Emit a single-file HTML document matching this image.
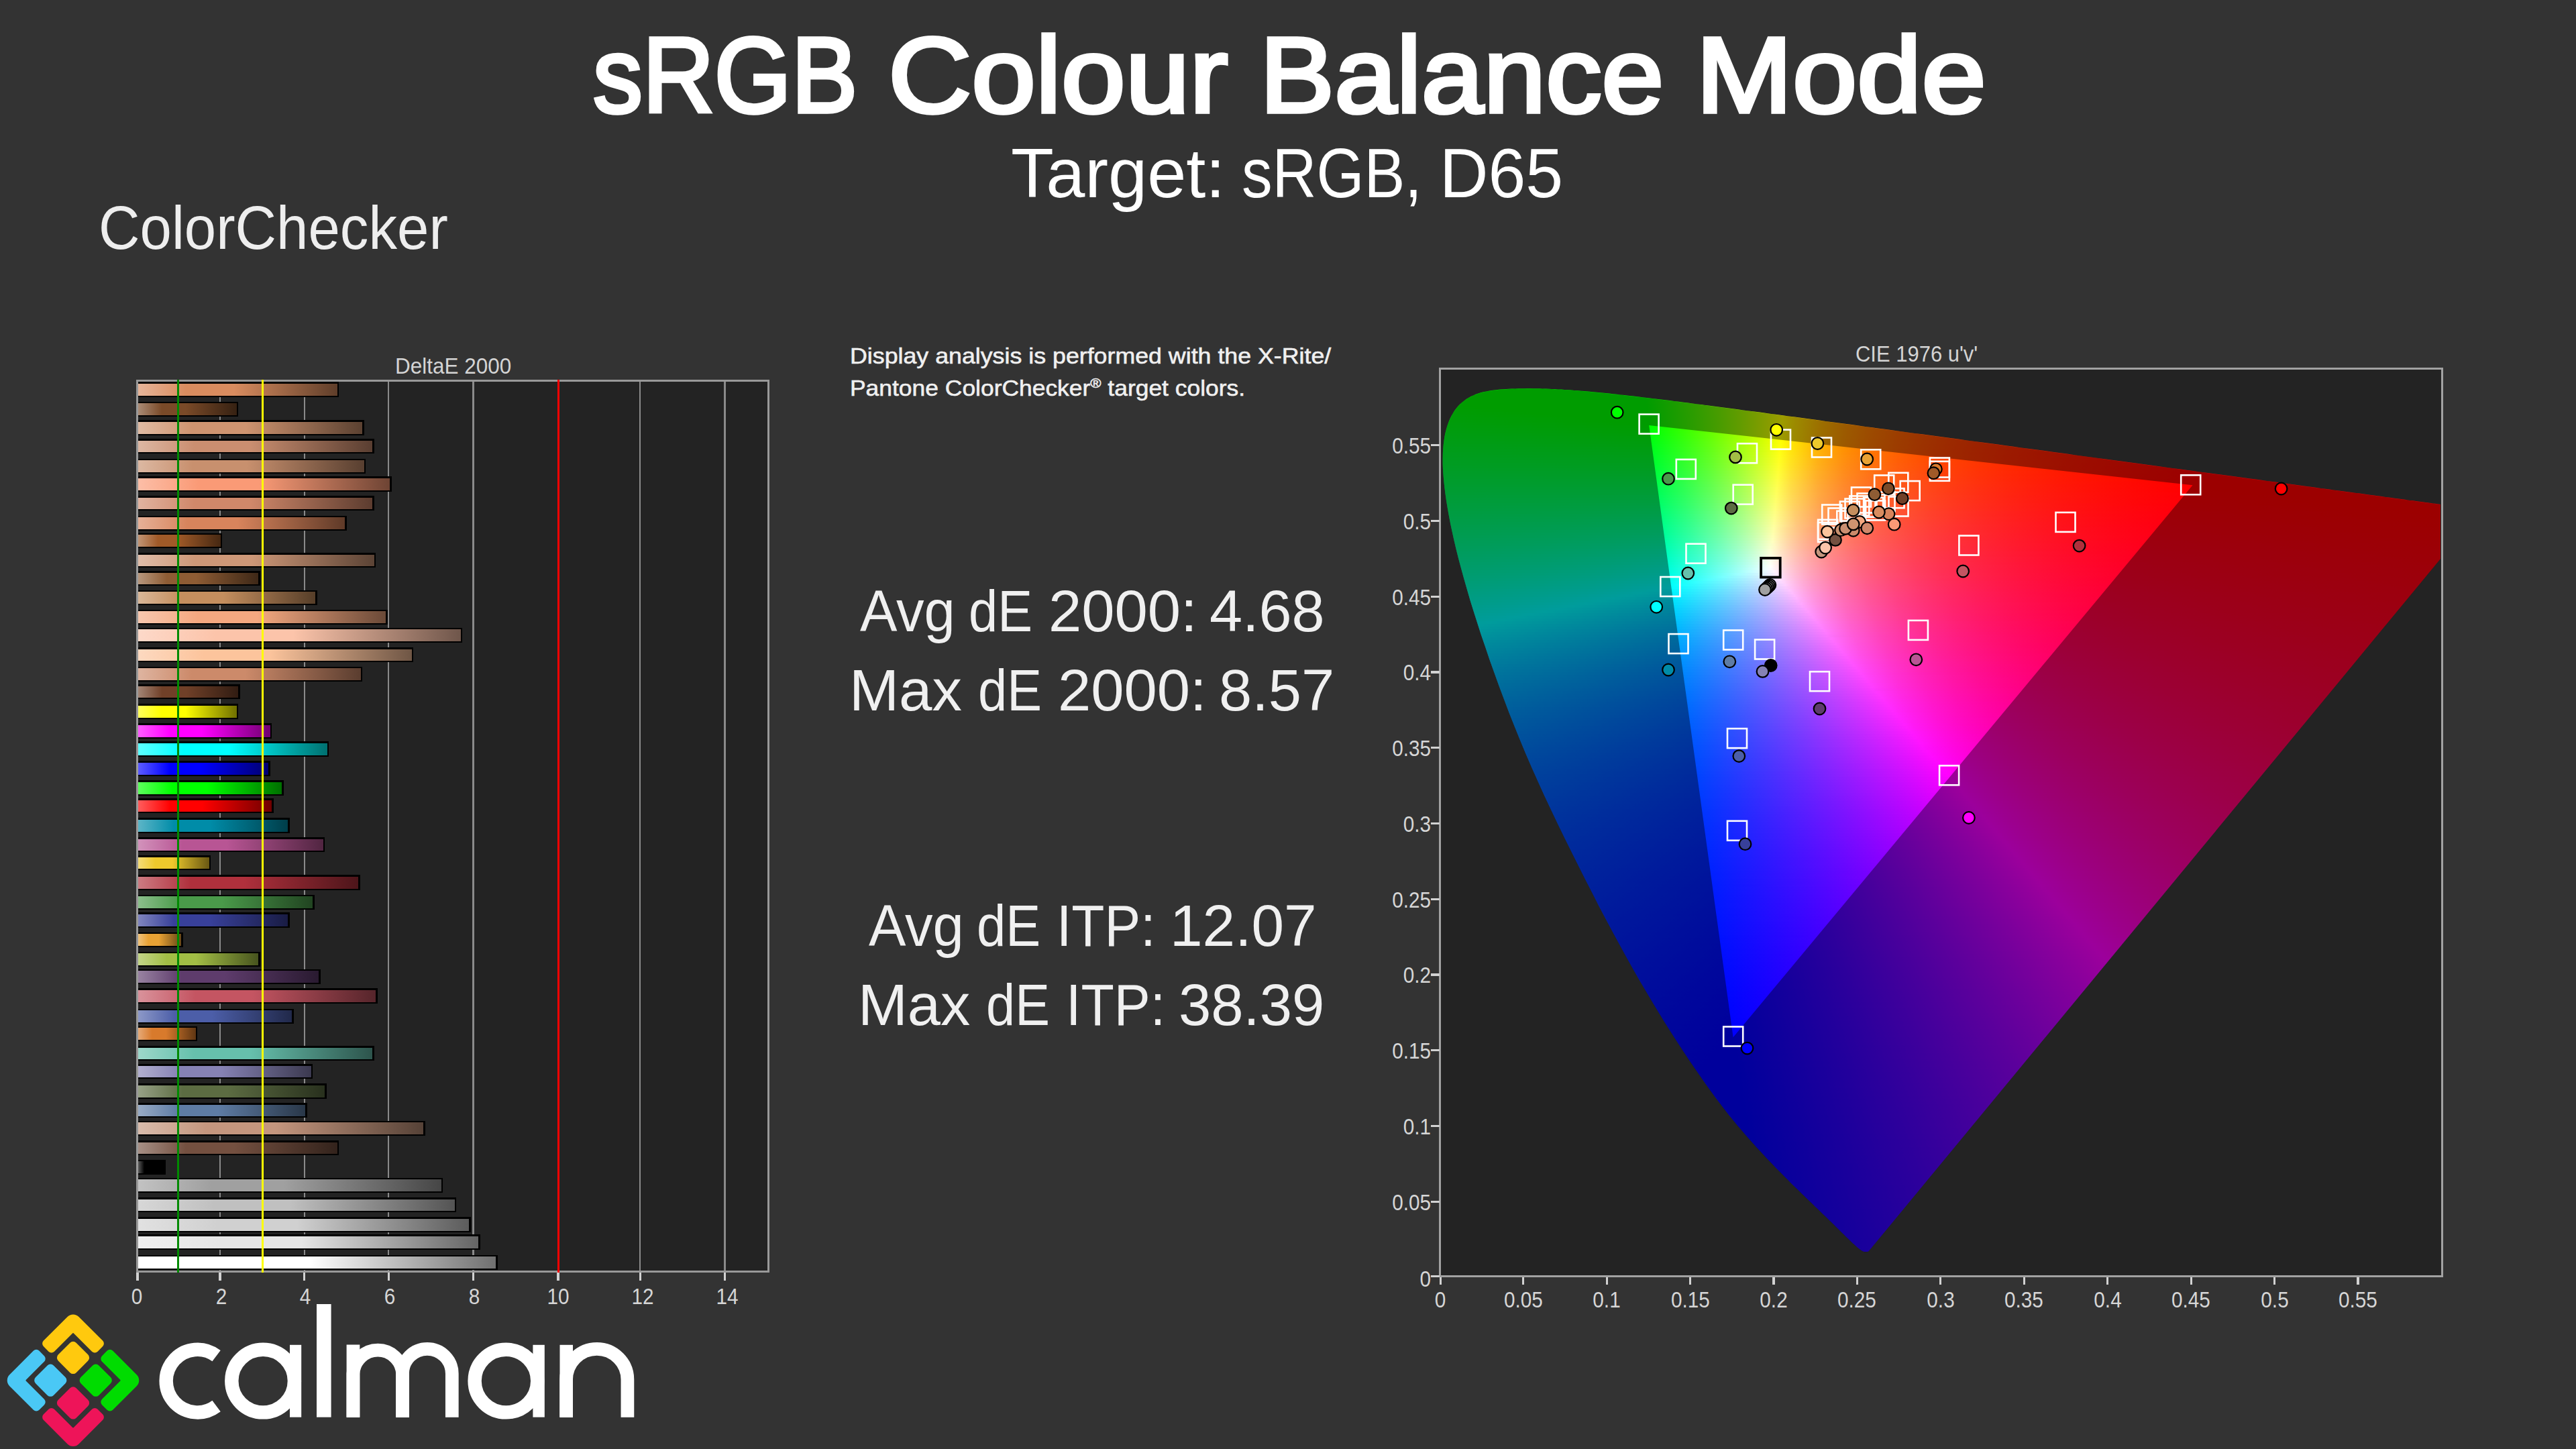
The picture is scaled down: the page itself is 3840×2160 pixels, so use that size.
<!DOCTYPE html>
<html lang="en"><head><meta charset="utf-8"><title>sRGB Colour Balance Mode</title>
<style>
html,body{margin:0;padding:0}
body{width:3840px;height:2160px;background:#333333;position:relative;overflow:hidden;font-family:"Liberation Sans",sans-serif}

#bc{position:absolute;background:#232323;overflow:hidden}
#bc b{position:absolute;display:block}
#bc .g{top:0;width:2.2px;height:100%;background:#8a8a8a}
#bc .t{top:0;width:3px;height:100%}
#bc .r{left:1.2px;height:22.3px;background:#000}
#bc .r u{position:absolute;display:block;left:2px;top:2.6px;right:2.6px;bottom:2.1px}
#bc .bd{left:0;top:0;right:0;bottom:0;border:3.2px solid #999}
.tk{position:absolute;display:block;background:#d2d2d2}
.tl{position:absolute;white-space:nowrap;color:#d6d6d6;font-size:33px;line-height:36px;transform:scaleX(.9)}

#cie .lc{position:absolute;left:0;top:0;width:100%;height:100%}#cie i{position:absolute;display:block;height:4px}
.tx{position:absolute;white-space:nowrap;line-height:1;transform-origin:0 0}
</style></head>
<body>
<span id="t1a" class="tx" style="left:883.6px;top:32.6px;font-size:159.2px;font-weight:normal;-webkit-text-stroke:5.5px #fff;color:#fff;transform:scaleX(0.9286);">sRGB</span>
<span id="t1b" class="tx" style="left:1324.0px;top:32.6px;font-size:159.2px;font-weight:normal;-webkit-text-stroke:5.5px #fff;color:#fff;transform:scaleX(1.0804);">Colour</span>
<span id="t1c" class="tx" style="left:1877.5px;top:32.6px;font-size:159.2px;font-weight:normal;-webkit-text-stroke:5.5px #fff;color:#fff;transform:scaleX(1.0467);">Balance</span>
<span id="t1d" class="tx" style="left:2527.5px;top:32.6px;font-size:159.2px;font-weight:normal;-webkit-text-stroke:5.5px #fff;color:#fff;transform:scaleX(1.0865);">Mode</span>
<span id="t2a" class="tx" style="left:1507.0px;top:205.7px;font-size:104.2px;font-weight:normal;color:#fff;transform:scaleX(1.0027);">Target:</span>
<span id="t2b" class="tx" style="left:1851.3px;top:205.7px;font-size:104.2px;font-weight:normal;color:#fff;transform:scaleX(0.8758);">sRGB,</span>
<span id="t2c" class="tx" style="left:2146.3px;top:205.7px;font-size:104.2px;font-weight:normal;color:#fff;transform:scaleX(0.9630);">D65</span>
<span id="t3" class="tx" style="left:147.3px;top:294.0px;font-size:91.4px;font-weight:normal;color:#eee;transform:scaleX(0.9321);">ColorChecker</span>
<span id="t4" class="tx" style="left:588.6px;top:529.5px;font-size:32.8px;font-weight:normal;color:#d4d4d4;transform:scaleX(0.9594);">DeltaE 2000</span>
<span id="t5" class="tx" style="left:2766.1px;top:512.2px;font-size:32.6px;font-weight:normal;color:#d4d4d4;transform:scaleX(0.9504);">CIE 1976 u'v'</span>
<span id="t6" class="tx" style="left:1266.9px;top:514.1px;font-size:33.9px;font-weight:normal;-webkit-text-stroke:.6px #f0f0f0;color:#f0f0f0;transform:scaleX(1.0549);">Display analysis is performed with the X-Rite/</span>
<span id="t7" class="tx" style="left:1266.9px;top:561.6px;font-size:33.9px;font-weight:normal;-webkit-text-stroke:.6px #f0f0f0;color:#f0f0f0;transform:scaleX(1.0451);">Pantone ColorChecker<span style="font-size:.62em;vertical-align:.55em;line-height:0">&reg;</span> target colors.</span>
<span id="t8a" class="tx" style="left:1281.5px;top:867.1px;font-size:88.0px;font-weight:normal;color:#f0f0f0;transform:scaleX(0.9439);">Avg</span>
<span id="t8b" class="tx" style="left:1443.9px;top:867.1px;font-size:88.0px;font-weight:normal;color:#f0f0f0;transform:scaleX(0.8826);">dE</span>
<span id="t8c" class="tx" style="left:1562.5px;top:867.1px;font-size:88.0px;font-weight:normal;color:#f0f0f0;transform:scaleX(1.0069);">2000:</span>
<span id="t8d" class="tx" style="left:1803.0px;top:867.1px;font-size:88.0px;font-weight:normal;color:#f0f0f0;transform:scaleX(1.0015);">4.68</span>
<span id="t9a" class="tx" style="left:1265.9px;top:985.1px;font-size:88.0px;font-weight:normal;color:#f0f0f0;transform:scaleX(1.0102);">Max</span>
<span id="t9b" class="tx" style="left:1457.9px;top:985.1px;font-size:88.0px;font-weight:normal;color:#f0f0f0;transform:scaleX(0.8826);">dE</span>
<span id="t9c" class="tx" style="left:1576.5px;top:985.1px;font-size:88.0px;font-weight:normal;color:#f0f0f0;transform:scaleX(1.0069);">2000:</span>
<span id="t9d" class="tx" style="left:1816.5px;top:985.1px;font-size:88.0px;font-weight:normal;color:#f0f0f0;transform:scaleX(1.0050);">8.57</span>
<span id="t10a" class="tx" style="left:1294.5px;top:1336.4px;font-size:88.0px;font-weight:normal;color:#f0f0f0;transform:scaleX(0.9439);">Avg</span>
<span id="t10b" class="tx" style="left:1456.0px;top:1336.4px;font-size:88.0px;font-weight:normal;color:#f0f0f0;transform:scaleX(0.8852);">dE</span>
<span id="t10c" class="tx" style="left:1574.7px;top:1336.4px;font-size:88.0px;font-weight:normal;color:#f0f0f0;transform:scaleX(0.9143);">ITP:</span>
<span id="t10d" class="tx" style="left:1743.6px;top:1336.4px;font-size:88.0px;font-weight:normal;color:#f0f0f0;transform:scaleX(0.9926);">12.07</span>
<span id="t11a" class="tx" style="left:1279.0px;top:1454.4px;font-size:88.0px;font-weight:normal;color:#f0f0f0;transform:scaleX(1.0065);">Max</span>
<span id="t11b" class="tx" style="left:1470.0px;top:1454.4px;font-size:88.0px;font-weight:normal;color:#f0f0f0;transform:scaleX(0.8812);">dE</span>
<span id="t11c" class="tx" style="left:1588.7px;top:1454.4px;font-size:88.0px;font-weight:normal;color:#f0f0f0;transform:scaleX(0.9185);">ITP:</span>
<span id="t11d" class="tx" style="left:1756.6px;top:1454.4px;font-size:88.0px;font-weight:normal;color:#f0f0f0;transform:scaleX(0.9861);">38.39</span>
<div id="bc" style="left:203.3px;top:566.0px;width:943.7px;height:1330.8px">
<b class="g" style="left:123.7px"></b>
<b class="g" style="left:249.4px"></b>
<b class="g" style="left:374.9px"></b>
<b class="g" style="left:501.2px"></b>
<b class="g" style="left:750.0px"></b>
<b class="g" style="left:876.2px"></b>
<b class="r" style="top:3.4px;width:300.9px"><u style="background:linear-gradient(90deg,#e7b599,#d98c5f 24%,#d98c5f 48%,#5f3e2a)"></u></b>
<b class="r" style="top:32.6px;width:150.8px"><u style="background:linear-gradient(90deg,#aa8b75,#7a4a28 24%,#7a4a28 48%,#362112)"></u></b>
<b class="r" style="top:60.4px;width:338.5px"><u style="background:linear-gradient(90deg,#e0bba3,#cf9470 24%,#cf9470 48%,#5b4131)"></u></b>
<b class="r" style="top:88.0px;width:353.5px"><u style="background:linear-gradient(90deg,#ddb7a3,#ca8e70 24%,#ca8e70 48%,#593e31)"></u></b>
<b class="r" style="top:117.8px;width:340.8px"><u style="background:linear-gradient(90deg,#dcb8a2,#c8906e 24%,#c8906e 48%,#583f30)"></u></b>
<b class="r" style="top:144.3px;width:379.5px"><u style="background:linear-gradient(90deg,#fcbea7,#fa9a76 24%,#fa9a76 48%,#6e4434)"></u></b>
<b class="r" style="top:173.0px;width:353.5px"><u style="background:linear-gradient(90deg,#e1b3a0,#d0886a 24%,#d0886a 48%,#5c3c2f)"></u></b>
<b class="r" style="top:202.6px;width:312.2px"><u style="background:linear-gradient(90deg,#e6b097,#d8845c 24%,#d8845c 48%,#5f3a28)"></u></b>
<b class="r" style="top:228.7px;width:126.8px"><u style="background:linear-gradient(90deg,#c29575,#a05a28 24%,#a05a28 48%,#462812)"></u></b>
<b class="r" style="top:258.0px;width:355.8px"><u style="background:linear-gradient(90deg,#e0bda9,#ce9878 24%,#ce9878 48%,#5b4335)"></u></b>
<b class="r" style="top:285.0px;width:183.4px"><u style="background:linear-gradient(90deg,#b7977d,#8e5c34 24%,#8e5c34 48%,#3e2817)"></u></b>
<b class="r" style="top:313.7px;width:268.1px"><u style="background:linear-gradient(90deg,#d9b798,#c48e5e 24%,#c48e5e 48%,#563e29)"></u></b>
<b class="r" style="top:342.7px;width:373.2px"><u style="background:linear-gradient(90deg,#f8c7ae,#f4a880 24%,#f4a880 48%,#6b4a38)"></u></b>
<b class="r" style="top:369.8px;width:484.7px"><u style="background:linear-gradient(90deg,#fdd9c9,#fcc4aa 24%,#fcc4aa 48%,#6f564b)"></u></b>
<b class="r" style="top:399.0px;width:411.9px"><u style="background:linear-gradient(90deg,#fdd9c0,#fcc49c 24%,#fcc49c 48%,#6f5645)"></u></b>
<b class="r" style="top:427.8px;width:335.9px"><u style="background:linear-gradient(90deg,#deb4a0,#cc8a6a 24%,#cc8a6a 48%,#5a3d2f)"></u></b>
<b class="r" style="top:454.1px;width:153.1px"><u style="background:linear-gradient(90deg,#a38575,#704028 24%,#704028 48%,#311c12)"></u></b>
<b class="r" style="top:483.4px;width:150.8px"><u style="background:linear-gradient(90deg,#ffff5c,#ffff00 24%,#ffff00 48%,#707000)"></u></b>
<b class="r" style="top:512.4px;width:201.0px"><u style="background:linear-gradient(90deg,#ff5cff,#ff00ff 24%,#ff00ff 48%,#700070)"></u></b>
<b class="r" style="top:539.4px;width:285.9px"><u style="background:linear-gradient(90deg,#5cffff,#00ffff 24%,#00ffff 48%,#007070)"></u></b>
<b class="r" style="top:568.4px;width:198.4px"><u style="background:linear-gradient(90deg,#5c5cff,#0000ff 24%,#0000ff 48%,#000070)"></u></b>
<b class="r" style="top:597.3px;width:218.3px"><u style="background:linear-gradient(90deg,#5cff5c,#00ff00 24%,#00ff00 48%,#007000)"></u></b>
<b class="r" style="top:624.1px;width:203.1px"><u style="background:linear-gradient(90deg,#ff5c5c,#ff0000 24%,#ff0000 48%,#700000)"></u></b>
<b class="r" style="top:653.4px;width:227.3px"><u style="background:linear-gradient(90deg,#5cb5c7,#008ca8 24%,#008ca8 48%,#003e4a)"></u></b>
<b class="r" style="top:682.0px;width:279.8px"><u style="background:linear-gradient(90deg,#d292bb,#b85594 24%,#b85594 48%,#512541)"></u></b>
<b class="r" style="top:709.2px;width:109.7px"><u style="background:linear-gradient(90deg,#f4dc78,#eec92c 24%,#eec92c 48%,#695813)"></u></b>
<b class="r" style="top:738.4px;width:332.4px"><u style="background:linear-gradient(90deg,#cc7b82,#b0303c 24%,#b0303c 48%,#4d151a)"></u></b>
<b class="r" style="top:767.6px;width:264.5px"><u style="background:linear-gradient(90deg,#8bbe8b,#4a9a4a 24%,#4a9a4a 48%,#214421)"></u></b>
<b class="r" style="top:794.3px;width:227.3px"><u style="background:linear-gradient(90deg,#8085be,#38409a 24%,#38409a 48%,#191c44)"></u></b>
<b class="r" style="top:823.5px;width:68.2px"><u style="background:linear-gradient(90deg,#f0c37d,#e8a234 24%,#e8a234 48%,#664717)"></u></b>
<b class="r" style="top:852.8px;width:183.4px"><u style="background:linear-gradient(90deg,#c3d588,#a2be45 24%,#a2be45 48%,#47541e)"></u></b>
<b class="r" style="top:878.8px;width:273.5px"><u style="background:linear-gradient(90deg,#9882a1,#5e3c6c 24%,#5e3c6c 48%,#291a30)"></u></b>
<b class="r" style="top:907.4px;width:358.4px"><u style="background:linear-gradient(90deg,#d9929b,#c45562 24%,#c45562 48%,#56252b)"></u></b>
<b class="r" style="top:937.6px;width:233.6px"><u style="background:linear-gradient(90deg,#8c98c7,#4c5ea8 24%,#4c5ea8 48%,#21294a)"></u></b>
<b class="r" style="top:963.8px;width:89.8px"><u style="background:linear-gradient(90deg,#e6aa78,#d87a2c 24%,#d87a2c 48%,#5f3613)"></u></b>
<b class="r" style="top:993.0px;width:353.5px"><u style="background:linear-gradient(90deg,#9dd7ca,#66c0ac 24%,#66c0ac 48%,#2d544c)"></u></b>
<b class="r" style="top:1020.1px;width:262.0px"><u style="background:linear-gradient(90deg,#b2afcf,#8682b4 24%,#8682b4 48%,#3b394f)"></u></b>
<b class="r" style="top:1049.4px;width:282.2px"><u style="background:linear-gradient(90deg,#97a186,#5c6c42 24%,#5c6c42 48%,#28301d)"></u></b>
<b class="r" style="top:1078.2px;width:253.5px"><u style="background:linear-gradient(90deg,#98abc5,#5e7ca4 24%,#5e7ca4 48%,#293748)"></u></b>
<b class="r" style="top:1104.6px;width:429.5px"><u style="background:linear-gradient(90deg,#d9bcac,#c4967e 24%,#c4967e 48%,#564237)"></u></b>
<b class="r" style="top:1134.0px;width:300.9px"><u style="background:linear-gradient(90deg,#a68f85,#745040 24%,#745040 48%,#33231c)"></u></b>
<b class="r" style="top:1162.7px;width:42.4px"><u style="background:linear-gradient(90deg,#5c5c5c,#000000 24%,#000000 48%,#000000)"></u></b>
<b class="r" style="top:1189.8px;width:455.8px"><u style="background:linear-gradient(90deg,#c2c2c2,#a0a0a0 24%,#a0a0a0 48%,#464646)"></u></b>
<b class="r" style="top:1219.0px;width:476.0px"><u style="background:linear-gradient(90deg,#d7d7d7,#c0c0c0 24%,#c0c0c0 48%,#545454)"></u></b>
<b class="r" style="top:1248.3px;width:497.1px"><u style="background:linear-gradient(90deg,#e1e1e1,#d0d0d0 24%,#d0d0d0 48%,#5c5c5c)"></u></b>
<b class="r" style="top:1274.4px;width:511.2px"><u style="background:linear-gradient(90deg,#efefef,#e6e6e6 24%,#e6e6e6 48%,#656565)"></u></b>
<b class="r" style="top:1304.6px;width:537.5px"><u style="background:linear-gradient(90deg,#ffffff,#ffffff 24%,#ffffff 48%,#707070)"></u></b>
<b class="bd"></b>
<b class="t" style="left:61.2px;background:#008a00"></b>
<b class="t" style="left:187.2px;background:#ffff00"></b>
<b class="t" style="left:627.7px;background:#ff0000"></b>
</div>
<b class="tk" style="left:203.2px;top:1896.6px;width:3.4px;height:12.6px"></b>
<span class="tl" style="left:153.9px;top:1914.6px;width:100px;text-align:center">0</span>
<b class="tk" style="left:326.4px;top:1896.6px;width:3.4px;height:12.6px"></b>
<span class="tl" style="left:279.6px;top:1914.6px;width:100px;text-align:center">2</span>
<b class="tk" style="left:452.1px;top:1896.6px;width:3.4px;height:12.6px"></b>
<span class="tl" style="left:405.3px;top:1914.6px;width:100px;text-align:center">4</span>
<b class="tk" style="left:577.6px;top:1896.6px;width:3.4px;height:12.6px"></b>
<span class="tl" style="left:531.0px;top:1914.6px;width:100px;text-align:center">6</span>
<b class="tk" style="left:703.9px;top:1896.6px;width:3.4px;height:12.6px"></b>
<span class="tl" style="left:656.7px;top:1914.6px;width:100px;text-align:center">8</span>
<b class="tk" style="left:830.3px;top:1896.6px;width:3.4px;height:12.6px"></b>
<span class="tl" style="left:782.4px;top:1914.6px;width:100px;text-align:center">10</span>
<b class="tk" style="left:952.7px;top:1896.6px;width:3.4px;height:12.6px"></b>
<span class="tl" style="left:908.1px;top:1914.6px;width:100px;text-align:center">12</span>
<b class="tk" style="left:1078.9px;top:1896.6px;width:3.4px;height:12.6px"></b>
<span class="tl" style="left:1033.8px;top:1914.6px;width:100px;text-align:center">14</span>
<div style="position:absolute;left:2145.4px;top:548.2px;width:1496.5px;height:1355.5px;background:#232323"></div>
<div id="cie" style="position:absolute;left:2149.0px;top:551.8px;width:1489.2px;height:1348.4px;overflow:hidden">
<div class="lc" style="clip-path:polygon(637.1px 1312.8px,637.1px 1312.8px,637.0px 1312.8px,637.0px 1312.9px,636.9px 1312.9px,636.9px 1313.0px,636.8px 1313.0px,636.8px 1313.0px,636.7px 1313.1px,636.7px 1313.2px,636.6px 1313.2px,636.5px 1313.3px,636.5px 1313.3px,636.4px 1313.4px,636.3px 1313.4px,636.2px 1313.5px,636.1px 1313.6px,636.0px 1313.6px,636.0px 1313.7px,635.9px 1313.7px,635.8px 1313.8px,635.7px 1313.8px,635.5px 1313.9px,635.4px 1314.0px,635.3px 1314.0px,635.2px 1314.0px,635.1px 1314.1px,635.0px 1314.1px,634.8px 1314.2px,634.7px 1314.2px,634.6px 1314.2px,634.4px 1314.3px,634.3px 1314.3px,634.1px 1314.3px,633.9px 1314.3px,633.8px 1314.3px,633.6px 1314.3px,633.4px 1314.3px,633.3px 1314.3px,633.1px 1314.3px,632.9px 1314.3px,632.7px 1314.3px,632.5px 1314.3px,632.3px 1314.3px,632.1px 1314.3px,631.9px 1314.3px,631.7px 1314.3px,631.4px 1314.3px,631.2px 1314.3px,631.0px 1314.3px,630.7px 1314.2px,630.4px 1314.2px,630.2px 1314.2px,629.8px 1314.1px,629.5px 1314.0px,629.2px 1313.9px,628.8px 1313.8px,628.4px 1313.6px,628.0px 1313.4px,627.5px 1313.2px,627.0px 1312.9px,626.5px 1312.6px,625.9px 1312.3px,625.3px 1311.9px,624.6px 1311.4px,623.9px 1310.9px,623.2px 1310.3px,622.4px 1309.7px,621.6px 1309.1px,620.7px 1308.3px,619.8px 1307.6px,618.8px 1306.7px,617.7px 1305.8px,616.7px 1304.9px,615.5px 1303.8px,614.4px 1302.8px,613.1px 1301.6px,611.8px 1300.4px,610.5px 1299.2px,609.1px 1297.8px,607.7px 1296.4px,606.2px 1295.0px,604.6px 1293.5px,603.0px 1291.9px,601.3px 1290.2px,599.6px 1288.5px,597.8px 1286.7px,595.9px 1284.9px,594.0px 1283.0px,592.0px 1281.0px,590.0px 1279.0px,587.8px 1276.9px,585.7px 1274.8px,583.4px 1272.5px,581.1px 1270.3px,578.7px 1267.9px,576.2px 1265.5px,573.7px 1263.0px,571.0px 1260.5px,568.3px 1257.9px,565.5px 1255.2px,562.7px 1252.4px,559.7px 1249.5px,556.7px 1246.6px,553.5px 1243.5px,550.3px 1240.4px,546.9px 1237.2px,543.5px 1233.9px,540.0px 1230.4px,536.3px 1226.9px,532.6px 1223.2px,528.7px 1219.5px,524.8px 1215.6px,520.7px 1211.6px,516.6px 1207.5px,512.3px 1203.2px,507.9px 1198.8px,503.4px 1194.3px,498.9px 1189.6px,494.2px 1184.8px,489.4px 1179.8px,484.5px 1174.7px,479.5px 1169.3px,474.4px 1163.8px,469.2px 1158.2px,463.9px 1152.3px,458.5px 1146.3px,453.0px 1140.0px,447.3px 1133.3px,441.4px 1126.4px,435.3px 1119.0px,428.9px 1111.1px,422.3px 1102.7px,415.4px 1093.7px,408.2px 1084.1px,400.7px 1073.9px,393.0px 1063.1px,385.0px 1051.7px,376.7px 1039.8px,368.3px 1027.4px,359.7px 1014.4px,350.9px 1000.9px,341.9px 986.9px,332.7px 972.4px,323.5px 957.4px,314.0px 941.8px,304.5px 925.7px,294.8px 909.1px,284.9px 891.9px,275.0px 874.2px,265.0px 855.9px,254.8px 837.2px,244.7px 818.1px,234.4px 798.6px,224.2px 778.8px,213.9px 758.7px,203.6px 738.3px,193.4px 717.8px,183.2px 697.2px,173.1px 676.4px,163.1px 655.5px,153.4px 634.6px,143.8px 613.7px,134.5px 592.9px,125.6px 572.1px,116.9px 551.4px,108.6px 530.9px,100.6px 510.6px,92.9px 490.5px,85.5px 470.7px,78.5px 451.2px,71.7px 432.1px,65.3px 413.3px,59.1px 395.1px,53.3px 377.2px,47.8px 359.9px,42.6px 343.1px,37.8px 326.7px,33.3px 311.0px,29.1px 295.8px,25.2px 281.2px,21.7px 267.2px,18.5px 253.8px,15.7px 240.9px,13.1px 228.6px,10.8px 216.8px,8.8px 205.5px,7.0px 194.8px,5.6px 184.6px,4.3px 174.8px,3.3px 165.5px,2.6px 156.6px,2.0px 148.2px,1.7px 140.1px,1.7px 132.4px,1.8px 125.1px,2.1px 118.1px,2.7px 111.4px,3.5px 105.0px,4.4px 99.0px,5.6px 93.2px,7.0px 87.7px,8.5px 82.6px,10.3px 77.7px,12.2px 73.0px,14.3px 68.7px,16.6px 64.6px,19.0px 60.8px,21.6px 57.2px,24.3px 53.9px,27.2px 50.9px,30.2px 48.1px,33.4px 45.6px,36.6px 43.2px,40.0px 41.1px,43.5px 39.2px,47.1px 37.6px,50.8px 36.0px,54.5px 34.7px,58.4px 33.5px,62.3px 32.5px,66.3px 31.6px,70.4px 30.9px,74.5px 30.2px,78.7px 29.7px,83.0px 29.2px,87.3px 28.8px,91.7px 28.4px,96.1px 28.2px,100.6px 27.9px,105.1px 27.7px,109.6px 27.6px,114.1px 27.5px,118.6px 27.4px,123.2px 27.4px,127.7px 27.3px,132.2px 27.3px,136.8px 27.4px,141.3px 27.4px,145.9px 27.5px,150.4px 27.6px,155.0px 27.8px,159.6px 27.9px,164.3px 28.1px,168.9px 28.3px,173.6px 28.6px,178.4px 28.8px,183.2px 29.1px,188.0px 29.4px,192.9px 29.8px,197.8px 30.1px,202.7px 30.5px,207.8px 30.9px,212.8px 31.3px,218.0px 31.7px,223.1px 32.2px,228.4px 32.7px,233.6px 33.2px,239.0px 33.7px,244.4px 34.2px,249.8px 34.8px,255.4px 35.4px,260.9px 36.0px,266.6px 36.6px,272.3px 37.2px,278.1px 37.9px,283.9px 38.5px,289.8px 39.2px,295.8px 39.9px,301.9px 40.6px,308.0px 41.4px,314.3px 42.1px,320.6px 42.9px,327.0px 43.7px,333.5px 44.5px,340.0px 45.3px,346.7px 46.1px,353.4px 47.0px,360.3px 47.9px,367.2px 48.7px,374.2px 49.6px,381.3px 50.6px,388.5px 51.5px,395.8px 52.5px,403.2px 53.4px,410.7px 54.4px,418.3px 55.4px,426.0px 56.4px,433.7px 57.5px,441.6px 58.5px,449.6px 59.6px,457.7px 60.6px,465.9px 61.7px,474.2px 62.8px,482.7px 64.0px,491.2px 65.1px,499.8px 66.2px,508.5px 67.4px,517.4px 68.6px,526.3px 69.8px,535.4px 71.0px,544.5px 72.3px,553.8px 73.5px,563.1px 74.8px,572.6px 76.1px,582.2px 77.4px,591.9px 78.7px,601.7px 80.0px,611.6px 81.3px,621.6px 82.7px,631.7px 84.1px,641.9px 85.5px,652.2px 86.9px,662.6px 88.3px,673.1px 89.7px,683.8px 91.1px,694.5px 92.6px,705.3px 94.1px,716.2px 95.5px,727.1px 97.0px,738.2px 98.5px,749.3px 100.0px,760.5px 101.5px,771.8px 103.0px,783.1px 104.6px,794.6px 106.1px,806.1px 107.7px,817.6px 109.2px,829.2px 110.8px,840.9px 112.4px,852.6px 114.0px,864.3px 115.6px,876.0px 117.2px,887.7px 118.8px,899.3px 120.3px,910.9px 121.9px,922.4px 123.5px,933.8px 125.0px,945.1px 126.6px,956.4px 128.1px,967.7px 129.6px,978.9px 131.1px,990.1px 132.7px,1001.3px 134.2px,1012.5px 135.7px,1023.7px 137.2px,1034.9px 138.7px,1046.0px 140.2px,1057.0px 141.7px,1067.9px 143.2px,1078.7px 144.6px,1089.3px 146.1px,1099.8px 147.5px,1110.1px 148.9px,1120.2px 150.2px,1130.2px 151.6px,1140.1px 152.9px,1149.7px 154.2px,1159.3px 155.5px,1168.7px 156.7px,1178.0px 158.0px,1187.1px 159.2px,1196.1px 160.5px,1204.9px 161.7px,1213.6px 162.8px,1222.1px 164.0px,1230.4px 165.1px,1238.6px 166.2px,1246.6px 167.3px,1254.4px 168.4px,1262.0px 169.4px,1269.5px 170.5px,1276.8px 171.4px,1283.9px 172.4px,1290.9px 173.4px,1297.7px 174.3px,1304.3px 175.2px,1310.8px 176.1px,1317.2px 176.9px,1323.4px 177.8px,1329.4px 178.6px,1335.4px 179.4px,1341.2px 180.2px,1346.8px 180.9px,1352.4px 181.7px,1357.8px 182.4px,1363.2px 183.1px,1368.4px 183.8px,1373.5px 184.5px,1378.6px 185.2px,1383.5px 185.9px,1388.4px 186.5px,1393.2px 187.2px,1397.9px 187.8px,1402.5px 188.5px,1407.1px 189.1px,1411.5px 189.7px,1415.9px 190.3px,1420.1px 190.9px,1424.3px 191.4px,1428.3px 192.0px,1432.3px 192.5px,1436.2px 193.0px,1440.0px 193.6px,1443.7px 194.1px,1447.3px 194.5px,1450.7px 195.0px,1454.1px 195.5px,1457.4px 195.9px,1460.6px 196.3px,1463.7px 196.8px,1466.7px 197.2px,1469.6px 197.5px,1472.4px 197.9px,1475.2px 198.3px,1477.8px 198.6px,1480.4px 199.0px,1482.9px 199.3px,1485.3px 199.7px,1487.7px 200.0px,1490.0px 200.3px,1492.2px 200.6px,1494.3px 200.9px,1496.4px 201.1px,1498.4px 201.4px,1500.3px 201.7px,1502.2px 201.9px,1504.0px 202.2px,1505.7px 202.4px,1507.4px 202.6px,1509.0px 202.8px,1510.5px 203.1px,1512.0px 203.3px,1513.4px 203.4px,1514.8px 203.6px,1516.1px 203.8px,1517.3px 204.0px,1518.5px 204.1px,1519.6px 204.3px,1520.7px 204.4px,1521.7px 204.6px,1522.7px 204.7px,1523.6px 204.8px,1524.5px 205.0px,1525.3px 205.1px,1526.1px 205.2px,1526.9px 205.3px,1527.6px 205.4px,1528.3px 205.5px,1529.1px 205.6px,1529.7px 205.7px,1530.4px 205.8px,1531.1px 205.9px,1531.7px 205.9px,1532.4px 206.0px,1533.0px 206.1px,1533.6px 206.2px,1534.3px 206.3px,1534.9px 206.4px,1535.5px 206.5px,1536.1px 206.5px,1536.7px 206.6px,1537.3px 206.7px,1537.8px 206.8px,1538.4px 206.8px,1539.0px 206.9px,1539.5px 207.0px,1540.1px 207.1px,1540.6px 207.1px,1541.1px 207.2px,1541.6px 207.3px,1542.1px 207.4px,1542.6px 207.4px,1543.1px 207.5px,1543.6px 207.6px,1544.0px 207.6px,1544.5px 207.7px,1544.9px 207.7px,1545.3px 207.8px,1545.7px 207.8px,1546.0px 207.9px,1546.4px 207.9px,1546.7px 208.0px,1547.1px 208.0px,1547.4px 208.1px,1547.6px 208.1px,1547.9px 208.1px,1548.2px 208.2px,1548.4px 208.2px,1548.6px 208.2px,1548.7px 208.3px,1548.9px 208.3px,1549.0px 208.3px,1549.1px 208.3px,1549.2px 208.3px,1549.3px 208.3px,1549.3px 208.3px,1549.3px 208.3px,1549.3px 208.3px,1549.2px 208.3px)">
<i style="left:71px;top:26px;width:132px;background:linear-gradient(90deg,#0f0 0px,#0f0 40px,#0f0 80px,#0f0 120px,#0f0 132px)"></i><i style="left:53px;top:30px;width:195px;background:linear-gradient(90deg,#0f0 0px,#0f0 40px,#0f0 80px,#0f0 120px,#0f0 160px,#0f0 195px)"></i><i style="left:42px;top:34px;width:242px;background:linear-gradient(90deg,#0f0 0px,#0f0 40px,#0f0 80px,#0f0 120px,#0f0 160px,#0f0 200px,#0f0 240px,#0f0 242px)"></i><i style="left:35px;top:38px;width:283px;background:linear-gradient(90deg,#0f0 0px,#0f0 40px,#0f0 80px,#0f0 120px,#0f0 160px,#0f0 200px,#0f0 240px,#0f0 268.4px,#0bff00 280px,#0eff00 283px)"></i><i style="left:29px;top:42px;width:322px;background:linear-gradient(90deg,#0f0 0px,#0f0 40px,#0f0 80px,#0f0 120px,#0f0 160px,#0f0 200px,#0f0 240px,#0f0 275px,#05ff00 280px,#2dff00 320px,#30ff00 322px)"></i><i style="left:24px;top:46px;width:358px;background:linear-gradient(90deg,#0f0 0px,#0f0 40px,#0f0 80px,#0f0 120px,#0f0 160px,#0f0 200px,#0f0 240px,#0f0 280px,#28ff00 320px,#51ff00 358px)"></i><i style="left:21px;top:50px;width:392px;background:linear-gradient(90deg,#00ff01 0px,#0f0 17.3px,#0f0 40px,#0f0 80px,#0f0 120px,#0f0 160px,#0f0 200px,#0f0 240px,#0f0 280px,#0f0 284.1px,#24ff00 320px,#50ff00 360px,#76ff00 392px)"></i><i style="left:17px;top:54px;width:426px;background:linear-gradient(90deg,#00ff04 0px,#00ff01 40px,#0f0 57.6px,#0f0 80px,#0f0 120px,#0f0 160px,#0f0 200px,#0f0 240px,#0f0 280px,#0f0 288.6px,#20ff00 320px,#4bff00 360px,#7bff00 400px,#9dff00 426px)"></i><i style="left:15px;top:58px;width:458px;background:linear-gradient(90deg,#00ff06 0px,#00ff04 40px,#00ff01 80px,#0f0 95.9px,#0f0 120px,#0f0 160px,#0f0 200px,#0f0 240px,#0f0 280px,#0f0 291.2px,#1dff00 320px,#49ff00 360px,#79ff00 400px,#aeff00 440px,#c7ff00 458px)"></i><i style="left:12px;top:62px;width:491px;background:linear-gradient(90deg,#00ff09 0px,#00ff06 40px,#00ff04 80px,#00ff01 120px,#0f0 135.2px,#0f0 160px,#0f0 200px,#0f0 240px,#0f0 280px,#0f0 294.7px,#19ff00 320px,#45ff00 360px,#75ff00 400px,#af0 440px,#e4ff00 480px,#f6ff00 491px)"></i><i style="left:10px;top:66px;width:523px;background:linear-gradient(90deg,#00ff0b 0px,#00ff09 40px,#00ff06 80px,#00ff04 120px,#00ff01 160px,#0f0 173.5px,#0f0 200px,#0f0 240px,#0f0 280px,#0f0 297.3px,#17ff00 320px,#42ff00 360px,#72ff00 400px,#a7ff00 440px,#e2ff00 480px,#ff0 498.4px,#ffdf00 520px,#ffdb00 523px)"></i><i style="left:8px;top:70px;width:554px;background:linear-gradient(90deg,#00ff0e 0px,#00ff0b 40px,#00ff09 80px,#00ff07 120px,#00ff04 160px,#00ff01 200px,#0f0 211.9px,#0f0 240px,#0f0 280px,#0f0 299.8px,#14ff00 320px,#40ff00 360px,#6fff00 400px,#a4ff00 440px,#dfff00 480px,#ff0 500.1px,#ffe100 520px,#ffb900 554px)"></i><i style="left:7px;top:74px;width:585px;background:linear-gradient(90deg,#00ff10 0px,#00ff0e 40px,#00ff0c 80px,#00ff09 120px,#00ff07 160px,#00ff04 200px,#00ff01 240px,#0f0 249.2px,#0f0 280px,#0f0 301.4px,#13ff00 320px,#3eff00 360px,#6eff00 400px,#a3ff00 440px,#deff00 480px,#ff0 500.8px,#ffe200 520px,#ffb400 560px,#ff9d00 585px)"></i><i style="left:5px;top:78px;width:616px;background:linear-gradient(90deg,#00ff13 0px,#0f1 40px,#00ff0e 80px,#00ff0c 120px,#00ff0a 160px,#00ff07 200px,#00ff04 240px,#00ff01 280px,#0f0 287.5px,#0f0 303.9px,#10ff00 320px,#3cff00 360px,#6bff00 400px,#a0ff00 440px,#dbff00 480px,#ff0 502.5px,#ffe400 520px,#ffb500 560px,#ff9300 600px,#ff8700 616px)"></i><i style="left:4px;top:82px;width:647px;background:linear-gradient(90deg,#00ff15 0px,#00ff13 40px,#0f1 80px,#00ff0f 120px,#00ff0c 160px,#00ff0a 200px,#00ff07 240px,#00ff04 280px,#00ff02 305.5px,#0fff00 320px,#14ff00 324.8px,#3aff00 360px,#6aff00 400px,#9fff00 440px,#daff00 480px,#ff0 503.2px,#ffe500 520px,#ffb600 560px,#ff9300 600px,#ff7900 640px,#ff7500 647px)"></i><i style="left:3px;top:86px;width:677px;background:linear-gradient(90deg,#00ff17 0px,#00ff16 40px,#00ff14 80px,#0f1 120px,#00ff0f 160px,#00ff0d 200px,#00ff0a 240px,#00ff07 280px,#00ff05 307px,#0dff04 320px,#39ff00 360px,#69ff00 400px,#9eff00 440px,#d9ff00 480px,#ff0 503.8px,#ffe600 520px,#ffb600 560px,#ff9300 600px,#ff7900 640px,#ff6500 677px)"></i><i style="left:2px;top:90px;width:708px;background:linear-gradient(90deg,#00ff1a 0px,#00ff18 40px,#00ff16 80px,#00ff14 120px,#00ff12 160px,#00ff10 200px,#00ff0d 240px,#00ff0a 280px,#00ff08 308.6px,#0cff07 320px,#37ff04 360px,#6f0 399.4px,#9cff00 440px,#d7ff00 480px,#ff0 504.5px,#ffe700 520px,#ffb700 560px,#ff9300 600px,#ff7900 640px,#ff6400 680px,#ff5800 708px)"></i><i style="left:1px;top:94px;width:738px;background:linear-gradient(90deg,#00ff1c 0px,#00ff1b 40px,#00ff19 80px,#00ff17 120px,#00ff15 160px,#00ff13 200px,#00ff10 240px,#00ff0d 280px,#00ff0b 310.1px,#0aff0a 320px,#36ff07 360px,#66ff04 400px,#96ff00 436.7px,#9bff00 440px,#d6ff00 480px,#ff0 505.2px,#ffe800 520px,#ffb700 560px,#ff9400 600px,#ff7900 640px,#ff6400 680px,#ff5300 720px,#ff4c00 738px)"></i><i style="left:0px;top:98px;width:769px;background:linear-gradient(90deg,#00ff1f 0px,#00ff1d 40px,#00ff1c 80px,#00ff1a 120px,#00ff18 160px,#00ff16 200px,#00ff13 240px,#0f1 280px,#00ff0e 311.7px,#09ff0e 320px,#34ff0b 360px,#64ff07 400px,#99ff04 440px,#cbff00 474px,#d5ff00 480px,#ff0 505.9px,#ffe900 520px,#ffb700 560px,#ff9400 600px,#ff7900 640px,#ff6400 680px,#ff5300 720px,#ff4500 760px,#ff4200 769px)"></i><i style="left:0px;top:102px;width:799px;background:linear-gradient(90deg,#00ff21 0px,#00ff20 40px,#00ff1e 80px,#00ff1c 120px,#00ff1b 160px,#00ff18 200px,#00ff16 240px,#00ff14 280px,#00ff12 312.2px,#08ff11 320px,#34ff0e 360px,#64ff0b 400px,#99ff07 440px,#d5ff03 480px,#ffff01 505.6px,#fff700 510.3px,#ffe800 520px,#ffb700 560px,#ff9300 600px,#ff7800 640px,#ff6300 680px,#ff5200 720px,#f40 760px,#ff3900 799px)"></i><i style="left:0px;top:106px;width:828px;background:linear-gradient(90deg,#00ff24 0px,#0f2 40px,#00ff21 80px,#00ff1f 120px,#00ff1d 160px,#00ff1b 200px,#00ff19 240px,#00ff17 280px,#00ff15 312.8px,#07ff14 320px,#33ff12 360px,#64ff0f 400px,#9aff0b 440px,#d5ff07 480px,#ffff05 505.3px,#ffe803 520px,#ffc500 546.6px,#ffb600 560px,#ff9300 600px,#ff7800 640px,#ff6300 680px,#ff5200 720px,#f40 760px,#ff3800 800px,#ff3100 828px)"></i><i style="left:0px;top:110px;width:858px;background:linear-gradient(90deg,#00ff26 0px,#00ff25 40px,#00ff24 80px,#0f2 120px,#00ff20 160px,#00ff1e 200px,#00ff1c 240px,#00ff1a 280px,#00ff18 313.3px,#07ff18 320px,#33ff15 360px,#64ff12 400px,#9aff0f 440px,#d6ff0b 480px,#ffff09 504.9px,#ffe707 520px,#ffb602 560px,#ffa000 582.9px,#ff9200 600px,#f70 640px,#ff6200 680px,#ff5100 720px,#ff4300 760px,#ff3800 800px,#ff2e00 840px,#ff2a00 858px)"></i><i style="left:0px;top:114px;width:887px;background:linear-gradient(90deg,#00ff29 0px,#00ff28 40px,#00ff26 80px,#00ff25 120px,#00ff23 160px,#00ff21 200px,#00ff20 240px,#00ff1d 280px,#00ff1c 313.9px,#06ff1b 320px,#33ff19 360px,#63ff16 400px,#9aff13 440px,#d6ff10 480px,#ffff0d 504.6px,#ffe60b 520px,#ffb505 560px,#ff9101 600px,#ff8400 619.2px,#f70 640px,#ff6200 680px,#ff5100 720px,#ff4300 760px,#ff3700 800px,#ff2e00 840px,#ff2500 880px,#ff2400 887px)"></i><i style="left:0px;top:118px;width:916px;background:linear-gradient(90deg,#00ff2b 0px,#00ff2a 40px,#00ff29 80px,#00ff28 120px,#00ff26 160px,#00ff24 200px,#00ff23 240px,#00ff21 280px,#00ff1f 314.4px,#06ff1f 320px,#32ff1c 360px,#63ff1a 400px,#9aff17 440px,#d6ff14 480px,#ffff12 504.3px,#ffe60f 520px,#ffb409 560px,#ff9104 600px,#ff7601 640px,#ff6d00 655.5px,#ff6100 680px,#ff5000 720px,#ff4200 760px,#ff3700 800px,#ff2d00 840px,#ff2500 880px,#ff1e00 916px)"></i><i style="left:0px;top:122px;width:946px;background:linear-gradient(90deg,#00ff2e 0px,#00ff2d 40px,#00ff2c 80px,#00ff2a 120px,#00ff29 160px,#00ff27 200px,#00ff26 240px,#00ff24 280px,#0f2 315px,#05ff22 320px,#32ff20 360px,#63ff1e 400px,#9aff1b 440px,#d7ff18 480px,#ffff16 504px,#ffe513 520px,#ffb40c 560px,#ff9007 600px,#ff7504 640px,#ff6101 680px,#ff5b00 691.8px,#ff5000 720px,#ff4200 760px,#ff3600 800px,#ff2d00 840px,#ff2400 880px,#ff1d00 920px,#ff1900 946px)"></i><i style="left:0px;top:126px;width:975px;background:linear-gradient(90deg,#00ff30 0px,#00ff2f 40px,#00ff2e 80px,#00ff2d 120px,#00ff2c 160px,#00ff2b 200px,#00ff29 240px,#00ff27 280px,#00ff26 315.5px,#05ff26 320px,#31ff24 360px,#63ff21 400px,#9aff1f 440px,#d7ff1c 480px,#ffff1a 503.7px,#ffe517 520px,#ffb30f 560px,#ff900a 600px,#ff7506 640px,#ff6003 680px,#ff4f00 720px,#ff4c00 728.1px,#ff4200 760px,#ff3600 800px,#ff2c00 840px,#ff2400 880px,#ff1d00 920px,#ff1600 960px,#ff1400 975px)"></i><i style="left:0px;top:130px;width:1005px;background:linear-gradient(90deg,#0f3 0px,#00ff32 40px,#00ff31 80px,#00ff30 120px,#00ff2f 160px,#00ff2e 200px,#00ff2c 240px,#00ff2b 280px,#00ff29 316.1px,#04ff29 320px,#31ff27 360px,#63ff25 400px,#9aff23 440px,#d7ff21 480px,#ffff1f 503.3px,#ffe41b 520px,#ffb313 560px,#ff8f0d 600px,#ff7409 640px,#ff5f05 680px,#ff4f02 720px,#ff4100 760px,#ff4000 764.4px,#ff3600 800px,#ff2c00 840px,#ff2400 880px,#ff1c00 920px,#ff1600 960px,#ff1000 1000px,#ff1000 1005px)"></i><i style="left:0px;top:134px;width:1035px;background:linear-gradient(90deg,#00ff36 0px,#00ff35 40px,#00ff34 80px,#0f3 120px,#00ff32 160px,#00ff31 200px,#00ff2f 240px,#00ff2e 280px,#00ff2d 316.6px,#04ff2d 320px,#31ff2b 360px,#62ff29 400px,#9aff27 440px,#d8ff25 480px,#ffff23 503px,#ffe41f 520px,#ffb216 560px,#ff8f10 600px,#ff740b 640px,#ff5f07 680px,#ff4e04 720px,#ff4102 760px,#ff3500 800px,#ff2b00 840px,#ff2300 880px,#ff1c00 920px,#ff1600 960px,#ff1000 1000px,#ff0c00 1035px)"></i><i style="left:0px;top:138px;width:1064px;background:linear-gradient(90deg,#00ff38 0px,#00ff37 40px,#00ff37 80px,#00ff36 120px,#00ff35 160px,#00ff34 200px,#0f3 240px,#00ff32 280px,#00ff30 317.2px,#30ff2f 360px,#62ff2d 400px,#9aff2b 440px,#d8ff29 480px,#ffff28 502.7px,#ffe323 520px,#ffb119 560px,#ff8e13 600px,#ff730e 640px,#ff5e0a 680px,#ff4e06 720px,#ff4004 760px,#ff3502 800px,#ff2c00 837.1px,#ff2300 880px,#ff1c00 920px,#ff1500 960px,#ff1000 1000px,#ff0b00 1040px,#ff0800 1064px)"></i><i style="left:0px;top:142px;width:1094px;background:linear-gradient(90deg,#00ff3b 0px,#00ff3a 40px,#00ff39 80px,#00ff39 120px,#00ff38 160px,#00ff37 200px,#00ff36 240px,#00ff35 280px,#00ff34 317.7px,#30ff32 360px,#62ff31 400px,#9aff2f 440px,#d9ff2e 480px,#ffff2d 502.4px,#ffe227 520px,#ffb11d 560px,#ff8d16 600px,#ff7310 640px,#ff5e0c 680px,#ff4d08 720px,#ff4006 760px,#ff3403 800px,#ff2b01 840px,#ff2400 873.4px,#f20 880px,#ff1b00 920px,#ff1500 960px,#ff0f00 1000px,#ff0a00 1040px,#ff0600 1080px,#ff0500 1094px)"></i><i style="left:0px;top:146px;width:1124px;background:linear-gradient(90deg,#00ff3d 0px,#00ff3d 40px,#00ff3c 80px,#00ff3c 120px,#00ff3b 160px,#00ff3a 200px,#00ff39 240px,#00ff38 280px,#00ff37 318.3px,#2fff36 360px,#62ff35 400px,#9aff34 440px,#d9ff32 480px,#ffff31 502.1px,#ffe22b 520px,#ffb020 560px,#ff8d18 600px,#ff7213 640px,#ff5d0e 680px,#ff4d0a 720px,#ff3f08 760px,#ff3405 800px,#ff2a03 840px,#ff2201 880px,#ff1d00 909.7px,#ff1b00 920px,#ff1500 960px,#ff0f00 1000px,#ff0a00 1040px,#ff0600 1080px,#ff0200 1120px,#ff0100 1124px)"></i><i style="left:0px;top:150px;width:1153px;background:linear-gradient(90deg,#00ff40 0px,#00ff40 40px,#00ff3f 80px,#00ff3f 120px,#00ff3e 160px,#00ff3d 200px,#00ff3d 240px,#00ff3c 280px,#00ff3b 318.8px,#2fff3a 360px,#61ff39 400px,#9aff38 440px,#d9ff37 480px,#ffff36 501.8px,#ffe12f 520px,#ffb024 560px,#ff8c1b 600px,#ff7215 640px,#ff5d10 680px,#ff4c0d 720px,#ff3f09 760px,#ff3307 800px,#ff2a05 840px,#ff2203 880px,#ff1a01 920px,#ff1600 946px,#ff1400 960px,#ff0f00 1000px,#ff0a00 1040px,#ff0500 1080px,#ff0100 1120px,#f00 1135.5px,#f00 1153px)"></i><i style="left:0px;top:154px;width:1183px;background:linear-gradient(90deg,#00ff43 0px,#00ff42 40px,#00ff42 80px,#00ff42 120px,#00ff41 160px,#00ff41 200px,#00ff40 240px,#00ff3f 280px,#00ff3f 319.4px,#2eff3e 360px,#61ff3d 400px,#9aff3c 440px,#daff3b 480px,#ffff3b 501.4px,#ffe133 520px,#ffaf27 560px,#ff8c1e 600px,#ff7118 640px,#ff5c13 680px,#ff4c0f 720px,#ff3e0b 760px,#ff3308 800px,#ff2906 840px,#ff2104 880px,#ff1a02 920px,#ff1401 960px,#f10 982.3px,#ff0e00 1000px,#ff0900 1040px,#ff0500 1080px,#ff0100 1120px,#f00 1132.1px,#f00 1160px,#f00 1183px)"></i><i style="left:0px;top:158px;width:1212px;background:linear-gradient(90deg,#00ff45 0px,#00ff45 40px,#00ff45 80px,#00ff45 120px,#0f4 160px,#0f4 200px,#00ff43 240px,#00ff43 280px,#00ff42 319.9px,#2eff42 360px,#61ff41 400px,#9aff41 440px,#daff40 480px,#ffff3f 501.1px,#ffe037 520px,#ffae2a 560px,#ff8b21 600px,#ff701a 640px,#ff5c15 680px,#ff4b11 720px,#ff3e0d 760px,#ff320a 800px,#ff2908 840px,#ff2105 880px,#ff1a04 920px,#ff1302 960px,#ff0e01 1000px,#ff0c00 1018.6px,#ff0900 1040px,#ff0500 1080px,#ff0100 1120px,#f00 1128.8px,#f00 1160px,#f00 1200px,#f00 1212px)"></i><i style="left:0px;top:162px;width:1242px;background:linear-gradient(90deg,#00ff48 0px,#00ff48 40px,#00ff48 80px,#00ff48 120px,#00ff47 160px,#00ff47 200px,#00ff47 240px,#00ff47 280px,#00ff46 320px,#2eff46 360px,#61ff45 400px,#9aff45 440px,#daff45 480px,#ff4 500.8px,#ffdf3c 520px,#ffae2e 560px,#ff8a24 600px,#ff701d 640px,#ff5b17 680px,#ff4b13 720px,#ff3d0f 760px,#ff320c 800px,#ff2809 840px,#ff2007 880px,#ff1905 920px,#ff1303 960px,#ff0e02 1000px,#ff0900 1040px,#ff0700 1054.9px,#ff0400 1080px,#ff0100 1120px,#f00 1125.5px,#f00 1160px,#f00 1200px,#f00 1240px,#f00 1242px)"></i><i style="left:0px;top:166px;width:1271px;background:linear-gradient(90deg,#00ff4b 0px,#00ff4b 40px,#00ff4b 80px,#00ff4b 120px,#00ff4a 160px,#00ff4a 200px,#00ff4a 240px,#00ff4a 280px,#00ff4a 320px,#2dff4a 360px,#61ff4a 400px,#9aff49 440px,#dbff49 480px,#ffff49 500.5px,#ffdf40 520px,#ffad31 560px,#ff8a27 600px,#ff6f1f 640px,#ff5b19 680px,#ff4a15 720px,#ff3d11 760px,#ff320d 800px,#ff280b 840px,#ff2008 880px,#ff1906 920px,#ff1305 960px,#ff0d03 1000px,#ff0802 1040px,#ff0400 1080px,#ff0300 1091.2px,#f00 1120px,#f00 1160px,#f00 1200px,#f00 1240px,#f00 1271px)"></i><i style="left:0px;top:170px;width:1301px;background:linear-gradient(90deg,#00ff4e 0px,#00ff4e 40px,#00ff4e 80px,#00ff4e 120px,#00ff4e 160px,#00ff4e 200px,#00ff4e 240px,#00ff4e 280px,#00ff4e 320px,#2dff4e 360px,#60ff4e 400px,#9aff4e 440px,#dbff4e 480px,#ffff4e 500.2px,#ffde44 520px,#ffad35 560px,#ff892a 600px,#ff6f22 640px,#ff5a1c 680px,#ff4a17 720px,#ff3c13 760px,#ff310f 800px,#ff280c 840px,#ff200a 880px,#ff1808 920px,#ff1206 960px,#ff0d04 1000px,#ff0803 1040px,#ff0401 1080px,#f00 1118.8px,#f00 1127.5px,#f00 1160px,#f00 1200px,#f00 1240px,#f00 1280px,#f00 1301px)"></i><i style="left:1px;top:174px;width:1329px;background:linear-gradient(90deg,#00ff50 0px,#00ff50 40px,#00ff51 80px,#00ff51 120px,#00ff51 160px,#00ff51 200px,#00ff51 240px,#00ff51 280px,#00ff52 320px,#2dff52 360px,#62ff52 400px,#9cff52 440px,#ddff53 480px,#ffff53 498.8px,#ffdc48 520px,#ffab38 560px,#ff882d 600px,#ff6e24 640px,#ff591e 680px,#ff4919 720px,#ff3b14 760px,#ff3011 800px,#ff270e 840px,#ff1f0b 880px,#ff1809 920px,#ff1207 960px,#ff0c05 1000px,#ff0804 1040px,#ff0302 1080px,#ff0001 1114.5px,#ff0001 1120px,#f00 1160px,#f00 1200px,#f00 1240px,#f00 1280px,#f00 1320px,#f00 1329px)"></i><i style="left:1px;top:178px;width:1359px;background:linear-gradient(90deg,#00ff53 0px,#00ff53 40px,#00ff54 80px,#00ff54 120px,#00ff54 160px,#00ff54 200px,#0f5 240px,#0f5 280px,#0f5 320px,#2dff56 360px,#61ff56 400px,#9cff57 440px,#deff58 480px,#ffff58 498.5px,#ffdb4c 520px,#ffaa3c 560px,#ff8730 600px,#ff6d27 640px,#ff5920 680px,#ff481b 720px,#ff3b16 760px,#ff3013 800px,#ff270f 840px,#ff1e0d 880px,#ff180a 920px,#ff1108 960px,#ff0c07 1000px,#ff0705 1040px,#ff0303 1080px,#ff0002 1111.2px,#ff0002 1120px,#ff0001 1160px,#f00 1199.1px,#f00 1240px,#f00 1280px,#f00 1320px,#f00 1359px)"></i><i style="left:2px;top:182px;width:1387px;background:linear-gradient(90deg,#00ff56 0px,#00ff56 40px,#00ff57 80px,#00ff57 120px,#00ff57 160px,#00ff58 200px,#00ff58 240px,#00ff59 280px,#00ff59 320px,#2eff5a 360px,#62ff5b 400px,#9dff5c 440px,#e0ff5d 480px,#ffff5d 497.2px,#ffd950 520px,#ffa93f 560px,#ff8633 600px,#ff6c29 640px,#ff5822 680px,#ff471d 720px,#ff3a18 760px,#ff2f14 800px,#ff2611 840px,#ff1e0e 880px,#ff170c 920px,#ff110a 960px,#ff0c08 1000px,#ff0706 1040px,#ff0305 1080px,#ff0004 1106.8px,#ff0003 1120px,#ff0002 1160px,#ff0001 1200px,#f00 1234.4px,#f00 1240px,#f00 1280px,#f00 1320px,#f00 1360px,#f00 1387px)"></i><i style="left:2px;top:186px;width:1417px;background:linear-gradient(90deg,#00ff59 0px,#00ff59 40px,#00ff5a 80px,#00ff5a 120px,#00ff5b 160px,#00ff5b 200px,#00ff5c 240px,#00ff5d 280px,#00ff5d 320px,#2dff5e 360px,#62ff5f 400px,#9dff60 440px,#e0ff62 480px,#ffff62 496.9px,#ffd954 520px,#ffa842 560px,#ff8536 600px,#ff6b2c 640px,#ff5725 680px,#ff471f 720px,#ff3a1a 760px,#ff2f16 800px,#ff2512 840px,#ff1d10 880px,#ff170d 920px,#ff110b 960px,#ff0b09 1000px,#ff0707 1040px,#ff0206 1080px,#ff0005 1103.5px,#ff0004 1120px,#ff0003 1160px,#ff0002 1200px,#ff0001 1240px,#f00 1270.7px,#f00 1280px,#f00 1320px,#f00 1360px,#f00 1400px,#f00 1417px)"></i><i style="left:3px;top:190px;width:1445px;background:linear-gradient(90deg,#00ff5b 0px,#00ff5c 40px,#00ff5d 80px,#00ff5d 120px,#00ff5e 160px,#00ff5f 200px,#00ff5f 240px,#00ff60 280px,#00ff61 320px,#2eff62 360px,#63ff64 400px,#9fff65 440px,#e2ff67 480px,#ffff67 495.6px,#ffd758 520px,#ffa645 560px,#ff8438 600px,#ff6a2e 640px,#ff5627 680px,#ff4621 720px,#ff391c 760px,#ff2e17 800px,#ff2514 840px,#ff1d11 880px,#ff160e 920px,#ff100c 960px,#ff0b0a 1000px,#ff0608 1040px,#ff0207 1080px,#ff0006 1099.2px,#ff0005 1120px,#ff0004 1160px,#ff0003 1200px,#ff0002 1240px,#ff0001 1280px,#f00 1306px,#f00 1320px,#f00 1360px,#f00 1400px,#f00 1440px,#f00 1445px)"></i><i style="left:3px;top:194px;width:1475px;background:linear-gradient(90deg,#00ff5e 0px,#00ff5f 40px,#00ff60 80px,#00ff60 120px,#00ff61 160px,#00ff62 200px,#00ff63 240px,#00ff64 280px,#00ff65 320px,#2eff67 360px,#63ff68 400px,#9fff6a 440px,#e3ff6c 480px,#ffff6c 495.2px,#ffd65c 520px,#ffa649 560px,#ff833b 600px,#ff6931 640px,#ff5529 680px,#ff4623 720px,#ff381e 760px,#ff2e19 800px,#ff2416 840px,#ff1c12 880px,#ff1610 920px,#ff100d 960px,#ff0a0b 1000px,#ff0609 1040px,#ff0208 1080px,#ff0007 1095.8px,#ff0006 1120px,#ff0005 1160px,#ff0004 1200px,#ff0002 1240px,#ff0001 1280px,#f00 1320px,#f00 1342.3px,#f00 1360px,#f00 1400px,#f00 1440px,#f00 1475px)"></i><i style="left:4px;top:198px;width:1486px;background:linear-gradient(90deg,#00ff61 0px,#00ff62 40px,#00ff63 80px,#00ff64 120px,#00ff65 160px,#0f6 200px,#00ff67 240px,#00ff68 280px,#00ff69 320px,#2fff6b 360px,#64ff6d 400px,#a1ff6f 440px,#e5ff71 480px,#ffff72 493.9px,#ffd460 520px,#ffa44c 560px,#ff823e 600px,#ff6833 640px,#ff542b 680px,#ff4525 720px,#ff381f 760px,#ff2d1b 800px,#ff2417 840px,#ff1c14 880px,#ff1511 920px,#ff0f0f 960px,#ff0a0c 1000px,#ff050a 1040px,#ff0109 1080px,#ff0008 1091.5px,#ff0007 1120px,#ff0006 1160px,#ff0004 1200px,#ff0003 1240px,#ff0002 1280px,#ff0001 1320px,#f00 1360px,#f00 1377.7px,#f00 1400px,#f00 1440px,#f00 1480px,#f00 1486px)"></i><i style="left:5px;top:202px;width:1485px;background:linear-gradient(90deg,#00ff64 0px,#00ff65 40px,#0f6 80px,#00ff67 120px,#00ff68 160px,#00ff69 200px,#00ff6b 240px,#00ff6c 280px,#00ff6e 320px,#2fff6f 360px,#66ff71 400px,#a2ff74 440px,#e7ff76 480px,#ff7 492.6px,#ffd264 520px,#ffa24f 560px,#ff8141 600px,#ff6736 640px,#ff532d 680px,#ff4427 720px,#ff3721 760px,#ff2c1c 800px,#ff2319 840px,#ff1b15 880px,#ff1512 920px,#ff0f10 960px,#ff090e 1000px,#ff050c 1040px,#ff010a 1080px,#ff0009 1087.2px,#ff0008 1120px,#ff0007 1160px,#ff0005 1200px,#ff0004 1240px,#ff0003 1280px,#ff0002 1320px,#ff0001 1360px,#f00 1400px,#f00 1413px,#f00 1440px,#f00 1480px,#f00 1485px)"></i><i style="left:5px;top:206px;width:1485px;background:linear-gradient(90deg,#00ff67 0px,#00ff68 40px,#00ff69 80px,#00ff6a 120px,#00ff6b 160px,#00ff6d 200px,#00ff6e 240px,#00ff70 280px,#00ff72 320px,#2fff74 360px,#65ff76 400px,#a3ff79 440px,#e8ff7b 480px,#ffff7c 492.3px,#ffd168 520px,#ffa253 560px,#ff8044 600px,#ff6738 640px,#ff5330 680px,#ff4329 720px,#ff3623 760px,#ff2c1e 800px,#ff231a 840px,#ff1b17 880px,#ff1414 920px,#ff0e11 960px,#ff090f 1000px,#ff050d 1040px,#ff000b 1080px,#ff000b 1083.8px,#ff0009 1120px,#ff0008 1160px,#ff0006 1200px,#ff0005 1240px,#ff0004 1280px,#ff0003 1320px,#ff0002 1360px,#ff0001 1400px,#f00 1440px,#f00 1449.3px,#f00 1480px,#f00 1485px)"></i><i style="left:6px;top:210px;width:1484px;background:linear-gradient(90deg,#00ff6a 0px,#00ff6b 40px,#00ff6c 80px,#00ff6d 120px,#00ff6f 160px,#00ff70 200px,#00ff72 240px,#00ff74 280px,#00ff76 320px,#30ff78 360px,#67ff7b 400px,#a4ff7e 440px,#eaff81 480px,#ffff82 491px,#ffcf6c 520px,#ffa056 560px,#ff7f46 600px,#ff653b 640px,#ff5232 680px,#ff422b 720px,#ff3625 760px,#ff2b20 800px,#ff221c 840px,#ff1a18 880px,#ff1415 920px,#ff0e12 960px,#ff0910 1000px,#ff040e 1040px,#ff000c 1079.5px,#ff000a 1120px,#ff0009 1160px,#ff0007 1200px,#ff0006 1240px,#ff0005 1280px,#ff0004 1320px,#ff0003 1360px,#ff0002 1400px,#ff0001 1440px,#f00 1480px,#f00 1484px)"></i><i style="left:7px;top:214px;width:1483px;background:linear-gradient(90deg,#00ff6d 0px,#00ff6e 40px,#00ff6f 80px,#00ff71 120px,#00ff72 160px,#00ff74 200px,#00ff76 240px,#00ff78 280px,#00ff7a 320px,#31ff7d 360px,#68ff80 400px,#a6ff83 440px,#edff86 480px,#ffff87 489.7px,#ffcd6f 520px,#ff9e59 560px,#ff7d49 600px,#ff643d 640px,#ff5134 680px,#ff412c 720px,#ff3526 760px,#ff2a21 800px,#ff211d 840px,#ff1a19 880px,#ff1316 920px,#ff0d13 960px,#ff0811 1000px,#ff040f 1040px,#ff000d 1075.2px,#ff000d 1080px,#ff000b 1120px,#ff000a 1160px,#ff0008 1200px,#ff0007 1240px,#ff0006 1280px,#ff0004 1320px,#ff0003 1360px,#ff0002 1400px,#ff0002 1440px,#ff0001 1480px,#ff0001 1483px)"></i><i style="left:8px;top:218px;width:1482px;background:linear-gradient(90deg,#00ff70 0px,#00ff71 40px,#00ff73 80px,#00ff74 120px,#00ff76 160px,#00ff78 200px,#00ff7a 240px,#00ff7c 280px,#00ff7f 320px,#31ff81 360px,#69ff84 400px,#a8ff88 440px,#efff8c 480px,#ffff8d 488.3px,#ffcb73 520px,#ff9d5c 560px,#ff7c4c 600px,#ff6340 640px,#ff5036 680px,#ff412e 720px,#ff3428 760px,#ff2a23 800px,#ff211f 840px,#ff191b 880px,#ff1318 920px,#ff0d15 960px,#ff0812 1000px,#ff0310 1040px,#ff000e 1070.9px,#ff000e 1080px,#ff000c 1120px,#ff000a 1160px,#ff0009 1200px,#ff0008 1240px,#ff0006 1280px,#ff0005 1320px,#ff0004 1360px,#ff0003 1400px,#ff0002 1440px,#ff0001 1480px,#ff0001 1482px)"></i><i style="left:8px;top:222px;width:1482px;background:linear-gradient(90deg,#00ff73 0px,#00ff74 40px,#00ff76 80px,#0f7 120px,#00ff79 160px,#00ff7b 200px,#00ff7e 240px,#00ff80 280px,#00ff83 320px,#31ff86 360px,#69ff89 400px,#a8ff8d 440px,#efff92 480px,#ffff92 488px,#ffca77 520px,#ff9c60 560px,#ff7b4f 600px,#ff6342 640px,#ff4f38 680px,#ff4030 720px,#ff342a 760px,#ff2925 800px,#ff2020 840px,#ff191c 880px,#ff1219 920px,#ff0c16 960px,#ff0713 1000px,#ff0311 1040px,#ff0010 1067.5px,#ff000f 1080px,#ff000d 1120px,#ff000b 1160px,#ff000a 1200px,#ff0008 1240px,#ff0007 1280px,#ff0006 1320px,#ff0005 1360px,#ff0004 1400px,#ff0003 1440px,#ff0002 1480px,#ff0002 1482px)"></i><i style="left:9px;top:226px;width:1481px;background:linear-gradient(90deg,#00ff76 0px,#0f7 40px,#00ff79 80px,#00ff7b 120px,#00ff7d 160px,#00ff7f 200px,#00ff82 240px,#00ff84 280px,#00ff87 320px,#32ff8b 360px,#6aff8e 400px,#aaff92 440px,#f2ff97 480px,#ffff98 486.7px,#ffc87b 520px,#ff9b63 560px,#ff7a52 600px,#ff6145 640px,#ff4e3a 680px,#ff3f32 720px,#ff332c 760px,#ff2826 800px,#ff2022 840px,#ff181e 880px,#ff121a 920px,#ff0c17 960px,#ff0714 1000px,#ff0212 1040px,#f01 1063.2px,#ff0010 1080px,#ff000e 1120px,#ff000c 1160px,#ff000b 1200px,#ff0009 1240px,#ff0008 1280px,#ff0007 1320px,#ff0006 1360px,#ff0005 1400px,#ff0004 1440px,#ff0003 1480px,#ff0003 1481px)"></i><i style="left:10px;top:230px;width:1480px;background:linear-gradient(90deg,#00ff79 0px,#00ff7b 40px,#00ff7c 80px,#00ff7e 120px,#00ff81 160px,#00ff83 200px,#00ff86 240px,#00ff89 280px,#00ff8c 319.8px,#33ff8f 360px,#6bff93 400px,#acff98 440px,#f4ff9d 480px,#ffff9e 485.4px,#ffc67f 520px,#f96 560px,#ff7954 600px,#ff6047 640px,#ff4d3d 680px,#ff3e34 720px,#ff322e 760px,#ff2828 800px,#ff1f23 840px,#ff181f 880px,#ff111b 920px,#ff0b18 960px,#ff0616 1000px,#ff0213 1040px,#ff0012 1058.9px,#f01 1080px,#ff000f 1120px,#ff000d 1160px,#ff000c 1200px,#ff000a 1240px,#ff0009 1280px,#ff0008 1320px,#ff0006 1360px,#ff0005 1400px,#ff0004 1440px,#ff0003 1480px)"></i><i style="left:11px;top:234px;width:1479px;background:linear-gradient(90deg,#00ff7c 0px,#00ff7e 40px,#00ff80 80px,#00ff82 120px,#00ff84 160px,#00ff87 200px,#00ff8a 240px,#00ff8d 280px,#00ff90 319.4px,#34ff94 360px,#6dff98 400px,#92ff9b 423.4px,#9fff9c 431.4px,#acff9d 439.4px,#baff9e 447.4px,#c9ff9f 455.4px,#d7ffa1 463.4px,#e6ffa2 471.4px,#f6ffa3 479.4px,#ffffa4 484.1px,#fff8a0 487.4px,#ffea98 495.4px,#ffdc90 503.4px,#ffd089 511.4px,#ffc583 519.4px,#ffbb7d 527.4px,#ffb177 535.4px,#ff9769 560px,#ff7757 600px,#ff5f49 640px,#ff4c3f 680px,#ff3d36 720px,#ff312f 760px,#ff2729 800px,#ff1e25 840px,#ff1720 880px,#ff111d 920px,#ff0b1a 960px,#ff0617 1000px,#ff0214 1040px,#ff0013 1054.5px,#ff0012 1080px,#ff0010 1120px,#ff000e 1160px,#ff000d 1200px,#ff000b 1240px,#ff000a 1280px,#ff0008 1320px,#ff0007 1360px,#ff0006 1400px,#ff0005 1440px,#ff0004 1479px)"></i><i style="left:12px;top:238px;width:1478px;background:linear-gradient(90deg,#00ff7f 0px,#00ff81 40px,#00ff83 80px,#00ff85 120px,#0f8 160px,#00ff8b 200px,#00ff8e 240px,#00ff91 280px,#00ff95 318.9px,#35ff99 360px,#6eff9e 400px,#92ffa1 422.4px,#9fffa2 430.4px,#acffa3 438.4px,#baffa4 446.4px,#c9ffa5 454.4px,#d8ffa6 462.4px,#e7ffa7 470.4px,#f6ffa9 478.4px,#ffffa9 482.7px,#fff8a5 486.4px,#ffe99d 494.4px,#ffdc95 502.4px,#ffd08e 510.4px,#ffc487 518.4px,#ffba81 526.4px,#ffb07b 534.4px,#ff966c 560px,#ff7659 600px,#ff5e4c 640px,#ff4b41 680px,#ff3d38 720px,#ff3031 760px,#ff262b 800px,#ff1e26 840px,#ff1622 880px,#ff101e 920px,#ff0a1b 960px,#ff0518 1000px,#ff0115 1040px,#ff0015 1050.2px,#ff0013 1080px,#f01 1120px,#ff000f 1160px,#ff000d 1200px,#ff000c 1240px,#ff000a 1280px,#ff0009 1320px,#ff0008 1360px,#ff0007 1400px,#ff0006 1440px,#ff0005 1478px)"></i><i style="left:12px;top:242px;width:1478px;background:linear-gradient(90deg,#00ff82 0px,#00ff84 40px,#00ff86 80px,#00ff89 120px,#00ff8c 160px,#00ff8f 200px,#00ff92 240px,#00ff95 280px,#0f9 319.5px,#34ff9e 360px,#6effa3 400px,#92ffa6 422.4px,#9fffa7 430.4px,#adffa8 438.4px,#bbffa9 446.4px,#c9ffab 454.4px,#d8ffac 462.4px,#e7ffad 470.4px,#f7ffaf 478.4px,#ffffaf 482.4px,#fff7ab 486.4px,#ffe9a2 494.4px,#ffdb9a 502.4px,#ffcf92 510.4px,#ffc48c 518.4px,#ffb985 526.4px,#ffb080 534.4px,#ff9570 560px,#ff755d 600px,#ff5d4e 640px,#ff4b43 680px,#ff3c3a 720px,#ff3033 760px,#ff262d 800px,#ff1d28 840px,#ff1623 880px,#ff101f 920px,#ff0a1c 960px,#ff0519 1000px,#ff0116 1040px,#ff0016 1046.9px,#ff0014 1080px,#ff0012 1120px,#ff0010 1160px,#ff000e 1200px,#ff000d 1240px,#ff000b 1280px,#ff000a 1320px,#ff0009 1360px,#ff0008 1400px,#ff0007 1440px,#ff0006 1478px)"></i><i style="left:13px;top:246px;width:1477px;background:linear-gradient(90deg,#00ff85 0px,#00ff87 40px,#00ff8a 80px,#00ff8c 120px,#00ff8f 160px,#00ff93 200px,#00ff96 240px,#00ff9a 280px,#00ff9e 319px,#35ffa3 360px,#6fffa8 400px,#92ffab 421.4px,#9fffad 429.4px,#adffae 437.4px,#bbffaf 445.4px,#c9ffb0 453.4px,#d8ffb2 461.4px,#e8ffb3 469.4px,#f8ffb5 477.4px,#ffffb5 481.1px,#fff7b0 485.4px,#ffe8a7 493.4px,#ffda9f 501.4px,#ffce97 509.4px,#ffc390 517.4px,#ffb88a 525.4px,#ffaf84 533.4px,#ff9373 560px,#ff745f 600px,#ff5c51 640px,#ff4a45 680px,#ff3b3c 720px,#ff2f35 760px,#ff252e 800px,#ff1d29 840px,#ff1525 880px,#ff0f21 920px,#ff0a1d 960px,#ff051a 1000px,#ff0018 1040px,#ff0015 1080px,#ff0013 1120px,#f01 1160px,#ff000f 1200px,#ff000e 1240px,#ff000c 1280px,#ff000b 1320px,#ff0009 1360px,#ff0008 1400px,#ff0007 1440px,#ff0006 1477px)"></i><i style="left:14px;top:250px;width:1476px;background:linear-gradient(90deg,#0f8 0px,#00ff8b 40px,#00ff8d 80px,#00ff90 120px,#00ff93 160px,#00ff96 200px,#00ff9a 240px,#00ff9e 280px,#00ffa3 318.6px,#36ffa8 360px,#71ffae 400px,#92ffb1 420.4px,#9fffb2 428.4px,#adffb3 436.4px,#b3ffb4 440px,#bbffb5 444.4px,#caffb6 452.4px,#d9ffb8 460.4px,#e8ffb9 468.4px,#f8ffbb 476.4px,#ffb 479.8px,#fff6b5 484.4px,#ffe7ac 492.4px,#ffdaa4 500.4px,#ffcd9c 508.4px,#ffc295 516.4px,#ffbd91 520px,#ffb88e 524.4px,#ffae88 532.4px,#ff9276 560px,#ff7362 600px,#ff5b53 640px,#ff4947 680px,#ff3a3e 720px,#ff2e36 760px,#ff2430 800px,#ff1c2b 840px,#ff1526 880px,#ff0e22 920px,#ff091e 960px,#ff041b 1000px,#ff0019 1038.2px,#ff0016 1080px,#ff0014 1120px,#ff0012 1160px,#ff0010 1200px,#ff000e 1240px,#ff000d 1280px,#ff000c 1320px,#ff000a 1360px,#ff0009 1400px,#ff0008 1440px,#ff0007 1476px)"></i><i style="left:15px;top:254px;width:1475px;background:linear-gradient(90deg,#00ff8c 0px,#00ff8e 40px,#00ff91 80px,#00ff94 120px,#00ff97 160px,#00ff9b 200px,#00ff9e 240px,#00ffa3 280px,#00ffa7 318.1px,#37ffad 360px,#72ffb3 400px,#92ffb6 419.4px,#9fffb8 427.4px,#adffb9 435.4px,#b5ffba 440px,#bbffba 443.4px,#caffbc 451.4px,#d9ffbe 459.4px,#e9ffbf 467.4px,#f9ffc1 475.4px,#ffffc1 478.5px,#fff5bb 483.4px,#ffe6b1 491.4px,#ffd9a9 499.4px,#ffcda0 507.4px,#ffc199 515.4px,#ffbb95 520px,#ffb792 523.4px,#ffad8c 531.4px,#ff9079 560px,#ff7164 600px,#ff5a55 640px,#ff4849 680px,#ff3a40 720px,#ff2e38 760px,#ff2432 800px,#ff1b2c 840px,#ff1427 880px,#ff0e23 920px,#ff0920 960px,#ff041c 1000px,#ff001a 1033.9px,#ff001a 1040px,#ff0017 1080px,#ff0015 1120px,#ff0013 1160px,#f01 1200px,#ff000f 1240px,#ff000e 1280px,#ff000c 1320px,#ff000b 1360px,#ff000a 1400px,#ff0009 1440px,#ff0008 1475px)"></i><i style="left:16px;top:258px;width:1474px;background:linear-gradient(90deg,#00ff8f 0px,#00ff91 40px,#00ff94 80px,#00ff97 120px,#00ff9b 160px,#00ff9f 200px,#00ffa3 240px,#00ffa7 280px,#00ffac 317.7px,#38ffb2 360px,#73ffb9 400px,#92ffbc 418.4px,#9fffbd 426.4px,#adffbf 434.4px,#b7ffc0 440px,#caffc2 450.4px,#daffc4 458.4px,#e9ffc5 466.4px,#f9ffc7 474.4px,#fff9c4 480px,#ffe6b7 490.4px,#ffd8ad 498.4px,#ffcca5 506.4px,#ffc19e 514.4px,#ffb999 520px,#ffad90 530.4px,#ff8f7c 560px,#ff7067 600px,#ff5958 640px,#ff474b 680px,#ff3942 720px,#ff2d3a 760px,#ff2333 800px,#ff1b2d 840px,#ff1429 880px,#ff0d25 920px,#ff0821 960px,#ff031e 1000px,#ff001b 1029.6px,#ff001b 1040px,#ff0018 1080px,#ff0016 1120px,#ff0014 1160px,#ff0012 1200px,#ff0010 1240px,#ff000f 1280px,#ff000d 1320px,#ff000c 1360px,#ff000a 1400px,#ff0009 1440px,#ff0008 1474px)"></i><i style="left:17px;top:262px;width:1473px;background:linear-gradient(90deg,#00ff92 0px,#00ff95 40px,#00ff98 80px,#00ff9b 120px,#00ff9f 160px,#00ffa3 200px,#00ffa7 240px,#00ffac 280px,#00ffb1 317.2px,#39ffb7 360px,#75ffbe 400px,#92ffc1 417.4px,#9fffc3 425.4px,#adffc5 433.4px,#b9ffc6 440px,#cbffc8 449.4px,#daffca 457.4px,#eaffcb 465.4px,#faffcd 473.4px,#fff7c8 480px,#ffe5bc 489.4px,#ffd8b2 497.4px,#ffcbaa 505.4px,#ffc0a2 513.4px,#ffb79c 520px,#ffac94 529.4px,#ff8d7f 560px,#ff6f6a 600px,#ff585a 640px,#ff464d 680px,#ff3844 720px,#ff2c3b 760px,#ff2235 800px,#ff1a2f 840px,#ff132a 880px,#ff0d26 920px,#ff0722 960px,#ff031f 1000px,#ff001d 1025.2px,#ff001c 1040px,#ff0019 1080px,#ff0017 1120px,#ff0015 1160px,#ff0013 1200px,#f01 1240px,#ff000f 1280px,#ff000e 1320px,#ff000c 1360px,#ff000b 1400px,#ff000a 1440px,#ff0009 1473px)"></i><i style="left:18px;top:266px;width:1472px;background:linear-gradient(90deg,#00ff95 0px,#00ff98 40px,#00ff9b 80px,#00ff9f 120px,#00ffa3 160px,#00ffa7 200px,#00ffac 240px,#00ffb1 280px,#00ffb6 316.8px,#04ffb6 320px,#3affbd 360px,#76ffc4 400px,#92ffc7 416.4px,#9fffc9 424.4px,#aeffca 432.4px,#bfc 440px,#cbffce 448.4px,#daffd0 456.4px,#eaffd2 464.4px,#fbffd4 472.4px,#fff4cc 480px,#ffe4c1 488.4px,#ffd7b8 496.4px,#ffcbaf 504.4px,#ffbfa7 512.4px,#ffb5a0 520px,#ffab98 528.4px,#ff8c82 560px,#ff6d6c 600px,#ff575c 640px,#ff4550 680px,#ff3745 720px,#ff2b3d 760px,#ff2236 800px,#ff1930 840px,#ff122b 880px,#ff0c27 920px,#ff0723 960px,#ff0220 1000px,#ff001e 1020.9px,#ff001d 1040px,#ff001a 1080px,#ff0018 1120px,#ff0016 1160px,#ff0014 1200px,#ff0012 1240px,#ff0010 1280px,#ff000f 1320px,#ff000d 1360px,#ff000c 1400px,#ff000b 1440px,#ff000a 1472px)"></i><i style="left:19px;top:270px;width:1471px;background:linear-gradient(90deg,#0f9 0px,#00ff9c 40px,#00ff9f 80px,#00ffa3 120px,#00ffa7 160px,#00ffab 200px,#00ffb0 240px,#00ffb5 280px,#0fb 316.3px,#05ffbb 320px,#3bffc2 360px,#78ffca 400px,#92ffcd 415.4px,#9fffcf 423.4px,#aeffd0 431.4px,#bcffd2 439.4px,#cbffd4 447.4px,#dbffd6 455.4px,#ebffd8 463.4px,#fbffda 471.4px,#fff2d1 479.4px,#ffe4c6 487.4px,#ffd6bd 495.4px,#ffcab4 503.4px,#ffbfab 511.4px,#ffb4a4 519.4px,#ffab9d 527.4px,#ff8a85 560px,#ff6c6f 600px,#ff565e 640px,#ff4452 680px,#ff3647 720px,#ff2b3f 760px,#ff2138 800px,#ff1932 840px,#ff122d 880px,#ff0c28 920px,#ff0624 960px,#ff0221 1000px,#ff0020 1016.6px,#ff001e 1040px,#ff001b 1080px,#ff0019 1120px,#ff0017 1160px,#ff0015 1200px,#ff0013 1240px,#f01 1280px,#ff000f 1320px,#ff000e 1360px,#ff000d 1400px,#ff000b 1440px,#ff000a 1471px)"></i><i style="left:20px;top:274px;width:1470px;background:linear-gradient(90deg,#00ff9c 0px,#00ff9f 40px,#00ffa3 80px,#00ffa7 120px,#00ffab 160px,#00ffaf 200px,#00ffb4 240px,#00ffba 280px,#00ffc0 315.9px,#05ffc0 320px,#3cffc8 360px,#79ffd0 400px,#92ffd3 414.4px,#a0ffd4 422.4px,#aeffd6 430.4px,#bdffd8 438.4px,#ccffda 446.4px,#dbffdc 454.4px,#ebffde 462.4px,#fcffe0 470.4px,#fff2d7 478.4px,#ffe3cc 486.4px,#ffd6c2 494.4px,#ffc9b8 502.4px,#ffbeb0 510.4px,#ffb4a8 518.4px,#ffaaa1 526.4px,#f88 560px,#ff6b71 600px,#ff5561 640px,#ff4354 680px,#ff3549 720px,#ff2a41 760px,#ff2039 800px,#ff1833 840px,#ff112e 880px,#ff0b2a 920px,#ff0626 960px,#ff0122 1000px,#ff0021 1012.2px,#ff001f 1040px,#ff001c 1080px,#ff001a 1120px,#ff0017 1160px,#ff0015 1200px,#ff0013 1240px,#ff0012 1280px,#ff0010 1320px,#ff000f 1360px,#ff000d 1400px,#ff000c 1440px,#ff000b 1470px)"></i><i style="left:21px;top:278px;width:1469px;background:linear-gradient(90deg,#00ff9f 0px,#00ffa3 40px,#00ffa6 80px,#0fa 120px,#00ffaf 160px,#00ffb4 200px,#00ffb9 240px,#00ffbf 280px,#00ffc5 315.4px,#06ffc6 320px,#3dffcd 360px,#7bffd5 400px,#92ffd9 413.4px,#a0ffda 421.4px,#aeffdc 429.4px,#bdffde 437.4px,#ccffe0 445.4px,#dcffe3 453.4px,#ecffe5 461.4px,#fdffe7 469.4px,#fff1dd 477.4px,#ffe2d1 485.4px,#ffd5c7 493.4px,#ffc9bd 501.4px,#ffbdb5 509.4px,#ffb3ad 517.4px,#ffa9a5 525.4px,#ff878b 560px,#ff6a74 600px,#ff5363 640px,#ff4256 680px,#ff344b 720px,#ff2942 760px,#ff203b 800px,#ff1835 840px,#ff112f 880px,#ff0b2b 920px,#ff0627 960px,#ff0123 1000px,#ff0023 1007.9px,#ff0020 1040px,#ff001d 1080px,#ff001b 1120px,#ff0018 1160px,#ff0016 1200px,#ff0014 1240px,#ff0013 1280px,#f01 1320px,#ff000f 1360px,#ff000e 1400px,#ff000d 1440px,#ff000c 1469px)"></i><i style="left:22px;top:282px;width:1468px;background:linear-gradient(90deg,#00ffa3 0px,#00ffa6 40px,#0fa 80px,#00ffae 120px,#00ffb3 160px,#00ffb8 200px,#00ffbe 240px,#00ffc4 280px,#00ffca 315px,#06ffcb 320px,#3effd3 360px,#7cffdb 400px,#92ffde 412.4px,#a0ffe0 420.4px,#aeffe3 428.4px,#bdffe5 436.4px,#c4ffe6 440px,#ccffe7 444.4px,#dcffe9 452.4px,#ecffeb 460.4px,#fdffee 468.4px,#fff0e2 476.4px,#ffeadd 480px,#ffe2d7 484.4px,#ffd4cc 492.4px,#ffc8c2 500.4px,#ffbcb9 508.4px,#ffb2b1 516.4px,#ffaeae 520px,#ffa8a9 524.4px,#ff858e 560px,#ff6877 600px,#ff5265 640px,#ff4158 680px,#ff344d 720px,#ff2844 760px,#ff1f3d 800px,#ff1736 840px,#ff1031 880px,#ff0a2c 920px,#ff0528 960px,#ff0024 1000px,#ff0024 1003.6px,#ff0021 1040px,#ff001e 1080px,#ff001c 1120px,#ff0019 1160px,#ff0017 1200px,#ff0015 1240px,#ff0013 1280px,#ff0012 1320px,#ff0010 1360px,#ff000f 1400px,#ff000d 1440px,#ff000d 1468px)"></i><i style="left:23px;top:286px;width:1465px;background:linear-gradient(90deg,#00ffa6 0px,#0fa 40px,#00ffae 80px,#00ffb2 120px,#00ffb7 160px,#00ffbc 200px,#00ffc2 240px,#00ffc9 280px,#00ffcf 314.5px,#07ffd0 320px,#3fffd8 360px,#7effe2 400px,#92ffe4 411.4px,#a0ffe7 419.4px,#aeffe9 427.4px,#bdffeb 435.4px,#c6ffec 440px,#cdffed 443.4px,#ddfff0 451.4px,#edfff2 459.4px,#fefff4 467.4px,#fff0e8 475.4px,#ffe7e1 480px,#ffe1dc 483.4px,#ffd3d1 491.4px,#ffc7c7 499.4px,#ffbcbe 507.4px,#ffb1b6 515.4px,#ffacb1 520px,#ffa8ae 523.4px,#ff8490 560px,#ff6779 600px,#ff5168 640px,#ff405a 680px,#ff334f 720px,#ff2846 760px,#ff1e3e 800px,#ff1638 840px,#ff1032 880px,#ff0a2d 920px,#ff0529 960px,#ff0026 999.3px,#f02 1040px,#ff001f 1080px,#ff001d 1120px,#ff001a 1160px,#ff0018 1200px,#ff0016 1240px,#ff0014 1280px,#ff0012 1320px,#f01 1360px,#ff000f 1400px,#ff000e 1440px,#ff000d 1465px)"></i><i style="left:24px;top:290px;width:1461px;background:linear-gradient(90deg,#0fa 0px,#00ffad 40px,#00ffb2 80px,#00ffb6 120px,#0fb 160px,#00ffc1 200px,#00ffc7 240px,#00ffce 280px,#00ffd4 314.1px,#08ffd5 320px,#40ffde 360px,#80ffe8 400px,#92ffeb 410.4px,#a0ffed 418.4px,#aeffef 426.4px,#befff1 434.4px,#c8fff3 440px,#ddfff6 450.4px,#eefff9 458.4px,#fffffb 466.4px,#ffefee 474.4px,#ffe4e5 480px,#ffd3d6 490.4px,#ffc6cc 498.4px,#ffbbc3 506.4px,#ffb1ba 514.4px,#ffaab4 520px,#ff8293 560px,#ff667c 600px,#ff506a 640px,#ff3f5c 680px,#ff3251 720px,#ff2747 760px,#ff1e40 800px,#ff1639 840px,#ff0f34 880px,#ff092f 920px,#ff042a 960px,#ff0027 994.9px,#ff0027 1000px,#ff0023 1040px,#ff0020 1080px,#ff001e 1120px,#ff001b 1160px,#ff0019 1200px,#ff0017 1240px,#ff0015 1280px,#ff0013 1320px,#ff0012 1360px,#ff0010 1400px,#ff000f 1440px,#ff000e 1461px)"></i><i style="left:25px;top:294px;width:1457px;background:linear-gradient(90deg,#00ffad 0px,#00ffb1 40px,#00ffb5 80px,#00ffba 120px,#00ffc0 160px,#00ffc5 200px,#0fc 240px,#00ffd3 280px,#00ffda 313.6px,#08ffdb 320px,#41ffe4 360px,#81ffee 400px,#92fff1 409.4px,#a0fff3 417.4px,#affff5 425.4px,#befff8 433.4px,#cbfffa 440px,#defffd 449.4px,#ebffff 456.1px,#fcfcff 465.4px,#ffeef4 473.4px,#ffe2e9 480px,#ffd2dc 489.4px,#ffc6d1 497.4px,#ffbac7 505.4px,#ffb0bf 513.4px,#ffa8b8 520px,#ff8196 560px,#ff647e 600px,#ff4f6c 640px,#ff3e5e 680px,#ff3152 720px,#ff2649 760px,#ff1d41 800px,#ff153b 840px,#ff0e35 880px,#ff0930 920px,#ff042c 960px,#ff0029 990.6px,#ff0028 1000px,#ff0024 1040px,#ff0021 1080px,#ff001f 1120px,#ff001c 1160px,#ff001a 1200px,#ff0018 1240px,#ff0016 1280px,#ff0014 1320px,#ff0012 1360px,#f01 1400px,#ff0010 1440px,#ff000f 1457px)"></i><i style="left:26px;top:298px;width:1452px;background:linear-gradient(90deg,#00ffb1 0px,#00ffb5 40px,#00ffb9 80px,#00ffbe 120px,#00ffc4 160px,#00ffca 200px,#00ffd1 240px,#00ffd8 280px,#00ffdf 313.2px,#09ffe0 320px,#42ffea 360px,#83fff4 400px,#92fff7 408.4px,#a0fff9 416.4px,#affffc 424.4px,#befffe 432.4px,#ccfdff 440px,#dafbff 448.4px,#e8f8ff 456.4px,#f6f5ff 464.4px,#fff4ff 469.4px,#ffeefa 472.4px,#ffdfed 480px,#ffd1e1 488.4px,#ffc5d6 496.4px,#ffbacc 504.4px,#ffafc3 512.4px,#ffa6bb 520px,#ff7f99 560px,#ff6381 600px,#ff4e6e 640px,#ff3d60 680px,#ff3054 720px,#ff254b 760px,#ff1c43 800px,#ff143c 840px,#ff0e36 880px,#ff0831 920px,#ff032d 960px,#ff002a 986.3px,#ff0029 1000px,#ff0025 1040px,#f02 1080px,#ff001f 1120px,#ff001d 1160px,#ff001b 1200px,#ff0019 1240px,#ff0017 1280px,#ff0015 1320px,#ff0013 1360px,#ff0012 1400px,#ff0010 1440px,#ff0010 1452px)"></i><i style="left:27px;top:302px;width:1448px;background:linear-gradient(90deg,#00ffb4 0px,#00ffb8 40px,#00ffbd 80px,#00ffc2 120px,#00ffc8 160px,#00ffce 200px,#00ffd5 240px,#0fd 280px,#00ffe4 312.7px,#0affe6 320px,#43fff0 360px,#84fffb 400px,#92fffd 407.4px,#9cffff 413.1px,#adfcff 423.4px,#baf9ff 431.4px,#c7f7ff 439.4px,#d5f4ff 447.4px,#e3f1ff 455.4px,#f0efff 463.4px,#feecff 471.4px,#ffdef2 479.4px,#ffd0e6 487.4px,#ffc4db 495.4px,#ffb9d1 503.4px,#ffaec8 511.4px,#ffa5bf 519.4px,#ff7e9c 560px,#ff6283 600px,#ff4d71 640px,#ff3d62 680px,#ff2f56 720px,#ff254c 760px,#ff1c44 800px,#ff143d 840px,#ff0d38 880px,#ff0832 920px,#ff032e 960px,#ff002c 981.9px,#ff002a 1000px,#ff0026 1040px,#ff0023 1080px,#ff0020 1120px,#ff001e 1160px,#ff001b 1200px,#ff0019 1240px,#ff0017 1280px,#ff0016 1320px,#ff0014 1360px,#ff0012 1400px,#f01 1440px,#f01 1448px)"></i><i style="left:28px;top:306px;width:1444px;background:linear-gradient(90deg,#00ffb8 0px,#00ffbc 40px,#00ffc1 80px,#00ffc7 120px,#00ffcd 160px,#00ffd3 200px,#00ffda 240px,#00ffe3 280px,#00ffea 312.3px,#0affec 320px,#44fff6 360px,#78ffff 391.7px,#85fcff 400px,#8ffaff 406.4px,#9cf8ff 414.4px,#a9f6ff 422.4px,#b6f3ff 430.4px,#c3f0ff 438.4px,#d0eeff 446.4px,#ddebff 454.4px,#ebe9ff 462.4px,#f8e6ff 470.4px,#ffe5ff 474.2px,#ffddf8 478.4px,#ffd0ec 486.4px,#ffc3e0 494.4px,#ffb8d6 502.4px,#ffaecc 510.4px,#ffa4c4 518.4px,#ff7c9f 560px,#ff6186 600px,#ff4c73 640px,#ff3c64 680px,#ff2f58 720px,#ff244e 760px,#ff1b46 800px,#ff133f 840px,#ff0d39 880px,#ff0734 920px,#ff022f 960px,#ff002d 977.6px,#ff002b 1000px,#ff0027 1040px,#ff0024 1080px,#ff0021 1120px,#ff001f 1160px,#ff001c 1200px,#ff001a 1240px,#ff0018 1280px,#ff0016 1320px,#ff0015 1360px,#ff0013 1400px,#ff0012 1440px,#f01 1444px)"></i><i style="left:30px;top:310px;width:1439px;background:linear-gradient(90deg,#0fb 0px,#00ffc0 40px,#00ffc5 80px,#00ffcb 120px,#00ffd1 160px,#00ffd8 200px,#00ffe0 240px,#00ffe8 280px,#00ffef 310.8px,#0cfff2 320px,#47fffc 360px,#5ff 369.2px,#85f6ff 400px,#8bf4ff 404.4px,#98f2ff 412.4px,#a5efff 420.4px,#b1edff 428.4px,#beeaff 436.4px,#c4e9ff 440px,#cbe8ff 444.4px,#d8e5ff 452.4px,#e6e3ff 460.4px,#f3e0ff 468.4px,#ffdeff 475.6px,#ffd6f8 480px,#ffcff1 484.4px,#ffc3e5 492.4px,#ffb7db 500.4px,#ffadd1 508.4px,#ffa3c8 516.4px,#ff9fc4 520px,#ff7aa1 560px,#ff5f88 600px,#ff4a75 640px,#ff3a66 680px,#ff2d59 720px,#ff234f 760px,#ff1a47 800px,#ff1240 840px,#ff0c3a 880px,#ff0635 920px,#ff0130 960px,#ff002f 972.3px,#ff002c 1000px,#ff0028 1040px,#ff0025 1080px,#f02 1120px,#ff0020 1160px,#ff001d 1200px,#ff001b 1240px,#ff0019 1280px,#ff0017 1320px,#ff0015 1360px,#ff0014 1400px,#ff0012 1439px)"></i><i style="left:31px;top:314px;width:1434px;background:linear-gradient(90deg,#00ffbf 0px,#00ffc4 40px,#00ffc9 80px,#00ffcf 120px,#00ffd6 160px,#0fd 200px,#00ffe5 240px,#00ffed 280px,#00fff5 310.4px,#0dfff7 320px,#35ffff 347.7px,#47fbff 360px,#83f0ff 400px,#88efff 403.4px,#94ecff 411.4px,#a1eaff 419.4px,#ade7ff 427.4px,#bae5ff 435.4px,#c1e3ff 440px,#c7e2ff 443.4px,#d4e0ff 451.4px,#e0ddff 459.4px,#eddbff 467.4px,#fbd8ff 475.4px,#ffd4fc 480px,#ffcef6 483.4px,#ffc2eb 491.4px,#ffb6e0 499.4px,#ffacd6 507.4px,#ffa3cd 515.4px,#ff9dc8 520px,#ff78a4 560px,#ff5e8a 600px,#ff4977 640px,#ff3968 680px,#ff2d5b 720px,#ff2251 760px,#ff1949 800px,#ff1242 840px,#ff0b3b 880px,#ff0636 920px,#ff0131 960px,#ff0030 968px,#ff002d 1000px,#ff0029 1040px,#ff0026 1080px,#ff0023 1120px,#ff0020 1160px,#ff001e 1200px,#ff001c 1240px,#ff001a 1280px,#ff0018 1320px,#ff0016 1360px,#ff0014 1400px,#ff0013 1434px)"></i><i style="left:32px;top:318px;width:1430px;background:linear-gradient(90deg,#00ffc3 0px,#00ffc8 40px,#00ffcd 80px,#00ffd3 120px,#00ffda 160px,#00ffe2 200px,#00ffea 240px,#00fff3 280px,#00fffb 309.9px,#0efffd 320px,#17ffff 326.3px,#46f5ff 360px,#81eaff 400px,#91e7ff 410.4px,#9de4ff 418.4px,#a9e2ff 426.4px,#b6dfff 434.4px,#bfddff 440px,#cfdaff 450.4px,#dcd8ff 458.4px,#e8d5ff 466.4px,#f5d3ff 474.4px,#fed1ff 480px,#ffc1f0 490.4px,#ffb6e5 498.4px,#ffabda 506.4px,#ffa2d1 514.4px,#ff9bcb 520px,#ff77a7 560px,#ff5c8d 600px,#ff4879 640px,#ff386a 680px,#ff2c5d 720px,#ff2153 760px,#ff194a 800px,#ff1143 840px,#ff0b3d 880px,#ff0537 920px,#f03 960px,#ff0032 963.6px,#ff002e 1000px,#ff002b 1040px,#ff0027 1080px,#ff0024 1120px,#ff0021 1160px,#ff001f 1200px,#ff001d 1240px,#ff001b 1280px,#ff0019 1320px,#ff0017 1360px,#ff0015 1400px,#ff0014 1430px)"></i><i style="left:33px;top:322px;width:1426px;background:linear-gradient(90deg,#00ffc6 0px,#0fc 40px,#00ffd1 80px,#00ffd8 120px,#00ffdf 160px,#00ffe6 200px,#00ffef 240px,#00fff9 280px,#0ff 304.8px,#00feff 309.5px,#0efbff 320px,#46f0ff 360px,#80e4ff 400px,#8ee1ff 409.4px,#9adfff 417.4px,#a6dcff 425.4px,#b2daff 433.4px,#bcd8ff 440px,#cad5ff 449.4px,#d7d2ff 457.4px,#e3d0ff 465.4px,#f0cdff 473.4px,#facbff 480px,#ffc0f5 489.4px,#ffb5ea 497.4px,#ffabdf 505.4px,#ffa1d6 513.4px,#ff9ace 520px,#ff75aa 560px,#ff5b8f 600px,#ff477b 640px,#ff386c 680px,#ff2b5f 720px,#ff2154 760px,#ff184c 800px,#f14 840px,#ff0a3e 880px,#ff0539 920px,#ff0034 959.3px,#ff002f 1000px,#ff002c 1040px,#ff0028 1080px,#ff0025 1120px,#f02 1160px,#ff0020 1200px,#ff001d 1240px,#ff001b 1280px,#ff0019 1320px,#ff0018 1360px,#ff0016 1400px,#ff0015 1426px)"></i><i style="left:34px;top:326px;width:1421px;background:linear-gradient(90deg,#00ffca 0px,#00ffd0 40px,#00ffd6 80px,#00ffdc 120px,#00ffe3 160px,#00ffeb 200px,#00fff4 240px,#00fffe 280px,#0ff 283.3px,#00f8ff 309px,#0ff5ff 320px,#45eaff 360px,#7edeff 400px,#8adcff 408.4px,#96daff 416.4px,#a2d7ff 424.4px,#aed5ff 432.4px,#b9d2ff 440px,#c6d0ff 448.4px,#d2cdff 456.4px,#decbff 464.4px,#ebc8ff 472.4px,#f7c6ff 480px,#ffc4ff 485.3px,#ffbffa 488.4px,#ffb4ef 496.4px,#ffaae4 504.4px,#ffa0da 512.4px,#ff98d1 520px,#ff74ac 560px,#ff5a92 600px,#ff467d 640px,#ff376e 680px,#ff2a61 720px,#ff2056 760px,#ff174d 800px,#ff1046 840px,#ff0a3f 880px,#ff043a 920px,#ff0035 955px,#ff0035 960px,#ff0031 1000px,#ff002d 1040px,#ff0029 1080px,#ff0026 1120px,#ff0023 1160px,#ff0021 1200px,#ff001e 1240px,#ff001c 1280px,#ff001a 1320px,#ff0018 1360px,#ff0017 1400px,#ff0016 1421px)"></i><i style="left:35px;top:330px;width:1417px;background:linear-gradient(90deg,#00ffce 0px,#00ffd4 40px,#00ffda 80px,#00ffe1 120px,#00ffe8 160px,#00fff0 200px,#00fffa 240px,#0ff 261.9px,#00faff 280px,#00f3ff 308.6px,#0ff0ff 320px,#45e5ff 360px,#7cd9ff 399.4px,#87d7ff 407.4px,#93d4ff 415.4px,#9ed2ff 423.4px,#aad0ff 431.4px,#b6cdff 439.4px,#c2cbff 447.4px,#cec8ff 455.4px,#dac6ff 463.4px,#e6c3ff 471.4px,#f2c1ff 479.4px,#ffbeff 487.4px,#ffb3f4 495.4px,#ffa9e9 503.4px,#ff9fdf 511.4px,#ff96d5 520px,#ff72af 560px,#ff5994 600px,#ff4580 640px,#ff366f 680px,#ff2962 720px,#ff1f58 760px,#ff174f 800px,#ff0f47 840px,#ff0941 880px,#ff043b 920px,#ff0037 950.6px,#ff0036 960px,#ff0032 1000px,#ff002e 1040px,#ff002a 1080px,#ff0027 1120px,#ff0024 1160px,#ff0021 1200px,#ff001f 1240px,#ff001d 1280px,#ff001b 1320px,#ff0019 1360px,#ff0017 1400px,#ff0017 1417px)"></i><i style="left:37px;top:334px;width:1412px;background:linear-gradient(90deg,#00ffd2 0px,#00ffd8 40px,#00ffde 80px,#00ffe5 120px,#00ffed 160px,#00fff6 200px,#0ff 239.4px,#00f5ff 280px,#00edff 307.1px,#11eaff 320px,#46dfff 360px,#79d4ff 397.4px,#84d2ff 405.4px,#90d0ff 413.4px,#9bcdff 421.4px,#a7cbff 429.4px,#b2c8ff 437.4px,#bec6ff 445.4px,#c9c4ff 453.4px,#d5c1ff 461.4px,#e1bfff 469.4px,#edbcff 477.4px,#f9baff 485.4px,#ffb9ff 489.1px,#ffb3f9 493.4px,#ffa8ed 501.4px,#ff9fe3 509.4px,#ff93d7 520px,#ff70b1 560px,#ff5796 600px,#ff4481 640px,#ff3471 680px,#ff2864 720px,#ff1e59 760px,#ff1650 800px,#ff0f48 840px,#ff0842 880px,#ff033c 920px,#ff0039 945.3px,#ff0037 960px,#f03 1000px,#ff002f 1040px,#ff002b 1080px,#ff0028 1120px,#ff0025 1160px,#f02 1200px,#ff0020 1240px,#ff001e 1280px,#ff001c 1320px,#ff001a 1360px,#ff0018 1400px,#ff0017 1412px)"></i><i style="left:38px;top:338px;width:1407px;background:linear-gradient(90deg,#00ffd6 0px,#00ffdc 40px,#00ffe2 80px,#00ffea 120px,#00fff2 160px,#00fffb 200px,#0ff 217.9px,#00faff 240px,#00efff 280px,#00e8ff 306.7px,#11e5ff 320px,#45daff 360px,#76d0ff 396.4px,#7bcfff 400px,#81cdff 404.4px,#8dcbff 412.4px,#98c9ff 420.4px,#a3c6ff 428.4px,#aec4ff 436.4px,#b4c3ff 440px,#bac1ff 444.4px,#c5bfff 452.4px,#d1bdff 460.4px,#ddbaff 468.4px,#e8b8ff 476.4px,#eeb7ff 480px,#f4b5ff 484.4px,#ffb3ff 491.5px,#ffa7f2 500.4px,#ff9ee8 508.4px,#ff91da 520px,#ff6fb4 560px,#ff5698 600px,#ff4284 640px,#ff3373 680px,#ff2766 720px,#ff1d5b 760px,#ff1552 800px,#ff0e4a 840px,#ff0843 880px,#ff033d 920px,#ff003b 941px,#ff0038 960px,#ff0034 1000px,#ff0030 1040px,#ff002c 1080px,#ff0029 1120px,#ff0026 1160px,#ff0023 1200px,#ff0021 1240px,#ff001e 1280px,#ff001c 1320px,#ff001a 1360px,#ff0019 1400px,#ff0018 1407px)"></i><i style="left:39px;top:342px;width:1403px;background:linear-gradient(90deg,#00ffda 0px,#00ffe0 40px,#00ffe7 80px,#0fe 120px,#00fff7 160px,#0ff 196.5px,#00feff 200px,#00f4ff 240px,#00eaff 280px,#00e3ff 306.2px,#11e0ff 320px,#45d5ff 360px,#74cbff 395.4px,#7acaff 400px,#7fc9ff 403.4px,#8ac6ff 411.4px,#95c4ff 419.4px,#a0c2ff 427.4px,#abbfff 435.4px,#b1beff 440px,#b6bdff 443.4px,#c1bbff 451.4px,#cdb8ff 459.4px,#d8b6ff 467.4px,#e4b3ff 475.4px,#ebb2ff 480px,#efb1ff 483.4px,#fbaeff 491.4px,#ffa7f7 499.4px,#ff9dec 507.4px,#ff8fdd 520px,#ff6db7 560px,#ff549b 600px,#ff4186 640px,#ff3375 680px,#ff2768 720px,#ff1d5c 760px,#ff1453 800px,#ff0d4b 840px,#ff0744 880px,#ff023f 920px,#ff003c 936.6px,#ff0039 960px,#ff0035 1000px,#ff0031 1040px,#ff002d 1080px,#ff002a 1120px,#ff0027 1160px,#ff0024 1200px,#f02 1240px,#ff001f 1280px,#ff001d 1320px,#ff001b 1360px,#ff0019 1400px,#ff0019 1403px)"></i><i style="left:40px;top:346px;width:1399px;background:linear-gradient(90deg,#00ffde 0px,#00ffe4 40px,#00ffeb 80px,#00fff3 120px,#00fffc 160px,#0ff 175px,#00f9ff 200px,#00efff 240px,#00e5ff 280px,#00dfff 305.8px,#12dbff 320px,#44d0ff 360px,#71c7ff 394.4px,#79c5ff 400px,#87c2ff 410.4px,#91c0ff 418.4px,#9cbdff 426.4px,#a7bbff 434.4px,#afb9ff 440px,#bdb6ff 450.4px,#c9b4ff 458.4px,#d4b2ff 466.4px,#dfafff 474.4px,#e7adff 480px,#f6aaff 490.4px,#ffa8ff 496.4px,#ff9cf1 506.4px,#ff8ee0 520px,#ff6cba 560px,#ff539d 600px,#ff4088 640px,#ff3277 680px,#ff2669 720px,#ff1c5e 760px,#ff1455 800px,#ff0d4d 840px,#ff0746 880px,#ff0240 920px,#ff003e 932.3px,#ff003b 960px,#ff0036 1000px,#ff0032 1040px,#ff002e 1080px,#ff002b 1120px,#ff0028 1160px,#ff0025 1200px,#f02 1240px,#ff0020 1280px,#ff001e 1320px,#ff001c 1360px,#ff001a 1399px)"></i><i style="left:41px;top:350px;width:1395px;background:linear-gradient(90deg,#00ffe2 0px,#00ffe8 40px,#00fff0 80px,#00fff8 120px,#0ff 153.5px,#00feff 160px,#00f4ff 200px,#00eaff 240px,#00e0ff 280px,#00daff 305.3px,#12d6ff 320px,#44cbff 360px,#6fc2ff 393.4px,#77c0ff 400px,#84beff 409.4px,#8ebbff 417.4px,#99b9ff 425.4px,#a4b7ff 433.4px,#adb5ff 440px,#bab2ff 449.4px,#c5b0ff 457.4px,#d0adff 465.4px,#dbabff 473.4px,#e4a9ff 480px,#f2a6ff 489.4px,#fda4ff 497.4px,#ff9cf6 505.4px,#ff8ce4 520px,#ff6abc 560px,#ff52a0 600px,#ff3f8a 640px,#ff3179 680px,#ff256b 720px,#ff1b60 760px,#ff1356 800px,#ff0c4e 840px,#ff0647 880px,#ff0141 920px,#ff0040 928px,#ff003c 960px,#ff0037 1000px,#f03 1040px,#ff002f 1080px,#ff002c 1120px,#ff0029 1160px,#ff0026 1200px,#ff0023 1240px,#ff0021 1280px,#ff001f 1320px,#ff001d 1360px,#ff001b 1395px)"></i><i style="left:43px;top:354px;width:1389px;background:linear-gradient(90deg,#00ffe6 0px,#00ffed 40px,#00fff4 80px,#00fffd 120px,#0ff 131.1px,#00f8ff 160px,#00efff 200px,#00e5ff 240px,#00dcff 280px,#00d5ff 303.9px,#13d1ff 320px,#45c7ff 360px,#78bcff 400px,#acb0ff 440px,#e3a5ff 480px,#ff9eff 500.2px,#ff89e6 520px,#ff68be 560px,#ff50a2 600px,#ff3e8c 640px,#ff307a 680px,#ff246d 720px,#ff1a61 760px,#ff1257 800px,#ff0b4f 840px,#ff0548 880px,#ff0042 920px,#ff003d 960px,#ff0038 1000px,#ff0034 1040px,#ff0030 1080px,#ff002c 1120px,#ff0029 1160px,#ff0027 1200px,#ff0024 1240px,#f02 1280px,#ff001f 1320px,#ff001d 1360px,#ff001c 1389px)"></i><i style="left:44px;top:358px;width:1385px;background:linear-gradient(90deg,#00ffea 0px,#00fff1 40px,#00fff9 80px,#0ff 109.6px,#00fdff 120px,#00f4ff 160px,#00eaff 200px,#00e1ff 240px,#00d7ff 280px,#00d1ff 303.4px,#14cdff 320px,#44c2ff 360px,#76b7ff 400px,#aaacff 440px,#e0a0ff 480px,#ff9aff 502.6px,#ff87e9 520px,#ff67c1 560px,#ff4fa4 600px,#ff3d8e 640px,#ff2f7c 680px,#ff236e 720px,#ff1a63 760px,#ff1259 800px,#ff0b51 840px,#ff054a 880px,#f04 918.3px,#ff003e 960px,#ff0039 1000px,#ff0035 1040px,#ff0031 1080px,#ff002d 1120px,#ff002a 1160px,#ff0027 1200px,#ff0025 1240px,#f02 1280px,#ff0020 1320px,#ff001e 1360px,#ff001d 1385px)"></i><i style="left:45px;top:362px;width:1381px;background:linear-gradient(90deg,#0fe 0px,#00fff5 40px,#00fffd 80px,#0ff 88.1px,#00f8ff 120px,#00efff 160px,#00e6ff 200px,#00dcff 240px,#00d3ff 280px,#00cdff 303px,#14c8ff 320px,#44beff 360px,#75b3ff 400px,#a8a8ff 440px,#dd9cff 480px,#ff95ff 505px,#ff86ec 520px,#ff65c4 560px,#ff4ea6 600px,#ff3c90 640px,#ff2e7e 680px,#ff2270 720px,#ff1964 760px,#ff115a 800px,#ff0a52 840px,#ff044b 880px,#ff0045 914px,#ff0045 920px,#ff003f 960px,#ff003a 1000px,#ff0036 1040px,#ff0032 1080px,#ff002e 1120px,#ff002b 1160px,#ff0028 1200px,#ff0026 1240px,#ff0023 1280px,#ff0021 1320px,#ff001f 1360px,#ff001e 1381px)"></i><i style="left:46px;top:366px;width:1376px;background:linear-gradient(90deg,#00fff2 0px,#00fffa 40px,#0ff 66.7px,#00fcff 80px,#00f4ff 120px,#00ebff 160px,#00e1ff 200px,#00d8ff 240px,#00ceff 280px,#00c9ff 302.5px,#14c4ff 320px,#43baff 360px,#74afff 400px,#a6a4ff 440px,#da99ff 480px,#ff91ff 507.4px,#ff84ef 520px,#ff64c6 560px,#ff4da9 600px,#ff3b92 640px,#ff2d80 680px,#ff2172 720px,#ff1866 760px,#ff105c 800px,#ff0a53 840px,#ff044c 880px,#ff0047 909.7px,#ff0046 920px,#ff0040 960px,#ff003b 1000px,#ff0037 1040px,#f03 1080px,#ff002f 1120px,#ff002c 1160px,#ff0029 1200px,#ff0026 1240px,#ff0024 1280px,#f02 1320px,#ff0020 1360px,#ff001f 1376px)"></i><i style="left:48px;top:370px;width:1371px;background:linear-gradient(90deg,#00fff6 0px,#00fffe 40px,#0ff 44.2px,#00f8ff 80px,#00efff 120px,#00e6ff 160px,#0df 200px,#00d4ff 240px,#00caff 280px,#00c5ff 301.1px,#15c0ff 320px,#44b6ff 360px,#74abff 400px,#a6a0ff 440px,#d995ff 480px,#ff8cff 508.9px,#ff81f1 520px,#ff62c8 560px,#ff4baa 600px,#ff3994 640px,#ff2c82 680px,#ff2073 720px,#ff1767 760px,#ff0f5d 800px,#ff0955 840px,#ff034d 880px,#ff0049 904.3px,#ff0047 920px,#ff0041 960px,#ff003c 1000px,#ff0038 1040px,#ff0034 1080px,#ff0030 1120px,#ff002d 1160px,#ff002a 1200px,#ff0027 1240px,#ff0025 1280px,#f02 1320px,#ff0020 1360px,#ff0020 1371px)"></i><i style="left:49px;top:374px;width:1367px;background:linear-gradient(90deg,#00fffb 0px,#0ff 22.7px,#00fbff 40px,#00f3ff 80px,#00ebff 120px,#00e2ff 160px,#00d9ff 200px,#00cfff 240px,#00c6ff 280px,#00c1ff 300.6px,#16bcff 320px,#44b2ff 360px,#73a7ff 400px,#a49cff 440px,#d691ff 480px,#f8f 511.3px,#ff80f4 520px,#ff61cb 560px,#ff4aad 600px,#ff3896 640px,#ff2b84 680px,#ff2075 720px,#ff1669 760px,#ff0f5f 800px,#ff0856 840px,#ff034f 880px,#ff004b 900px,#ff0048 920px,#ff0042 960px,#ff003d 1000px,#ff0039 1040px,#ff0035 1080px,#ff0031 1120px,#ff002e 1160px,#ff002b 1200px,#ff0028 1240px,#ff0025 1280px,#ff0023 1320px,#ff0021 1360px,#ff0021 1367px)"></i><i style="left:50px;top:378px;width:1362px;background:linear-gradient(90deg,#0ff 0px,#00f7ff 40px,#00efff 80px,#00e6ff 120px,#00deff 160px,#00d5ff 200px,#00cbff 240px,#00c2ff 280px,#00bdff 300.2px,#16b8ff 320px,#43aeff 360px,#72a3ff 400px,#a299ff 440px,#d48dff 480px,#ff84ff 513.7px,#ff7ef7 520px,#ff5fce 560px,#ff49af 600px,#ff3798 640px,#ff2a86 680px,#ff1f77 720px,#ff166a 760px,#ff0e60 800px,#ff0857 840px,#ff0250 880px,#ff004d 895.7px,#ff0049 920px,#ff0043 960px,#ff003e 1000px,#ff003a 1040px,#ff0036 1080px,#ff0032 1120px,#ff002f 1160px,#ff002c 1200px,#ff0029 1240px,#ff0026 1280px,#ff0024 1320px,#f02 1360px,#f02 1362px)"></i><i style="left:51px;top:382px;width:1358px;background:linear-gradient(90deg,#00fbff 0px,#00f3ff 40px,#00ebff 80px,#00e2ff 120px,#00daff 160px,#00d1ff 200px,#00c7ff 240px,#00beff 280px,#00b9ff 299.7px,#16b4ff 320px,#43aaff 360px,#71a0ff 400px,#a095ff 440px,#d18aff 480px,#ff80ff 516.1px,#ff7cfa 520px,#ff5ed0 560px,#ff47b2 600px,#ff369a 640px,#ff2988 680px,#ff1e78 720px,#ff156c 760px,#ff0d62 800px,#ff0759 840px,#ff0151 880px,#ff004f 891.3px,#ff004a 920px,#ff0045 960px,#ff003f 1000px,#ff003b 1040px,#ff0037 1080px,#f03 1120px,#ff0030 1160px,#ff002c 1200px,#ff002a 1240px,#ff0027 1280px,#ff0025 1320px,#f02 1358px)"></i><i style="left:53px;top:386px;width:1353px;background:linear-gradient(90deg,#00f7ff 0px,#00efff 40px,#00e7ff 80px,#00deff 120px,#00d5ff 160px,#00cdff 200px,#00c3ff 240px,#00baff 280px,#00b6ff 298.3px,#17b0ff 320px,#44a6ff 360px,#719cff 400px,#a091ff 440px,#d086ff 480px,#ff7cff 517.5px,#ff5cd2 560px,#ff46b3 600px,#ff359c 640px,#ff2889 680px,#ff1d7a 720px,#ff146d 760px,#ff0d63 800px,#ff065a 840px,#ff0152 880px,#ff0051 886px,#ff004c 920px,#ff0046 960px,#ff0040 1000px,#ff003c 1040px,#ff0038 1080px,#ff0034 1120px,#ff0030 1160px,#ff002d 1200px,#ff002a 1240px,#ff0028 1280px,#ff0025 1320px,#ff0023 1353px)"></i><i style="left:54px;top:390px;width:1349px;background:linear-gradient(90deg,#00f3ff 0px,#00ebff 40px,#00e3ff 80px,#00daff 120px,#00d2ff 160px,#00c9ff 200px,#00c0ff 240px,#00b6ff 280px,#00b2ff 297.8px,#18adff 320px,#43a3ff 360px,#7098ff 400px,#9e8eff 440px,#ce83ff 480px,#ff78ff 519.9px,#ff5ad5 560px,#ff45b6 600px,#ff349e 640px,#ff278b 680px,#ff1c7c 720px,#ff136f 760px,#ff0c64 800px,#ff065b 840px,#ff0054 880px,#ff004d 920px,#ff0047 960px,#ff0041 1000px,#ff003d 1040px,#ff0038 1080px,#ff0035 1120px,#ff0031 1160px,#ff002e 1200px,#ff002b 1240px,#ff0028 1280px,#ff0026 1320px,#ff0024 1349px)"></i><i style="left:55px;top:394px;width:1344px;background:linear-gradient(90deg,#00efff 0px,#00e7ff 40px,#00dfff 80px,#00d6ff 120px,#00ceff 160px,#00c5ff 200px,#00bcff 240px,#00b3ff 280px,#00afff 297.4px,#18a9ff 320px,#439fff 360px,#6f95ff 400px,#9d8bff 440px,#cc80ff 480px,#fc75ff 520px,#ff59d7 560px,#ff43b8 600px,#ff33a0 640px,#ff268d 680px,#ff1b7d 720px,#ff1371 760px,#ff0b66 800px,#ff055d 840px,#f05 877.4px,#ff004e 920px,#ff0048 960px,#ff0043 1000px,#ff003e 1040px,#ff0039 1080px,#ff0036 1120px,#ff0032 1160px,#ff002f 1200px,#ff002c 1240px,#ff0029 1280px,#ff0027 1320px,#ff0025 1344px)"></i><i style="left:57px;top:398px;width:1339px;background:linear-gradient(90deg,#00ebff 0px,#00e3ff 40px,#00dbff 80px,#00d2ff 120px,#00caff 160px,#00c1ff 200px,#00b8ff 240px,#00afff 280px,#00abff 295.9px,#19a5ff 320px,#439cff 360px,#6f92ff 400px,#9c87ff 440px,#cb7dff 480px,#fa72ff 520px,#ff71ff 523.8px,#ff57d9 560px,#ff42b9 600px,#ff32a1 640px,#ff258e 680px,#ff1a7f 720px,#ff1272 760px,#ff0b67 800px,#ff045e 840px,#ff0057 872px,#ff0056 880px,#ff004f 920px,#ff0049 960px,#ff0043 1000px,#ff003f 1040px,#ff003a 1080px,#ff0036 1120px,#f03 1160px,#ff0030 1200px,#ff002d 1240px,#ff002a 1280px,#ff0027 1320px,#ff0026 1339px)"></i><i style="left:58px;top:402px;width:1335px;background:linear-gradient(90deg,#00e7ff 0px,#00dfff 40px,#00d7ff 80px,#00cfff 120px,#00c6ff 160px,#00beff 200px,#00b5ff 240px,#00acff 280px,#00a8ff 295.5px,#19a2ff 320px,#4398ff 360px,#6e8eff 400px,#9b84ff 440px,#c87aff 480px,#f86fff 520px,#ff6dff 526.2px,#ff56dc 560px,#ff41bc 600px,#ff31a3 640px,#ff2490 680px,#ff1a80 720px,#ff1173 760px,#ff0a69 800px,#ff045f 840px,#ff005a 867.7px,#ff0057 880px,#ff0050 920px,#ff004a 960px,#ff0045 1000px,#ff0040 1040px,#ff003b 1080px,#ff0037 1120px,#ff0034 1160px,#ff0030 1200px,#ff002d 1240px,#ff002b 1280px,#ff0028 1320px,#ff0027 1335px)"></i><i style="left:59px;top:406px;width:1330px;background:linear-gradient(90deg,#00e3ff 0px,#00dbff 40px,#00d3ff 80px,#00cbff 120px,#00c3ff 160px,#00baff 200px,#00b1ff 240px,#00a8ff 280px,#00a5ff 295px,#199fff 320px,#4395ff 360px,#6d8bff 400px,#9981ff 440px,#c677ff 480px,#f56cff 520px,#ff6aff 528.6px,#ff54de 560px,#ff40be 600px,#ff30a5 640px,#ff2392 680px,#ff1982 720px,#ff1075 760px,#ff096a 800px,#ff0361 840px,#ff005c 863.4px,#ff0058 880px,#ff0051 920px,#ff004b 960px,#ff0046 1000px,#ff0041 1040px,#ff003c 1080px,#ff0038 1120px,#ff0035 1160px,#ff0031 1200px,#ff002e 1240px,#ff002c 1280px,#ff0029 1320px,#ff0028 1330px)"></i><i style="left:61px;top:410px;width:1325px;background:linear-gradient(90deg,#00dfff 0px,#00d8ff 40px,#00d0ff 80px,#00c8ff 120px,#00bfff 160px,#00b7ff 200px,#00aeff 240px,#00a5ff 280px,#00a2ff 293.6px,#1a9bff 320px,#4392ff 360px,#6e88ff 400px,#997eff 440px,#c574ff 480px,#f369ff 520px,#f6f 530px,#ff52e0 560px,#ff3ec0 600px,#ff2ea7 640px,#ff2293 680px,#ff1883 720px,#ff1076 760px,#ff086b 800px,#ff0262 840px,#ff005e 858px,#ff005a 880px,#ff0052 920px,#ff004c 960px,#ff0047 1000px,#ff0042 1040px,#ff003d 1080px,#ff0039 1120px,#ff0035 1160px,#ff0032 1200px,#ff002f 1240px,#ff002c 1280px,#ff002a 1320px,#ff0029 1325px)"></i><i style="left:62px;top:414px;width:1321px;background:linear-gradient(90deg,#00dcff 0px,#00d4ff 40px,#0cf 80px,#00c4ff 120px,#00bcff 160px,#00b3ff 200px,#00abff 240px,#00a2ff 280px,#009fff 293.1px,#1b98ff 320px,#438fff 360px,#6d85ff 400px,#977bff 440px,#c371ff 480px,#f166ff 520px,#ff63ff 532.4px,#ff51e2 560px,#ff3dc2 600px,#ff2da9 640px,#ff2195 680px,#ff1785 720px,#ff0f78 760px,#ff086d 800px,#ff0263 840px,#ff0060 853.7px,#ff005b 880px,#ff0054 920px,#ff004d 960px,#ff0048 1000px,#ff0043 1040px,#ff003e 1080px,#ff003a 1120px,#ff0036 1160px,#f03 1200px,#ff0030 1240px,#ff002d 1280px,#ff002a 1320px,#ff002a 1321px)"></i><i style="left:63px;top:418px;width:1316px;background:linear-gradient(90deg,#00d9ff 0px,#00d1ff 40px,#00c9ff 80px,#00c1ff 120px,#00b9ff 160px,#00b0ff 200px,#00a7ff 240px,#009fff 280px,#009cff 292.7px,#1b95ff 320px,#438cff 360px,#6c82ff 400px,#9678ff 440px,#c16eff 480px,#ee64ff 520px,#ff60ff 534.8px,#ff50e5 560px,#ff3cc4 600px,#ff2cab 640px,#ff2097 680px,#ff1687 720px,#ff0e79 760px,#ff076e 800px,#ff0164 840px,#ff0062 849.4px,#ff005c 880px,#f05 920px,#ff004e 960px,#ff0049 1000px,#f04 1040px,#ff003f 1080px,#ff003b 1120px,#ff0037 1160px,#ff0034 1200px,#ff0031 1240px,#ff002e 1280px,#ff002b 1316px)"></i><i style="left:65px;top:422px;width:1311px;background:linear-gradient(90deg,#00d5ff 0px,#00cdff 40px,#00c5ff 80px,#00bdff 120px,#00b5ff 160px,#00adff 200px,#00a4ff 240px,#009bff 280px,#09f 291.2px,#1c92ff 320px,#4389ff 360px,#6c7fff 400px,#9675ff 440px,#c16bff 480px,#ed61ff 520px,#ff5dff 536.2px,#ff4ee6 560px,#ff3ac6 600px,#ff2bad 640px,#ff1f98 680px,#ff1588 720px,#ff0d7b 760px,#ff066f 800px,#ff0166 840px,#ff0065 844.1px,#ff005d 880px,#ff0056 920px,#ff004f 960px,#ff004a 1000px,#f04 1040px,#ff0040 1080px,#ff003c 1120px,#ff0038 1160px,#ff0035 1200px,#ff0031 1240px,#ff002e 1280px,#ff002c 1311px)"></i><i style="left:66px;top:426px;width:1307px;background:linear-gradient(90deg,#00d2ff 0px,#00caff 40px,#00c2ff 80px,#00baff 120px,#00b2ff 160px,#0af 200px,#00a1ff 240px,#0098ff 280px,#0096ff 290.8px,#1c8fff 320px,#4386ff 360px,#6b7dff 400px,#9473ff 440px,#bf69ff 480px,#ea5eff 520px,#ff59ff 538.7px,#ff4de9 560px,#ff39c8 600px,#ff2aaf 640px,#ff1e9a 680px,#ff158a 720px,#ff0d7c 760px,#ff0671 800px,#ff0067 839.7px,#ff005e 880px,#ff0057 920px,#ff0050 960px,#ff004b 1000px,#ff0045 1040px,#ff0041 1080px,#ff003d 1120px,#ff0039 1160px,#ff0035 1200px,#ff0032 1240px,#ff002f 1280px,#ff002d 1307px)"></i><i style="left:68px;top:430px;width:1301px;background:linear-gradient(90deg,#00ceff 0px,#00c7ff 40px,#00bfff 80px,#00b7ff 120px,#00afff 160px,#00a7ff 200px,#009eff 240px,#0095ff 280px,#0093ff 289.3px,#1d8cff 320px,#4483ff 360px,#6b7aff 400px,#9470ff 440px,#be66ff 480px,#e95cff 520px,#ff56ff 540.1px,#ff4beb 560px,#ff38ca 600px,#ff29b0 640px,#ff1d9c 680px,#ff148b 720px,#ff0c7d 760px,#ff0572 800px,#ff0069 834.4px,#ff0068 840px,#ff005f 880px,#ff0058 920px,#ff0051 960px,#ff004c 1000px,#ff0046 1040px,#ff0042 1080px,#ff003d 1120px,#ff003a 1160px,#ff0036 1200px,#f03 1240px,#ff0030 1280px,#ff002e 1301px)"></i><i style="left:69px;top:434px;width:1297px;background:linear-gradient(90deg,#00cbff 0px,#00c4ff 40px,#00bcff 80px,#00b4ff 120px,#00acff 160px,#00a4ff 200px,#009bff 240px,#0092ff 280px,#0090ff 288.9px,#1d8aff 320px,#4380ff 360px,#6a77ff 400px,#936dff 440px,#bc63ff 480px,#e759ff 520px,#ff53ff 542.5px,#ff49ed 560px,#ff36cc 600px,#ff28b2 640px,#ff1c9e 680px,#ff138d 720px,#ff0b7f 760px,#ff0473 800px,#ff006c 830.1px,#ff0069 840px,#ff0061 880px,#ff0059 920px,#ff0053 960px,#ff004d 1000px,#ff0047 1040px,#ff0043 1080px,#ff003e 1120px,#ff003a 1160px,#ff0037 1200px,#ff0034 1240px,#ff0031 1280px,#ff0030 1297px)"></i><i style="left:70px;top:438px;width:1293px;background:linear-gradient(90deg,#00c8ff 0px,#00c0ff 40px,#00b9ff 80px,#00b1ff 120px,#00a9ff 160px,#00a1ff 200px,#0098ff 240px,#0090ff 280px,#008eff 288.4px,#1d87ff 320px,#437eff 360px,#6a74ff 400px,#916bff 440px,#ba61ff 480px,#e457ff 520px,#ff51ff 544.9px,#ff48f0 560px,#ff35ce 600px,#ff27b4 640px,#ff1b9f 680px,#ff128f 720px,#ff0a81 760px,#ff0475 800px,#ff006e 825.7px,#ff006b 840px,#ff0062 880px,#ff005a 920px,#ff0054 960px,#ff004e 1000px,#ff0048 1040px,#f04 1080px,#ff003f 1120px,#ff003b 1160px,#ff0038 1200px,#ff0034 1240px,#ff0031 1280px,#ff0031 1293px)"></i><i style="left:72px;top:442px;width:1288px;background:linear-gradient(90deg,#00c5ff 0px,#00bdff 40px,#00b6ff 80px,#00aeff 120px,#00a6ff 160px,#009eff 200px,#0095ff 240px,#008dff 280px,#008bff 287px,#1e84ff 320px,#447bff 360px,#6a72ff 400px,#9168ff 440px,#ba5fff 480px,#e355ff 520px,#ff4eff 546.3px,#ff46f1 560px,#ff34cf 600px,#ff26b5 640px,#ff1aa1 680px,#ff1190 720px,#ff0982 760px,#ff0376 800px,#ff0071 820.4px,#ff006c 840px,#ff0063 880px,#ff005b 920px,#f05 960px,#ff004f 1000px,#ff0049 1040px,#f04 1080px,#ff0040 1120px,#ff003c 1160px,#ff0039 1200px,#ff0035 1240px,#ff0032 1280px,#ff0032 1288px)"></i><i style="left:73px;top:446px;width:1283px;background:linear-gradient(90deg,#00c2ff 0px,#00baff 40px,#00b3ff 80px,#00abff 120px,#00a3ff 160px,#009bff 200px,#0093ff 240px,#008aff 280px,#0089ff 286.5px,#1e81ff 320px,#4378ff 360px,#696fff 400px,#9066ff 440px,#b85cff 480px,#e152ff 520px,#ff4bff 548.7px,#ff45f4 560px,#ff33d2 600px,#ff25b7 640px,#ff19a3 680px,#ff1091 720px,#ff0983 760px,#ff0277 800px,#ff0073 816.1px,#ff006d 840px,#ff0064 880px,#ff005d 920px,#ff0056 960px,#ff0050 1000px,#ff004a 1040px,#ff0045 1080px,#ff0041 1120px,#ff003d 1160px,#ff0039 1200px,#ff0036 1240px,#f03 1280px,#f03 1283px)"></i><i style="left:75px;top:450px;width:1278px;background:linear-gradient(90deg,#00bfff 0px,#00b7ff 40px,#00b0ff 80px,#00a8ff 120px,#00a0ff 160px,#0098ff 200px,#0090ff 240px,#0087ff 280px,#0086ff 285.1px,#1f7fff 320px,#4476ff 360px,#696dff 400px,#9063ff 440px,#b75aff 480px,#e050ff 520px,#ff48ff 550.1px,#ff43f5 560px,#ff31d3 600px,#ff23b9 640px,#ff18a4 680px,#ff0f93 720px,#ff0884 760px,#ff0278 800px,#ff0076 810.7px,#ff006e 840px,#ff0065 880px,#ff005e 920px,#ff0057 960px,#ff0051 1000px,#ff004b 1040px,#ff0046 1080px,#ff0042 1120px,#ff003e 1160px,#ff003a 1200px,#ff0037 1240px,#ff0034 1278px)"></i><i style="left:76px;top:454px;width:1274px;background:linear-gradient(90deg,#00bcff 0px,#00b4ff 40px,#00adff 80px,#00a5ff 120px,#009dff 160px,#0095ff 200px,#008dff 240px,#0085ff 280px,#0084ff 284.6px,#1f7cff 320px,#4373ff 360px,#696aff 400px,#8f61ff 440px,#b658ff 480px,#de4eff 520px,#ff46ff 552.6px,#ff42f8 560px,#ff30d5 600px,#ff23bb 640px,#ff18a6 680px,#ff0f94 720px,#ff0786 760px,#ff017a 800px,#ff0078 806.4px,#ff0070 840px,#ff0067 880px,#ff005f 920px,#ff0058 960px,#ff0052 1000px,#ff004c 1040px,#ff0047 1080px,#ff0043 1120px,#ff003f 1160px,#ff003b 1200px,#ff0038 1240px,#ff0035 1274px)"></i><i style="left:77px;top:458px;width:1269px;background:linear-gradient(90deg,#00b9ff 0px,#00b2ff 40px,#0af 80px,#00a3ff 120px,#009bff 160px,#0093ff 200px,#008bff 240px,#0082ff 280px,#0081ff 284.2px,#1f7aff 320px,#4371ff 360px,#6868ff 400px,#8d5fff 440px,#b456ff 480px,#dc4cff 520px,#ff43ff 555px,#ff41fa 560px,#ff2fd7 600px,#ff22bd 640px,#ff17a7 680px,#ff0e96 720px,#ff0788 760px,#ff007b 800px,#ff0071 840px,#ff0068 880px,#ff0060 920px,#ff0059 960px,#ff0053 1000px,#ff004d 1040px,#ff0048 1080px,#f04 1120px,#ff003f 1160px,#ff003c 1200px,#ff0038 1240px,#ff0036 1269px)"></i><i style="left:79px;top:462px;width:1264px;background:linear-gradient(90deg,#00b6ff 0px,#00afff 40px,#00a7ff 80px,#00a0ff 120px,#0098ff 160px,#0090ff 200px,#08f 240px,#0080ff 280px,#2077ff 320px,#446fff 360px,#6866ff 400px,#8d5dff 440px,#b353ff 480px,#db4aff 520px,#ff41ff 556.4px,#ff3ffb 560px,#ff2ed9 600px,#ff20be 640px,#ff16a9 680px,#ff0d97 720px,#ff0689 760px,#ff007d 796.8px,#ff007c 800px,#ff0072 840px,#ff0069 880px,#ff0061 920px,#ff005a 960px,#ff0054 1000px,#ff004e 1040px,#ff0049 1080px,#f04 1120px,#ff0040 1160px,#ff003c 1200px,#ff0039 1240px,#ff0037 1264px)"></i><i style="left:80px;top:466px;width:1260px;background:linear-gradient(90deg,#00b3ff 0px,#00acff 40px,#00a5ff 80px,#009dff 120px,#0096ff 160px,#008eff 200px,#0086ff 240px,#007dff 280px,#2075ff 320px,#436cff 360px,#6764ff 400px,#8c5aff 440px,#b251ff 480px,#d948ff 520px,#ff3eff 558.8px,#ff2ddb 600px,#ff1fc0 640px,#ff15ab 680px,#ff0c99 720px,#ff058a 760px,#ff0080 792.4px,#ff007e 800px,#ff0073 840px,#ff006a 880px,#ff0062 920px,#ff005b 960px,#f05 1000px,#ff004f 1040px,#ff004a 1080px,#ff0045 1120px,#ff0041 1160px,#ff003d 1200px,#ff003a 1240px,#ff0038 1260px)"></i><i style="left:82px;top:470px;width:1254px;background:linear-gradient(90deg,#00b1ff 0px,#00a9ff 40px,#00a2ff 80px,#009bff 120px,#0093ff 160px,#008bff 200px,#0083ff 240px,#007bff 280px,#2172ff 320px,#446aff 360px,#6861ff 400px,#8c58ff 440px,#b14fff 480px,#d846ff 520px,#ff3cff 560px,#ff2bdc 600px,#ff1ec1 640px,#ff14ac 680px,#ff0b9a 720px,#ff048b 760px,#ff0083 787.1px,#ff007f 800px,#ff0074 840px,#ff006b 880px,#ff0063 920px,#ff005c 960px,#f05 1000px,#ff0050 1040px,#ff004b 1080px,#ff0046 1120px,#ff0042 1160px,#ff003e 1200px,#ff003b 1240px,#ff0039 1254px)"></i><i style="left:83px;top:474px;width:1250px;background:linear-gradient(90deg,#00aeff 0px,#00a7ff 40px,#009fff 80px,#0098ff 120px,#0090ff 160px,#0089ff 200px,#0081ff 240px,#0079ff 280px,#2170ff 320px,#4468ff 360px,#675fff 400px,#8b56ff 440px,#b04dff 480px,#d644ff 520px,#fc3aff 560px,#ff2adf 600px,#ff1dc3 640px,#ff13ae 680px,#ff0b9c 720px,#ff048d 760px,#ff0086 782.8px,#ff0080 800px,#ff0076 840px,#ff006c 880px,#ff0064 920px,#ff005d 960px,#ff0057 1000px,#ff0051 1040px,#ff004c 1080px,#ff0047 1120px,#ff0043 1160px,#ff003f 1200px,#ff003b 1240px,#ff003a 1250px)"></i><i style="left:85px;top:478px;width:1245px;background:linear-gradient(90deg,#00abff 0px,#00a4ff 40px,#009dff 80px,#0095ff 120px,#008eff 160px,#0086ff 200px,#007eff 240px,#0076ff 278.9px,#226eff 320px,#4465ff 360px,#675dff 400px,#8b54ff 440px,#af4bff 480px,#d542ff 520px,#fb38ff 560px,#ff37ff 564px,#ff29e0 600px,#ff1cc5 640px,#ff12af 680px,#ff0a9d 720px,#ff038e 760px,#f08 777.4px,#ff0081 800px,#f07 840px,#ff006d 880px,#ff0065 920px,#ff005e 960px,#ff0057 1000px,#ff0052 1040px,#ff004c 1080px,#ff0048 1120px,#ff0043 1160px,#ff0040 1200px,#ff003c 1240px,#ff003c 1245px)"></i><i style="left:86px;top:482px;width:1241px;background:linear-gradient(90deg,#00a9ff 0px,#00a2ff 40px,#009aff 80px,#0093ff 120px,#008cff 160px,#0084ff 200px,#007cff 240px,#0074ff 278.5px,#226cff 320px,#4463ff 360px,#665bff 400px,#8a52ff 440px,#ae49ff 480px,#d340ff 520px,#f936ff 560px,#ff35ff 566.5px,#ff28e2 600px,#ff1bc7 640px,#ff11b1 680px,#ff099f 720px,#ff0290 760px,#ff008b 773.1px,#ff0083 800px,#ff0078 840px,#ff006e 880px,#f06 920px,#ff005f 960px,#ff0058 1000px,#ff0053 1040px,#ff004d 1080px,#ff0049 1120px,#f04 1160px,#ff0040 1200px,#ff003d 1240px,#ff003d 1241px)"></i><i style="left:88px;top:486px;width:1235px;background:linear-gradient(90deg,#00a6ff 0px,#009fff 40px,#0098ff 80px,#0091ff 120px,#0089ff 160px,#0081ff 200px,#007aff 240px,#0072ff 277px,#0272ff 280px,#236aff 320px,#4461ff 360px,#6759ff 400px,#8a50ff 440px,#ad47ff 480px,#d23eff 520px,#f834ff 560px,#f3f 567.9px,#ff26e3 600px,#ff1ac8 640px,#ff10b2 680px,#ff08a0 720px,#ff0191 760px,#ff008e 767.8px,#ff0084 800px,#ff0079 840px,#ff006f 880px,#ff0067 920px,#ff0060 960px,#ff0059 1000px,#ff0053 1040px,#ff004e 1080px,#ff0049 1120px,#ff0045 1160px,#ff0041 1200px,#ff003e 1235px)"></i><i style="left:89px;top:490px;width:1231px;background:linear-gradient(90deg,#00a4ff 0px,#009dff 40px,#0096ff 80px,#008eff 120px,#0087ff 160px,#007fff 200px,#07f 240px,#0070ff 276.6px,#0370ff 280px,#2367ff 320px,#445fff 360px,#6657ff 400px,#894eff 440px,#ac45ff 480px,#d03cff 520px,#f533ff 560px,#ff30ff 570.3px,#ff25e6 600px,#ff19ca 640px,#ff0fb4 680px,#ff07a1 720px,#ff0192 760px,#ff0091 763.5px,#ff0085 800px,#ff007a 840px,#ff0071 880px,#ff0068 920px,#ff0061 960px,#ff005a 1000px,#ff0054 1040px,#ff004f 1080px,#ff004a 1120px,#ff0046 1160px,#ff0042 1200px,#ff003f 1231px)"></i><i style="left:91px;top:494px;width:1226px;background:linear-gradient(90deg,#00a1ff 0px,#009aff 40px,#0093ff 80px,#008cff 120px,#0084ff 160px,#007dff 200px,#0075ff 240px,#006eff 275.1px,#046dff 280px,#2465ff 320px,#455dff 360px,#65f 400px,#884cff 440px,#ac43ff 480px,#cf3aff 520px,#f431ff 560px,#ff2eff 571.7px,#ff24e7 600px,#ff18cb 640px,#ff0eb5 680px,#ff06a3 720px,#ff0094 758.1px,#ff0086 800px,#ff007b 840px,#ff0072 880px,#ff0069 920px,#ff0062 960px,#ff005b 1000px,#f05 1040px,#ff0050 1080px,#ff004b 1120px,#ff0047 1160px,#ff0043 1200px,#ff0040 1226px)"></i><i style="left:92px;top:498px;width:1221px;background:linear-gradient(90deg,#009fff 0px,#0098ff 40px,#0091ff 80px,#008aff 120px,#0082ff 160px,#007bff 200px,#0073ff 240px,#006cff 274.7px,#046bff 280px,#2463ff 320px,#445bff 360px,#6653ff 400px,#874aff 440px,#aa42ff 480px,#ce39ff 520px,#f22fff 560px,#ff2cff 574.1px,#ff23e9 600px,#ff17cd 640px,#ff0db7 680px,#ff06a4 720px,#ff0097 753.8px,#ff0095 760px,#f08 800px,#ff007d 840px,#ff0073 880px,#ff006a 920px,#ff0063 960px,#ff005c 1000px,#ff0056 1040px,#ff0051 1080px,#ff004c 1120px,#ff0048 1160px,#ff0043 1200px,#ff0041 1221px)"></i><i style="left:94px;top:502px;width:1216px;background:linear-gradient(90deg,#009cff 0px,#0095ff 40px,#008eff 80px,#0087ff 120px,#0080ff 160px,#0079ff 200px,#0071ff 240px,#006aff 273.2px,#0569ff 280px,#2561ff 320px,#4559ff 360px,#6651ff 400px,#8748ff 440px,#aa40ff 480px,#cd37ff 520px,#f12eff 560px,#ff2aff 575.5px,#ff21ea 600px,#ff16ce 640px,#ff0cb8 680px,#ff05a5 720px,#ff009a 748.5px,#ff0096 760px,#ff0089 800px,#ff007e 840px,#ff0074 880px,#ff006b 920px,#ff0064 960px,#ff005d 1000px,#ff0057 1040px,#ff0052 1080px,#ff004d 1120px,#ff0048 1160px,#f04 1200px,#ff0043 1216px)"></i><i style="left:95px;top:506px;width:1212px;background:linear-gradient(90deg,#009aff 0px,#0093ff 40px,#008cff 80px,#0085ff 120px,#007eff 160px,#0076ff 200px,#006fff 240px,#0069ff 272.8px,#0667ff 280px,#255fff 320px,#4557ff 360px,#654fff 400px,#8647ff 440px,#a83eff 480px,#cb35ff 520px,#ef2cff 560px,#ff28ff 577.9px,#ff20ec 600px,#ff15d0 640px,#ff0cba 680px,#ff04a7 720px,#ff009d 744.1px,#ff0097 760px,#ff008a 800px,#ff007f 840px,#ff0075 880px,#ff006c 920px,#ff0065 960px,#ff005e 1000px,#ff0058 1040px,#ff0053 1080px,#ff004e 1120px,#ff0049 1160px,#ff0045 1200px,#f04 1212px)"></i><i style="left:97px;top:510px;width:1206px;background:linear-gradient(90deg,#0098ff 0px,#0091ff 40px,#008aff 80px,#0083ff 120px,#007cff 160px,#0074ff 200px,#006dff 240px,#0067ff 271.3px,#0765ff 280px,#255dff 320px,#4555ff 360px,#654dff 400px,#8645ff 440px,#a83cff 480px,#ca33ff 520px,#ee2bff 560px,#ff26ff 579.4px,#ff1fee 600px,#ff14d1 640px,#ff0bbb 680px,#ff03a8 720px,#ff00a0 738.8px,#f09 760px,#ff008b 800px,#ff0080 840px,#ff0076 880px,#ff006d 920px,#f06 960px,#ff005f 1000px,#ff0059 1040px,#ff0053 1080px,#ff004e 1120px,#ff004a 1160px,#ff0046 1200px,#ff0045 1206px)"></i><i style="left:98px;top:514px;width:1202px;background:linear-gradient(90deg,#0096ff 0px,#008fff 40px,#08f 80px,#0081ff 120px,#007aff 160px,#0072ff 200px,#006bff 240px,#0065ff 270.9px,#0763ff 280px,#255bff 320px,#4553ff 360px,#654bff 400px,#8543ff 440px,#a73bff 480px,#c932ff 520px,#ec29ff 560px,#ff24ff 581.8px,#ff1ef0 600px,#ff13d3 640px,#ff0abc 680px,#ff02aa 720px,#ff00a4 734.5px,#ff009a 760px,#ff008d 800px,#ff0081 840px,#f07 880px,#ff006f 920px,#ff0067 960px,#ff0060 1000px,#ff005a 1040px,#ff0054 1080px,#ff004f 1120px,#ff004b 1160px,#ff0047 1200px,#ff0046 1202px)"></i><i style="left:100px;top:518px;width:1197px;background:linear-gradient(90deg,#0093ff 0px,#008cff 40px,#0086ff 80px,#007fff 120px,#07f 160px,#0070ff 200px,#0069ff 240px,#0063ff 269.4px,#0861ff 280px,#2659ff 320px,#4552ff 360px,#6549ff 400px,#8541ff 440px,#a639ff 480px,#c830ff 520px,#eb27ff 560px,#f2f 583.2px,#ff1df1 600px,#ff12d4 640px,#ff09be 680px,#ff02ab 720px,#ff00a7 729.1px,#ff009b 760px,#ff008e 800px,#ff0082 840px,#ff0078 880px,#ff006f 920px,#ff0068 960px,#ff0061 1000px,#ff005b 1040px,#f05 1080px,#ff0050 1120px,#ff004b 1160px,#ff0048 1197px)"></i><i style="left:102px;top:522px;width:1191px;background:linear-gradient(90deg,#0091ff 0px,#008aff 40px,#0083ff 80px,#007cff 120px,#0075ff 160px,#006eff 200px,#0067ff 240px,#0061ff 268px,#095fff 280px,#2758ff 320px,#4650ff 360px,#6548ff 400px,#853fff 440px,#a637ff 480px,#c72fff 520px,#ea26ff 560px,#ff20ff 584.6px,#ff1bf2 600px,#ff11d6 640px,#ff08bf 680px,#ff01ac 720px,#f0a 723.8px,#ff009c 760px,#ff008f 800px,#ff0083 840px,#ff0079 880px,#ff0070 920px,#ff0069 960px,#ff0062 1000px,#ff005b 1040px,#ff0056 1080px,#ff0051 1120px,#ff004c 1160px,#ff0049 1191px)"></i><i style="left:103px;top:526px;width:1187px;background:linear-gradient(90deg,#008fff 0px,#08f 40px,#0081ff 80px,#007bff 120px,#0073ff 160px,#006cff 200px,#0065ff 240px,#0060ff 267.5px,#095dff 280px,#2756ff 320px,#454eff 360px,#6546ff 400px,#843eff 440px,#a536ff 480px,#c62dff 520px,#e825ff 560px,#ff1fff 587px,#ff1af4 600px,#ff10d8 640px,#ff07c0 680px,#ff00ae 719.5px,#ff009e 760px,#ff0090 800px,#ff0084 840px,#ff007a 880px,#ff0072 920px,#ff006a 960px,#ff0063 1000px,#ff005c 1040px,#ff0057 1080px,#ff0052 1120px,#ff004d 1160px,#ff004a 1187px)"></i><i style="left:105px;top:530px;width:1182px;background:linear-gradient(90deg,#008dff 0px,#0086ff 40px,#007fff 80px,#0078ff 120px,#0071ff 160px,#006aff 200px,#0063ff 240px,#005eff 266.1px,#0a5cff 280px,#2854ff 320px,#464cff 360px,#6544ff 400px,#843cff 440px,#a434ff 480px,#c52cff 520px,#e723ff 560px,#ff1dff 588.4px,#ff19f5 600px,#ff0fd9 640px,#ff06c2 680px,#ff00b1 714.2px,#ff00af 720px,#ff009f 760px,#ff0091 800px,#ff0085 840px,#ff007b 880px,#ff0072 920px,#ff006b 960px,#ff0064 1000px,#ff005d 1040px,#ff0058 1080px,#ff0052 1120px,#ff004e 1160px,#ff004b 1182px)"></i><i style="left:106px;top:534px;width:1178px;background:linear-gradient(90deg,#008bff 0px,#0084ff 40px,#007dff 80px,#07f 120px,#0070ff 160px,#0068ff 200px,#0061ff 240px,#005cff 265.6px,#0a5aff 280px,#2852ff 320px,#464bff 360px,#6443ff 400px,#833bff 440px,#a333ff 480px,#c42aff 520px,#e522ff 560px,#ff1bff 590.8px,#ff18f7 600px,#ff0edb 640px,#ff05c3 680px,#ff00b5 709.8px,#ff00b0 720px,#ff00a0 760px,#ff0092 800px,#ff0087 840px,#ff007d 880px,#ff0074 920px,#ff006c 960px,#ff0065 1000px,#ff005e 1040px,#ff0058 1080px,#ff0053 1120px,#ff004f 1160px,#ff004d 1178px)"></i><i style="left:108px;top:538px;width:1172px;background:linear-gradient(90deg,#0089ff 0px,#0082ff 40px,#007bff 80px,#0075ff 120px,#006eff 160px,#0067ff 200px,#005fff 240px,#005bff 264.2px,#0b58ff 280px,#2850ff 320px,#4649ff 360px,#6441ff 400px,#8339ff 440px,#a331ff 480px,#c329ff 520px,#e420ff 560px,#ff19ff 592.3px,#ff17f9 600px,#ff0ddc 640px,#ff04c4 680px,#ff00b8 704.5px,#ff00b1 720px,#ff00a1 760px,#ff0094 800px,#f08 840px,#ff007d 880px,#ff0074 920px,#ff006c 960px,#ff0065 1000px,#ff005f 1040px,#ff0059 1080px,#ff0054 1120px,#ff004f 1160px,#ff004e 1172px)"></i><i style="left:110px;top:542px;width:1167px;background:linear-gradient(90deg,#0086ff 0px,#0080ff 40px,#0079ff 80px,#0073ff 120px,#006cff 160px,#0065ff 200px,#005dff 240px,#0059ff 262.7px,#0c56ff 280px,#294fff 320px,#4747ff 360px,#653fff 400px,#8337ff 440px,#a32fff 480px,#c227ff 520px,#e31fff 560px,#ff17ff 593.7px,#ff16fa 600px,#ff0cdd 640px,#ff03c6 680px,#ff00bc 699.2px,#ff00b2 720px,#ff00a2 760px,#ff0095 800px,#ff0089 840px,#ff007e 880px,#ff0075 920px,#ff006d 960px,#f06 1000px,#ff0060 1040px,#ff005a 1080px,#f05 1120px,#ff0050 1160px,#ff004f 1167px)"></i><i style="left:111px;top:546px;width:1163px;background:linear-gradient(90deg,#0085ff 0px,#007eff 40px,#07f 80px,#0071ff 120px,#006aff 160px,#0063ff 200px,#005cff 240px,#0058ff 262.3px,#0c55ff 280px,#294dff 320px,#4646ff 360px,#643eff 400px,#8236ff 440px,#a12eff 480px,#c126ff 520px,#e11dff 560px,#ff16ff 596.1px,#ff15fc 600px,#ff0bdf 640px,#ff03c7 680px,#ff00c0 694.8px,#ff00b4 720px,#ff00a4 760px,#ff0096 800px,#ff008a 840px,#ff0080 880px,#ff0076 920px,#ff006e 960px,#ff0067 1000px,#ff0061 1040px,#ff005b 1080px,#ff0056 1120px,#ff0051 1160px,#ff0051 1163px)"></i><i style="left:113px;top:550px;width:1157px;background:linear-gradient(90deg,#0083ff 0px,#007cff 40px,#0076ff 80px,#006fff 120px,#0068ff 160px,#0061ff 200px,#005aff 240px,#0056ff 260.8px,#0d53ff 280px,#2a4bff 320px,#4744ff 360px,#643cff 400px,#8234ff 440px,#a12cff 480px,#c024ff 520px,#e01cff 560px,#ff14ff 597.5px,#ff0ae0 640px,#ff02c8 680px,#ff00c3 689.5px,#ff00b5 720px,#ff00a5 760px,#ff0097 800px,#ff008b 840px,#ff0081 880px,#f07 920px,#ff006f 960px,#ff0068 1000px,#ff0062 1040px,#ff005c 1080px,#ff0056 1120px,#ff0052 1157px)"></i><i style="left:115px;top:554px;width:1152px;background:linear-gradient(90deg,#0081ff 0px,#007aff 40px,#0074ff 80px,#006dff 120px,#06f 160px,#005fff 200px,#0058ff 240px,#05f 259.4px,#0e51ff 280px,#2a4aff 320px,#4742ff 360px,#643bff 400px,#8233ff 440px,#a12bff 480px,#c023ff 520px,#e01bff 560px,#ff13ff 598.9px,#ff09e1 640px,#ff01ca 680px,#ff00c7 684.2px,#ff00b6 720px,#ff00a6 760px,#ff0098 800px,#ff008c 840px,#ff0081 880px,#ff0078 920px,#ff0070 960px,#ff0069 1000px,#ff0062 1040px,#ff005c 1080px,#ff0057 1120px,#ff0053 1152px)"></i><i style="left:116px;top:558px;width:1148px;background:linear-gradient(90deg,#007fff 0px,#0078ff 40px,#0072ff 80px,#006bff 120px,#0064ff 160px,#005eff 200px,#0057ff 240px,#0053ff 258.9px,#0e4fff 280px,#2a48ff 320px,#4741ff 360px,#6439ff 400px,#8232ff 440px,#a02aff 480px,#be22ff 520px,#de1aff 560px,#fe11ff 600px,#ff08e3 640px,#ff00cb 679.9px,#ff00b8 720px,#ff00a7 760px,#f09 800px,#ff008d 840px,#ff0083 880px,#ff0079 920px,#ff0071 960px,#ff006a 1000px,#ff0063 1040px,#ff005d 1080px,#ff0058 1120px,#f05 1148px)"></i><i style="left:118px;top:562px;width:1142px;background:linear-gradient(90deg,#007dff 0px,#0076ff 40px,#0070ff 80px,#0069ff 120px,#0063ff 160px,#005cff 200px,#05f 240px,#0052ff 257.5px,#0f4eff 280px,#2b47ff 320px,#473fff 360px,#6438ff 400px,#8130ff 440px,#9f28ff 480px,#be20ff 520px,#dd18ff 560px,#fd10ff 600px,#ff07e4 640px,#ff00cf 674.5px,#f0c 680px,#ff00b9 720px,#ff00a8 760px,#ff009a 800px,#ff008e 840px,#ff0084 880px,#ff007a 920px,#ff0072 960px,#ff006b 1000px,#ff0064 1040px,#ff005e 1080px,#ff0059 1120px,#ff0056 1142px)"></i><i style="left:120px;top:566px;width:1137px;background:linear-gradient(90deg,#007bff 0px,#0075ff 40px,#006eff 80px,#0068ff 120px,#0061ff 160px,#005aff 200px,#0053ff 240px,#0050ff 256px,#104cff 280px,#2c45ff 320px,#483eff 360px,#6436ff 400px,#812fff 440px,#9f27ff 480px,#bd1fff 520px,#dc17ff 560px,#fc0fff 600px,#ff0eff 604.2px,#ff06e5 640px,#ff00d3 669.2px,#ff00cd 680px,#ff00ba 720px,#ff00a9 760px,#ff009b 800px,#ff008f 840px,#ff0084 880px,#ff007b 920px,#ff0073 960px,#ff006b 1000px,#ff0065 1040px,#ff005f 1080px,#ff0059 1120px,#ff0057 1137px)"></i><i style="left:121px;top:570px;width:1133px;background:linear-gradient(90deg,#0079ff 0px,#0073ff 40px,#006cff 80px,#06f 120px,#005fff 160px,#0059ff 200px,#0052ff 240px,#004fff 255.6px,#104bff 280px,#2c44ff 320px,#473cff 360px,#6435ff 400px,#812dff 440px,#9e26ff 480px,#bc1eff 520px,#db16ff 560px,#fa0eff 600px,#ff0cff 606.6px,#ff05e7 640px,#ff00d7 664.9px,#ff00cf 680px,#f0b 720px,#ff00ab 760px,#ff009c 800px,#ff0090 840px,#ff0086 880px,#ff007c 920px,#ff0074 960px,#ff006c 1000px,#f06 1040px,#ff0060 1080px,#ff005a 1120px,#ff0059 1133px)"></i><i style="left:123px;top:574px;width:1128px;background:linear-gradient(90deg,#07f 0px,#0071ff 40px,#006bff 80px,#0064ff 120px,#005eff 160px,#0057ff 200px,#0050ff 240px,#004eff 254.1px,#1149ff 280px,#2c42ff 320px,#483bff 360px,#6433ff 400px,#812cff 440px,#9e24ff 480px,#bc1cff 520px,#da14ff 560px,#f90cff 600px,#ff0bff 608px,#ff04e8 640px,#ff00dc 659.5px,#ff00d0 680px,#ff00bc 720px,#ff00ac 760px,#ff009d 800px,#ff0091 840px,#ff0087 880px,#ff007d 920px,#ff0075 960px,#ff006d 1000px,#ff0067 1040px,#ff0061 1080px,#ff005b 1120px,#ff005a 1128px)"></i><i style="left:125px;top:578px;width:1122px;background:linear-gradient(90deg,#0075ff 0px,#006fff 40px,#0069ff 80px,#0062ff 120px,#005cff 160px,#05f 200px,#004eff 240px,#004cff 252.7px,#1247ff 280px,#2d40ff 320px,#4839ff 360px,#6432ff 400px,#812aff 440px,#9e23ff 480px,#bb1bff 520px,#d913ff 560px,#f80bff 600px,#ff09ff 609.4px,#ff03e9 640px,#ff00e0 654.2px,#ff00d1 680px,#ff00bd 720px,#ff00ad 760px,#ff009e 800px,#ff0092 840px,#ff0087 880px,#ff007e 920px,#ff0076 960px,#ff006e 1000px,#ff0067 1040px,#ff0061 1080px,#ff005c 1120px,#ff005c 1122px)"></i><i style="left:126px;top:582px;width:1118px;background:linear-gradient(90deg,#0074ff 0px,#006eff 40px,#0067ff 80px,#0061ff 120px,#005aff 160px,#0054ff 200px,#004dff 240px,#004bff 252.2px,#1246ff 280px,#2d3fff 320px,#4838ff 360px,#6431ff 400px,#8029ff 440px,#9d22ff 480px,#ba1aff 520px,#d812ff 560px,#f60aff 600px,#ff08ff 611.8px,#ff02eb 640px,#ff00e4 649.9px,#ff00d3 680px,#ff00bf 720px,#ff00ae 760px,#ff00a0 800px,#ff0093 840px,#ff0089 880px,#ff007f 920px,#f07 960px,#ff006f 1000px,#ff0068 1040px,#ff0062 1080px,#ff005d 1118px)"></i><i style="left:128px;top:586px;width:1113px;background:linear-gradient(90deg,#0072ff 0px,#006cff 40px,#06f 80px,#005fff 120px,#0059ff 160px,#0052ff 200px,#004bff 240px,#004aff 250.8px,#1345ff 280px,#2d3eff 320px,#4836ff 360px,#642fff 400px,#8028ff 440px,#9c20ff 480px,#b919ff 520px,#d711ff 560px,#f509ff 600px,#ff06ff 613.2px,#ff01ec 640px,#ff00e9 644.5px,#ff00d4 680px,#ff00c0 720px,#ff00af 760px,#ff00a1 800px,#ff0094 840px,#ff0089 880px,#ff0080 920px,#f07 960px,#ff0070 1000px,#ff0069 1040px,#ff0063 1080px,#ff005e 1113px)"></i><i style="left:130px;top:590px;width:1107px;background:linear-gradient(90deg,#0070ff 0px,#006aff 40px,#0064ff 80px,#005eff 120px,#0057ff 160px,#0051ff 200px,#004aff 240px,#0048ff 249.3px,#1443ff 280px,#2e3cff 320px,#4935ff 360px,#642eff 400px,#8027ff 440px,#9c1fff 480px,#b918ff 520px,#d610ff 560px,#f408ff 600px,#ff05ff 614.6px,#f0e 639.2px,#ff00d5 680px,#ff00c1 720px,#ff00b0 760px,#ff00a2 800px,#ff0095 840px,#ff008a 880px,#ff0081 920px,#ff0078 960px,#ff0071 1000px,#ff006a 1040px,#ff0064 1080px,#ff0060 1107px)"></i><i style="left:132px;top:594px;width:1102px;background:linear-gradient(90deg,#006fff 0px,#0068ff 40px,#0062ff 80px,#005cff 120px,#0056ff 160px,#004fff 200px,#0048ff 240px,#0047ff 247.9px,#1542ff 280px,#2f3bff 320px,#4934ff 360px,#642dff 400px,#8025ff 440px,#9c1eff 480px,#b816ff 520px,#d50fff 560px,#f307ff 600px,#ff04ff 616.1px,#ff00f2 633.9px,#f0e 640px,#ff00d6 680px,#ff00c2 720px,#ff00b1 760px,#ff00a3 800px,#ff0096 840px,#ff008b 880px,#ff0082 920px,#ff0079 960px,#ff0071 1000px,#ff006b 1040px,#ff0064 1080px,#ff0061 1102px)"></i><i style="left:133px;top:598px;width:1098px;background:linear-gradient(90deg,#006dff 0px,#0067ff 40px,#0061ff 80px,#005aff 120px,#0054ff 160px,#004eff 200px,#0047ff 240px,#0046ff 247.4px,#1540ff 280px,#2f39ff 320px,#4932ff 360px,#642bff 400px,#7f24ff 440px,#9b1dff 480px,#b715ff 520px,#d40eff 560px,#f106ff 600px,#ff02ff 618.5px,#ff00f7 629.6px,#ff00f0 640px,#ff00d8 680px,#ff00c3 720px,#ff00b2 760px,#ff00a4 800px,#ff0097 840px,#ff008c 880px,#ff0083 920px,#ff007a 960px,#ff0072 1000px,#ff006c 1040px,#ff0065 1080px,#ff0063 1098px)"></i><i style="left:135px;top:602px;width:1092px;background:linear-gradient(90deg,#006bff 0px,#0065ff 40px,#005fff 80px,#0059ff 120px,#0053ff 160px,#004cff 200px,#0045ff 240px,#04f 246px,#153fff 280px,#2f38ff 320px,#4931ff 360px,#642aff 400px,#7f23ff 440px,#9b1cff 480px,#b714ff 520px,#d30dff 560px,#f005ff 600px,#ff01ff 619.9px,#ff00fc 624.2px,#ff00f1 640px,#ff00d9 680px,#ff00c4 720px,#ff00b3 760px,#ff00a5 800px,#ff0098 840px,#ff008d 880px,#ff0084 920px,#ff007b 960px,#ff0073 1000px,#ff006c 1040px,#f06 1080px,#ff0064 1092px)"></i><i style="left:137px;top:606px;width:1087px;background:linear-gradient(90deg,#006aff 0px,#0064ff 40px,#005eff 80px,#0057ff 120px,#0051ff 160px,#004bff 200px,#04f 240px,#0043ff 244.5px,#163dff 280px,#3037ff 320px,#4a30ff 360px,#6429ff 400px,#7f22ff 440px,#9a1aff 480px,#b613ff 520px,#d30bff 560px,#ef04ff 600px,#fd00ff 618.9px,#ff00f2 640px,#ff00da 680px,#ff00c5 720px,#ff00b4 760px,#ff00a6 800px,#f09 840px,#ff008e 880px,#ff0084 920px,#ff007c 960px,#ff0074 1000px,#ff006d 1040px,#ff0067 1080px,#f06 1087px)"></i><i style="left:139px;top:610px;width:1082px;background:linear-gradient(90deg,#0068ff 0px,#0062ff 40px,#005cff 80px,#0056ff 120px,#0050ff 160px,#0049ff 200px,#0043ff 240px,#0042ff 243.1px,#173cff 280px,#3035ff 320px,#4a2eff 360px,#6427ff 400px,#7f20ff 440px,#9a19ff 480px,#b612ff 520px,#d20aff 560px,#ee03ff 600px,#f800ff 613.6px,#f0f 622.7px,#ff00f3 640px,#ff00db 680px,#ff00c6 720px,#ff00b5 760px,#ff00a7 800px,#ff009a 840px,#ff008f 880px,#ff0085 920px,#ff007d 960px,#ff0075 1000px,#ff006e 1040px,#ff0068 1080px,#ff0067 1082px)"></i><i style="left:141px;top:614px;width:1077px;background:linear-gradient(90deg,#06f 0px,#0061ff 40px,#005aff 80px,#0054ff 120px,#004eff 160px,#0048ff 200px,#0041ff 240px,#183bff 280px,#3134ff 320px,#4a2dff 360px,#6426ff 400px,#7f1fff 440px,#9a18ff 480px,#b511ff 520px,#d109ff 560px,#ee02ff 600px,#f300ff 608.2px,#f0f 624.1px,#ff00f4 640px,#ff00dc 680px,#ff00c7 720px,#ff00b6 760px,#ff00a8 800px,#ff009b 840px,#ff0090 880px,#ff0086 920px,#ff007d 960px,#ff0076 1000px,#ff006f 1040px,#ff0069 1077px)"></i><i style="left:142px;top:618px;width:1072px;background:linear-gradient(90deg,#0065ff 0px,#005fff 40px,#0059ff 80px,#0053ff 120px,#004dff 160px,#0046ff 200px,#0040ff 240px,#1839ff 280px,#3133ff 320px,#4a2cff 360px,#6425ff 400px,#7e1eff 440px,#9917ff 480px,#b410ff 520px,#d008ff 560px,#ec01ff 600px,#ef00ff 603.9px,#f0f 626.5px,#ff00f6 640px,#f0d 680px,#ff00c9 720px,#ff00b8 760px,#ff00a9 800px,#ff009c 840px,#ff0091 880px,#ff0087 920px,#ff007e 960px,#f07 1000px,#ff0070 1040px,#ff006a 1072px)"></i><i style="left:144px;top:622px;width:1067px;background:linear-gradient(90deg,#0063ff 0px,#005eff 40px,#0058ff 80px,#0051ff 120px,#004bff 160px,#0045ff 200px,#003fff 239.7px,#1838ff 280px,#3131ff 320px,#4a2bff 360px,#6424ff 400px,#7e1dff 440px,#9916ff 480px,#b40fff 520px,#cf07ff 560px,#ea00ff 598.6px,#f0f 628px,#ff00f7 640px,#ff00de 680px,#ff00ca 720px,#ff00b9 760px,#f0a 800px,#ff009d 840px,#ff0092 880px,#f08 920px,#ff007f 960px,#f07 1000px,#ff0070 1040px,#ff006c 1067px)"></i><i style="left:146px;top:626px;width:1062px;background:linear-gradient(90deg,#0062ff 0px,#005cff 40px,#0056ff 80px,#0050ff 120px,#004aff 160px,#04f 200px,#003dff 238.3px,#1937ff 280px,#3230ff 320px,#4b29ff 360px,#6423ff 400px,#7e1cff 440px,#9915ff 480px,#b30dff 520px,#cf06ff 560px,#e600ff 593.3px,#ea00ff 600px,#f0f 629.4px,#ff00f8 640px,#ff00df 680px,#ff00cb 720px,#ff00ba 760px,#ff00ab 800px,#ff009e 840px,#ff0093 880px,#ff0089 920px,#ff0080 960px,#ff0078 1000px,#ff0071 1040px,#ff006d 1062px)"></i><i style="left:148px;top:630px;width:1056px;background:linear-gradient(90deg,#0060ff 0px,#005bff 40px,#05f 80px,#004fff 120px,#0048ff 160px,#0042ff 200px,#003cff 236.8px,#023cff 240px,#1a35ff 280px,#322fff 320px,#4b28ff 360px,#6421ff 400px,#7e1bff 440px,#9814ff 480px,#b30cff 520px,#ce05ff 560px,#e100ff 587.9px,#e900ff 600px,#f0f 630.8px,#ff00f9 640px,#ff00e0 680px,#f0c 720px,#f0b 760px,#ff00ac 800px,#ff009f 840px,#ff0094 880px,#ff008a 920px,#ff0081 960px,#ff0079 1000px,#ff0072 1040px,#ff006f 1056px)"></i><i style="left:150px;top:634px;width:1051px;background:linear-gradient(90deg,#005fff 0px,#0059ff 40px,#0053ff 80px,#004dff 120px,#0047ff 160px,#0041ff 200px,#003bff 235.4px,#033bff 240px,#1b34ff 280px,#332eff 320px,#4c27ff 360px,#6520ff 400px,#7e19ff 440px,#9812ff 480px,#b20bff 520px,#cd04ff 560px,#d0f 582.6px,#e900ff 600px,#f0f 632.2px,#ff00fa 640px,#ff00e1 680px,#ff00cd 720px,#f0b 760px,#ff00ad 800px,#ff00a0 840px,#ff0094 880px,#ff008a 920px,#ff0082 960px,#ff007a 1000px,#ff0072 1040px,#ff0071 1051px)"></i><i style="left:152px;top:638px;width:1046px;background:linear-gradient(90deg,#005dff 0px,#0058ff 40px,#0052ff 80px,#004cff 120px,#0046ff 160px,#003fff 200px,#003aff 233.9px,#0439ff 240px,#1b33ff 280px,#332cff 320px,#4c26ff 360px,#651fff 400px,#7e18ff 440px,#9811ff 480px,#b20aff 520px,#cd03ff 560px,#d800ff 577.3px,#e800ff 600px,#f0f 633.6px,#ff00fb 640px,#ff00e2 680px,#ff00ce 720px,#ff00bc 760px,#ff00ae 800px,#ff00a1 840px,#ff0095 880px,#ff008b 920px,#ff0082 960px,#ff007a 1000px,#ff0073 1040px,#ff0072 1046px)"></i><i style="left:153px;top:642px;width:1041px;background:linear-gradient(90deg,#005cff 0px,#0056ff 40px,#0050ff 80px,#004bff 120px,#04f 160px,#003eff 200px,#0039ff 233.5px,#0438ff 240px,#1b32ff 280px,#332bff 320px,#4c25ff 360px,#641eff 400px,#7d17ff 440px,#9710ff 480px,#b109ff 520px,#cb02ff 560px,#d400ff 572.9px,#e600ff 600px,#f0f 636px,#ff00fc 640px,#ff00e4 680px,#ff00cf 720px,#ff00be 760px,#ff00af 800px,#ff00a2 840px,#ff0096 880px,#ff008c 920px,#ff0083 960px,#ff007b 1000px,#ff0074 1040px,#ff0074 1041px)"></i><i style="left:155px;top:646px;width:1036px;background:linear-gradient(90deg,#005bff 0px,#05f 40px,#004fff 80px,#0049ff 120px,#0043ff 160px,#003dff 200px,#0038ff 232px,#0537ff 240px,#1c31ff 280px,#342aff 320px,#4c24ff 360px,#641dff 400px,#7d16ff 440px,#970fff 480px,#b108ff 520px,#cb01ff 560px,#d000ff 567.6px,#e600ff 600px,#f0f 637.4px,#ff00e5 680px,#ff00d0 720px,#ff00bf 760px,#ff00b0 800px,#ff00a3 840px,#ff0097 880px,#ff008d 920px,#ff0084 960px,#ff007c 1000px,#ff0076 1036px)"></i><i style="left:157px;top:650px;width:1031px;background:linear-gradient(90deg,#0059ff 0px,#0053ff 40px,#004eff 80px,#0048ff 120px,#0042ff 160px,#003cff 200px,#0037ff 230.6px,#0536ff 240px,#1d2fff 280px,#3429ff 320px,#4c22ff 360px,#651cff 400px,#7d15ff 440px,#970eff 480px,#b007ff 520px,#ca00ff 560px,#e500ff 600px,#f0f 638.9px,#ff00e6 680px,#ff00d1 720px,#ff00c0 760px,#ff00b1 800px,#ff00a3 840px,#ff0098 880px,#ff008e 920px,#ff0085 960px,#ff007d 1000px,#f07 1031px)"></i><i style="left:159px;top:654px;width:1025px;background:linear-gradient(90deg,#0058ff 0px,#0052ff 40px,#004cff 80px,#0046ff 120px,#0041ff 160px,#003aff 200px,#0036ff 229.1px,#0634ff 240px,#1d2eff 280px,#3528ff 320px,#4d21ff 360px,#651bff 400px,#7d14ff 440px,#960dff 480px,#b006ff 520px,#c800ff 556.9px,#ca00ff 560px,#e400ff 600px,#f0f 640px,#ff00e7 680px,#ff00d2 720px,#ff00c0 760px,#ff00b1 800px,#ff00a4 840px,#f09 880px,#ff008f 920px,#ff0086 960px,#ff007e 1000px,#ff0079 1025px)"></i><i style="left:161px;top:658px;width:1020px;background:linear-gradient(90deg,#0056ff 0px,#0051ff 40px,#004bff 80px,#0045ff 120px,#003fff 160px,#0039ff 200px,#0035ff 227.7px,#0733ff 240px,#1e2dff 280px,#3527ff 320px,#4d20ff 360px,#651aff 400px,#7d13ff 440px,#960cff 480px,#b006ff 520px,#c400ff 551.6px,#c900ff 560px,#e300ff 600px,#fe00ff 640px,#ff00e8 680px,#ff00d3 720px,#ff00c1 760px,#ff00b2 800px,#ff00a5 840px,#ff009a 880px,#ff0090 920px,#ff0086 960px,#ff007e 1000px,#ff007b 1020px)"></i><i style="left:163px;top:662px;width:1015px;background:linear-gradient(90deg,#05f 0px,#004fff 40px,#004aff 80px,#04f 120px,#003eff 160px,#0038ff 200px,#0034ff 226.2px,#0832ff 240px,#1f2cff 280px,#3625ff 320px,#4d1fff 360px,#6519ff 400px,#7d12ff 440px,#960bff 480px,#af05ff 520px,#c000ff 546.3px,#c900ff 560px,#e300ff 600px,#fd00ff 640px,#f0f 643.1px,#ff00e8 680px,#ff00d4 720px,#ff00c2 760px,#ff00b3 800px,#ff00a6 840px,#ff009b 880px,#ff0090 920px,#ff0087 960px,#ff007f 1000px,#ff007c 1015px)"></i><i style="left:165px;top:666px;width:1010px;background:linear-gradient(90deg,#0054ff 0px,#004eff 40px,#0048ff 80px,#0043ff 120px,#003dff 160px,#0037ff 200px,#03f 224.8px,#0831ff 240px,#1f2bff 280px,#3624ff 320px,#4e1eff 360px,#6518ff 400px,#7d11ff 440px,#960aff 480px,#af04ff 520px,#bc00ff 541px,#c800ff 560px,#e200ff 600px,#fc00ff 640px,#f0f 644.5px,#ff00e9 680px,#ff00d5 720px,#ff00c3 760px,#ff00b4 800px,#ff00a7 840px,#ff009b 880px,#ff0091 920px,#f08 960px,#ff0080 1000px,#ff007e 1010px)"></i><i style="left:167px;top:670px;width:1004px;background:linear-gradient(90deg,#0052ff 0px,#004dff 40px,#0047ff 80px,#0041ff 120px,#003bff 160px,#0036ff 200px,#0032ff 223.3px,#0930ff 240px,#2029ff 280px,#3723ff 320px,#4e1dff 360px,#6517ff 400px,#7d10ff 440px,#9609ff 480px,#ae03ff 520px,#b800ff 535.6px,#c800ff 560px,#e100ff 600px,#fb00ff 640px,#f0f 645.9px,#ff00ea 680px,#ff00d6 720px,#ff00c4 760px,#ff00b5 800px,#ff00a8 840px,#ff009c 880px,#ff0092 920px,#ff0089 960px,#ff0081 1000px,#ff0080 1004px)"></i><i style="left:169px;top:674px;width:999px;background:linear-gradient(90deg,#0051ff 0px,#004bff 40px,#0046ff 80px,#0040ff 120px,#003aff 160px,#0034ff 200px,#0031ff 221.9px,#0a2eff 240px,#2028ff 280px,#3722ff 320px,#4e1cff 360px,#6615ff 400px,#7d0fff 440px,#9608ff 480px,#ae02ff 520px,#b500ff 530.3px,#c700ff 560px,#e000ff 600px,#fa00ff 640px,#f0f 647.3px,#ff00eb 680px,#ff00d7 720px,#ff00c5 760px,#ff00b6 800px,#ff00a9 840px,#ff009d 880px,#ff0093 920px,#ff008a 960px,#ff0082 999px)"></i><i style="left:170px;top:678px;width:995px;background:linear-gradient(90deg,#0050ff 0px,#004aff 40px,#0045ff 80px,#003fff 120px,#0039ff 160px,#03f 200px,#0030ff 221.4px,#0a2dff 240px,#2027ff 280px,#3721ff 320px,#4e1bff 360px,#6515ff 400px,#7d0eff 440px,#9508ff 480px,#ad01ff 520px,#b100ff 526px,#c600ff 560px,#df00ff 600px,#f900ff 640px,#f0f 649.8px,#ff00ed 680px,#ff00d8 720px,#ff00c6 760px,#ff00b7 800px,#f0a 840px,#ff009e 880px,#ff0094 920px,#ff008b 960px,#ff0083 995px)"></i><i style="left:172px;top:682px;width:989px;background:linear-gradient(90deg,#004fff 0px,#0049ff 40px,#0043ff 80px,#003eff 120px,#0038ff 160px,#0032ff 200px,#002fff 220px,#0b2cff 240px,#2126ff 280px,#3720ff 320px,#4e1aff 360px,#6514ff 400px,#7d0dff 440px,#9507ff 480px,#ad00ff 520px,#c500ff 560px,#de00ff 600px,#f800ff 640px,#f0f 651.2px,#f0e 680px,#ff00d9 720px,#ff00c7 760px,#ff00b8 800px,#ff00ab 840px,#ff009f 880px,#ff0095 920px,#ff008b 960px,#ff0085 989px)"></i><i style="left:174px;top:686px;width:984px;background:linear-gradient(90deg,#004dff 0px,#0048ff 40px,#0042ff 80px,#003dff 120px,#0037ff 160px,#0031ff 200px,#002eff 218.5px,#0c2bff 240px,#2225ff 280px,#381fff 320px,#4e19ff 360px,#6513ff 400px,#7d0cff 440px,#9406ff 480px,#a0f 515.3px,#ad00ff 520px,#c500ff 560px,#de00ff 600px,#f700ff 640px,#f0f 652.6px,#ff00ef 680px,#ff00da 720px,#ff00c8 760px,#ff00b9 800px,#ff00ab 840px,#ff00a0 880px,#ff0095 920px,#ff008c 960px,#ff0087 984px)"></i><i style="left:176px;top:690px;width:979px;background:linear-gradient(90deg,#004cff 0px,#0047ff 40px,#0041ff 80px,#003bff 120px,#0036ff 160px,#0030ff 200px,#002dff 217.1px,#0c2aff 240px,#2224ff 280px,#381eff 320px,#4f18ff 360px,#6612ff 400px,#7d0bff 440px,#9405ff 480px,#a600ff 510px,#ac00ff 520px,#c400ff 560px,#d0f 600px,#f600ff 640px,#f0f 654px,#ff00ef 680px,#ff00db 720px,#ff00c9 760px,#ff00ba 800px,#ff00ac 840px,#ff00a0 880px,#ff0096 920px,#ff008d 960px,#ff0089 979px)"></i><i style="left:178px;top:694px;width:973px;background:linear-gradient(90deg,#004bff 0px,#0045ff 40px,#0040ff 80px,#003aff 120px,#0035ff 160px,#002fff 200px,#002dff 215.6px,#0d29ff 240px,#2323ff 280px,#391dff 320px,#4f17ff 360px,#61f 400px,#7d0aff 440px,#9404ff 480px,#a300ff 504.7px,#ac00ff 520px,#c400ff 560px,#dc00ff 600px,#f500ff 640px,#f0f 655.4px,#ff00f0 680px,#ff00db 720px,#ff00ca 760px,#ff00ba 800px,#ff00ad 840px,#ff00a1 880px,#ff0097 920px,#ff008e 960px,#ff008b 973px)"></i><i style="left:180px;top:698px;width:968px;background:linear-gradient(90deg,#004aff 0px,#04f 40px,#003fff 80px,#0039ff 120px,#03f 160px,#002eff 200px,#002cff 214.2px,#0e28ff 240px,#2322ff 280px,#391cff 320px,#4f16ff 360px,#6610ff 400px,#7d09ff 440px,#9403ff 480px,#9f00ff 499.3px,#ac00ff 520px,#c300ff 560px,#dc00ff 600px,#f400ff 640px,#f0f 656.8px,#ff00f1 680px,#ff00dc 720px,#ff00cb 760px,#f0b 800px,#ff00ae 840px,#ff00a2 880px,#ff0098 920px,#ff008e 960px,#ff008d 968px)"></i><i style="left:182px;top:702px;width:963px;background:linear-gradient(90deg,#0048ff 0px,#0043ff 40px,#003dff 80px,#0038ff 120px,#0032ff 160px,#002dff 200px,#002bff 212.7px,#0e27ff 240px,#2421ff 280px,#3a1bff 320px,#5015ff 360px,#660fff 400px,#7d09ff 440px,#9402ff 480px,#9c00ff 494px,#ab00ff 520px,#c300ff 560px,#db00ff 600px,#f400ff 640px,#f0f 658.2px,#ff00f2 680px,#f0d 720px,#ff00cb 760px,#ff00bc 800px,#ff00af 840px,#ff00a3 880px,#ff0098 920px,#ff008f 960px,#ff008e 963px)"></i><i style="left:184px;top:706px;width:958px;background:linear-gradient(90deg,#0047ff 0px,#0042ff 40px,#003cff 80px,#0037ff 120px,#0031ff 160px,#002cff 200px,#002aff 211.3px,#0f26ff 240px,#2420ff 280px,#3a1aff 320px,#5014ff 360px,#660eff 400px,#7d08ff 440px,#9401ff 480px,#90f 488.7px,#ab00ff 520px,#c300ff 560px,#db00ff 600px,#f300ff 640px,#f0f 659.7px,#ff00f3 680px,#ff00de 720px,#f0c 760px,#ff00bd 800px,#ff00af 840px,#ff00a4 880px,#f09 920px,#ff0090 958px)"></i><i style="left:186px;top:710px;width:952px;background:linear-gradient(90deg,#0046ff 0px,#0041ff 40px,#003bff 80px,#0036ff 120px,#0030ff 160px,#002aff 200px,#0029ff 209.8px,#1025ff 240px,#251fff 280px,#3a19ff 320px,#5013ff 360px,#660dff 400px,#7d07ff 440px,#9401ff 480px,#9500ff 483.3px,#ab00ff 520px,#c200ff 560px,#da00ff 600px,#f200ff 640px,#f0f 661.1px,#ff00f4 680px,#ff00df 720px,#ff00cd 760px,#ff00be 800px,#ff00b0 840px,#ff00a4 880px,#ff009a 920px,#ff0092 952px)"></i><i style="left:188px;top:714px;width:947px;background:linear-gradient(90deg,#0045ff 0px,#003fff 40px,#003aff 80px,#0035ff 120px,#002fff 160px,#0029ff 200px,#0028ff 208.4px,#1024ff 240px,#251eff 280px,#3b18ff 320px,#5012ff 360px,#660cff 400px,#7d06ff 440px,#9200ff 478px,#a0f 520px,#c200ff 560px,#d900ff 600px,#f100ff 640px,#f0f 662.5px,#ff00f5 680px,#ff00e0 720px,#ff00ce 760px,#ff00bf 800px,#ff00b1 840px,#ff00a5 880px,#ff009b 920px,#ff0094 947px)"></i><i style="left:190px;top:718px;width:942px;background:linear-gradient(90deg,#04f 0px,#003eff 40px,#0039ff 80px,#03f 120px,#002eff 160px,#0028ff 200px,#0027ff 206.9px,#1123ff 240px,#261dff 280px,#3b17ff 320px,#5111ff 360px,#670bff 400px,#7d05ff 440px,#8f00ff 472.7px,#9300ff 480px,#a0f 520px,#c100ff 560px,#d900ff 600px,#f100ff 640px,#f0f 663.9px,#ff00f6 680px,#ff00e1 720px,#ff00cf 760px,#ff00bf 800px,#ff00b2 840px,#ff00a6 880px,#ff009b 920px,#ff0096 942px)"></i><i style="left:192px;top:722px;width:936px;background:linear-gradient(90deg,#0042ff 0px,#003dff 40px,#0038ff 80px,#0032ff 120px,#002dff 160px,#0027ff 200px,#0027ff 205.5px,#1222ff 240px,#261cff 280px,#3c16ff 320px,#5110ff 360px,#670aff 400px,#7d04ff 440px,#8c00ff 467.3px,#9300ff 480px,#a0f 520px,#c100ff 560px,#d800ff 600px,#f000ff 640px,#f0f 665.3px,#ff00f6 680px,#ff00e2 720px,#ff00d0 760px,#ff00c0 800px,#ff00b3 840px,#ff00a7 880px,#ff009c 920px,#ff0098 936px)"></i><i style="left:194px;top:726px;width:931px;background:linear-gradient(90deg,#0041ff 0px,#003cff 40px,#0037ff 80px,#0031ff 120px,#002cff 160px,#0026ff 200px,#0026ff 204px,#1221ff 240px,#271bff 280px,#3c15ff 320px,#510fff 360px,#6709ff 400px,#7d03ff 440px,#8900ff 462px,#9300ff 480px,#a900ff 520px,#c000ff 560px,#d800ff 600px,#ef00ff 640px,#f0f 666.7px,#ff00f7 680px,#ff00e2 720px,#ff00d0 760px,#ff00c1 800px,#ff00b3 840px,#ff00a8 880px,#ff009d 920px,#ff009a 931px)"></i><i style="left:196px;top:730px;width:926px;background:linear-gradient(90deg,#0040ff 0px,#003bff 40px,#0036ff 80px,#0030ff 120px,#002bff 160px,#0025ff 200px,#1320ff 240px,#271aff 280px,#3c14ff 320px,#510eff 360px,#6709ff 400px,#7d03ff 440px,#8600ff 456.7px,#9300ff 480px,#a900ff 520px,#c000ff 560px,#d700ff 600px,#e0f 640px,#f0f 668.1px,#ff00f8 680px,#ff00e3 720px,#ff00d1 760px,#ff00c2 800px,#ff00b4 840px,#ff00a8 880px,#ff009e 920px,#ff009c 926px)"></i><i style="left:198px;top:734px;width:920px;background:linear-gradient(90deg,#003fff 0px,#003aff 40px,#0035ff 80px,#002fff 120px,#002aff 160px,#0024ff 200px,#141fff 240px,#2819ff 280px,#3d13ff 320px,#520eff 360px,#6708ff 400px,#7d02ff 440px,#8300ff 451.4px,#9300ff 480px,#a900ff 520px,#bf00ff 560px,#d600ff 600px,#e0f 640px,#f0f 669.5px,#ff00f9 680px,#ff00e4 720px,#ff00d2 760px,#ff00c3 800px,#ff00b5 840px,#ff00a9 880px,#ff009e 920px)"></i><i style="left:200px;top:738px;width:915px;background:linear-gradient(90deg,#003eff 0px,#0039ff 40px,#0034ff 80px,#002eff 120px,#0029ff 160px,#0023ff 199.7px,#141eff 240px,#2818ff 280px,#3d13ff 320px,#520dff 360px,#6707ff 400px,#7d01ff 440px,#8000ff 446px,#9200ff 480px,#a900ff 520px,#bf00ff 560px,#d600ff 600px,#ed00ff 640px,#f0f 671px,#ff00fa 680px,#ff00e5 720px,#ff00d3 760px,#ff00c3 800px,#ff00b6 840px,#f0a 880px,#ff00a0 915px)"></i><i style="left:202px;top:742px;width:910px;background:linear-gradient(90deg,#003dff 0px,#0038ff 40px,#0032ff 80px,#002dff 120px,#0028ff 160px,#0023ff 198.2px,#151dff 240px,#2917ff 280px,#3d12ff 320px,#520cff 360px,#6706ff 400px,#7d00ff 440px,#9200ff 480px,#a800ff 520px,#bf00ff 560px,#d500ff 600px,#ec00ff 640px,#f0f 672.4px,#ff00fb 680px,#ff00e6 720px,#ff00d4 760px,#ff00c4 800px,#ff00b7 840px,#ff00ab 880px,#ff00a2 910px)"></i><i style="left:204px;top:746px;width:905px;background:linear-gradient(90deg,#003cff 0px,#0037ff 40px,#0031ff 80px,#002cff 120px,#0027ff 160px,#02f 196.8px,#0221ff 200px,#151cff 240px,#2916ff 280px,#3e11ff 320px,#520bff 360px,#6705ff 400px,#7a00ff 435.4px,#7d00ff 440px,#9200ff 480px,#a800ff 520px,#be00ff 560px,#d500ff 600px,#eb00ff 640px,#f0f 673.8px,#ff00fb 680px,#ff00e7 720px,#ff00d5 760px,#ff00c5 800px,#ff00b7 840px,#ff00ab 880px,#ff00a4 905px)"></i><i style="left:206px;top:750px;width:899px;background:linear-gradient(90deg,#003bff 0px,#0036ff 40px,#0030ff 80px,#002bff 120px,#0026ff 160px,#0021ff 195.3px,#0220ff 200px,#161bff 240px,#2a15ff 280px,#3e10ff 320px,#530aff 360px,#6804ff 400px,#70f 430px,#7d00ff 440px,#9200ff 480px,#a800ff 520px,#be00ff 560px,#d400ff 600px,#eb00ff 640px,#f0f 675.2px,#ff00fc 680px,#ff00e7 720px,#ff00d5 760px,#ff00c6 800px,#ff00b8 840px,#ff00ac 880px,#ff00a7 899px)"></i><i style="left:208px;top:754px;width:894px;background:linear-gradient(90deg,#003aff 0px,#0035ff 40px,#002fff 80px,#002aff 120px,#0025ff 160px,#0020ff 193.9px,#0320ff 200px,#171aff 240px,#2a15ff 280px,#3f0fff 320px,#5309ff 360px,#6804ff 400px,#7500ff 424.7px,#7d00ff 440px,#9200ff 480px,#a800ff 520px,#bd00ff 560px,#d400ff 600px,#ea00ff 640px,#f0f 676.6px,#ff00fd 680px,#ff00e8 720px,#ff00d6 760px,#ff00c7 800px,#ff00b9 840px,#ff00ad 880px,#ff00a9 894px)"></i><i style="left:210px;top:758px;width:889px;background:linear-gradient(90deg,#0039ff 0px,#0034ff 40px,#002eff 80px,#0029ff 120px,#0024ff 160px,#0020ff 192.4px,#041fff 200px,#1719ff 240px,#2b14ff 280px,#3f0eff 320px,#5309ff 360px,#6803ff 400px,#7200ff 419.4px,#7d00ff 440px,#9200ff 480px,#a700ff 520px,#bd00ff 560px,#d300ff 600px,#e900ff 640px,#f0f 678px,#ff00e9 720px,#ff00d7 760px,#ff00c7 800px,#ff00ba 840px,#ff00ae 880px,#ff00ab 889px)"></i><i style="left:212px;top:762px;width:883px;background:linear-gradient(90deg,#0038ff 0px,#03f 40px,#002dff 80px,#0028ff 120px,#0023ff 160px,#001fff 191px,#041eff 200px,#1818ff 240px,#2b13ff 280px,#3f0dff 320px,#5308ff 360px,#6802ff 400px,#6f00ff 414.1px,#7d00ff 440px,#9200ff 480px,#a700ff 520px,#bd00ff 560px,#d300ff 600px,#e900ff 640px,#f0f 679.4px,#ff00ea 720px,#ff00d8 760px,#ff00c8 800px,#ff00ba 840px,#ff00ae 880px,#ff00ad 883px)"></i><i style="left:214px;top:766px;width:878px;background:linear-gradient(90deg,#0037ff 0px,#0032ff 40px,#002dff 80px,#0027ff 120px,#02f 160px,#001eff 189.5px,#051dff 200px,#1817ff 240px,#2c12ff 280px,#400dff 320px,#5407ff 360px,#6801ff 400px,#6c00ff 408.7px,#7d00ff 440px,#9200ff 480px,#a700ff 520px,#bc00ff 560px,#d200ff 600px,#e800ff 640px,#f0f 680px,#ff00eb 720px,#ff00d9 760px,#ff00c9 800px,#f0b 840px,#ff00b0 878px)"></i><i style="left:216px;top:770px;width:873px;background:linear-gradient(90deg,#0036ff 0px,#0031ff 40px,#002cff 80px,#0026ff 120px,#0021ff 160px,#001eff 188.1px,#061cff 200px,#1917ff 240px,#2c11ff 280px,#400cff 320px,#5406ff 360px,#6801ff 400px,#6a00ff 403.4px,#7d00ff 440px,#9100ff 480px,#a600ff 520px,#bc00ff 560px,#d200ff 600px,#e700ff 640px,#fe00ff 680px,#ff00eb 720px,#ff00d9 760px,#ff00ca 800px,#ff00bc 840px,#ff00b2 873px)"></i><i style="left:218px;top:774px;width:867px;background:linear-gradient(90deg,#0035ff 0px,#0030ff 40px,#002bff 80px,#0025ff 120px,#0020ff 160px,#001dff 186.6px,#061bff 200px,#1916ff 240px,#2d10ff 280px,#400bff 320px,#5405ff 360px,#6700ff 398.1px,#7d00ff 440px,#9100ff 480px,#a600ff 520px,#b0f 560px,#d100ff 600px,#e700ff 640px,#fd00ff 680px,#f0f 683.7px,#ff00ec 720px,#ff00da 760px,#ff00ca 800px,#ff00bd 840px,#ff00b4 867px)"></i><i style="left:220px;top:778px;width:862px;background:linear-gradient(90deg,#0034ff 0px,#002fff 40px,#002aff 80px,#0025ff 120px,#001fff 160px,#001cff 185.2px,#071aff 200px,#1a15ff 240px,#2d10ff 280px,#410aff 320px,#5405ff 360px,#6500ff 392.7px,#6800ff 400px,#7d00ff 440px,#9100ff 480px,#a600ff 520px,#b0f 560px,#d000ff 600px,#e600ff 640px,#fc00ff 680px,#f0f 685.1px,#ff00ed 720px,#ff00db 760px,#ff00cb 800px,#ff00bd 840px,#ff00b7 862px)"></i><i style="left:222px;top:782px;width:857px;background:linear-gradient(90deg,#03f 0px,#002eff 40px,#0029ff 80px,#0024ff 120px,#001fff 160px,#001bff 183.7px,#0819ff 200px,#1a14ff 240px,#2e0fff 280px,#4109ff 320px,#5504ff 360px,#6200ff 387.4px,#6800ff 400px,#7d00ff 440px,#9100ff 480px,#a600ff 520px,#b0f 560px,#d000ff 600px,#e600ff 640px,#fb00ff 680px,#f0f 686.5px,#f0e 720px,#ff00dc 760px,#f0c 800px,#ff00be 840px,#ff00b9 857px)"></i><i style="left:225px;top:786px;width:850px;background:linear-gradient(90deg,#0032ff 0px,#002dff 40px,#0028ff 80px,#0023ff 120px,#001eff 160px,#001bff 181.3px,#0918ff 200px,#1b13ff 240px,#2e0eff 280px,#4208ff 320px,#5503ff 360px,#6000ff 381.1px,#6900ff 400px,#7d00ff 440px,#9100ff 480px,#a600ff 520px,#b0f 560px,#d000ff 600px,#e500ff 640px,#fb00ff 680px,#f0f 686.9px,#f0e 720px,#ff00dc 760px,#f0c 800px,#ff00bf 840px,#f0b 850px)"></i><i style="left:227px;top:790px;width:845px;background:linear-gradient(90deg,#0031ff 0px,#002cff 40px,#0027ff 80px,#02f 120px,#001dff 160px,#001aff 179.8px,#0917ff 200px,#1c12ff 240px,#2f0dff 280px,#4208ff 320px,#5602ff 360px,#5d00ff 375.7px,#6900ff 400px,#7d00ff 440px,#9100ff 480px,#a600ff 520px,#b0f 560px,#d000ff 600px,#e500ff 640px,#fa00ff 680px,#f0f 688.3px,#ff00ef 720px,#f0d 760px,#ff00cd 800px,#ff00bf 840px,#ff00be 845px)"></i><i style="left:229px;top:794px;width:840px;background:linear-gradient(90deg,#0030ff 0px,#002bff 40px,#0026ff 80px,#0021ff 120px,#001cff 160px,#0019ff 178.4px,#0a17ff 200px,#1d11ff 240px,#2f0cff 280px,#4207ff 320px,#5601ff 360px,#5b00ff 370.4px,#6900ff 400px,#7d00ff 440px,#9100ff 480px,#a600ff 520px,#ba00ff 560px,#cf00ff 600px,#e400ff 640px,#fa00ff 680px,#f0f 689.8px,#ff00f0 720px,#ff00de 760px,#ff00ce 800px,#ff00c0 840px)"></i><i style="left:231px;top:798px;width:835px;background:linear-gradient(90deg,#002fff 0px,#002aff 40px,#0025ff 80px,#0020ff 120px,#001bff 160px,#0019ff 176.9px,#0b16ff 200px,#1d11ff 240px,#300bff 280px,#4306ff 320px,#5601ff 360px,#5800ff 365.1px,#6900ff 400px,#7d00ff 440px,#9100ff 480px,#a500ff 520px,#ba00ff 560px,#cf00ff 600px,#e400ff 640px,#f900ff 680px,#f0f 691.2px,#ff00f0 720px,#ff00de 760px,#ff00cf 800px,#ff00c2 835px)"></i><i style="left:233px;top:802px;width:829px;background:linear-gradient(90deg,#002eff 0px,#0029ff 40px,#0024ff 80px,#001fff 120px,#001aff 160px,#0018ff 175.5px,#0b15ff 200px,#1e10ff 240px,#300bff 280px,#4305ff 320px,#5600ff 359.8px,#6900ff 400px,#7d00ff 440px,#9100ff 480px,#a500ff 520px,#b900ff 560px,#ce00ff 600px,#e300ff 640px,#f800ff 680px,#f0f 692.6px,#ff00f1 720px,#ff00df 760px,#ff00cf 800px,#ff00c5 829px)"></i><i style="left:235px;top:806px;width:824px;background:linear-gradient(90deg,#002dff 0px,#0028ff 40px,#0023ff 80px,#001eff 120px,#0019ff 160px,#0018ff 174px,#0c14ff 200px,#1e0fff 240px,#310aff 280px,#4305ff 320px,#5400ff 354.4px,#5600ff 360px,#6a00ff 400px,#7d00ff 440px,#9100ff 480px,#a500ff 520px,#b900ff 560px,#ce00ff 600px,#e200ff 640px,#f800ff 680px,#f0f 694px,#ff00f2 720px,#ff00e0 760px,#ff00d0 800px,#ff00c8 824px)"></i><i style="left:237px;top:810px;width:819px;background:linear-gradient(90deg,#002cff 0px,#0027ff 40px,#02f 80px,#001dff 120px,#0018ff 160px,#0017ff 172.6px,#0c13ff 200px,#1f0eff 240px,#3109ff 280px,#4404ff 320px,#5100ff 349.1px,#5700ff 360px,#6a00ff 400px,#7d00ff 440px,#9100ff 480px,#a500ff 520px,#b900ff 560px,#cd00ff 600px,#e200ff 640px,#f700ff 680px,#f0f 695.4px,#ff00f3 720px,#ff00e1 760px,#ff00d1 800px,#ff00ca 819px)"></i><i style="left:239px;top:814px;width:813px;background:linear-gradient(90deg,#002bff 0px,#0026ff 40px,#02f 80px,#001dff 120px,#0018ff 160px,#0016ff 171.1px,#0d13ff 200px,#1f0eff 240px,#3108ff 280px,#4403ff 320px,#4f00ff 343.8px,#5700ff 360px,#6a00ff 400px,#7d00ff 440px,#9100ff 480px,#a400ff 520px,#b800ff 560px,#cd00ff 600px,#e100ff 640px,#f600ff 680px,#f0f 696.8px,#ff00f3 720px,#ff00e1 760px,#ff00d2 800px,#ff00cd 813px)"></i><i style="left:241px;top:818px;width:808px;background:linear-gradient(90deg,#002aff 0px,#0025ff 40px,#0021ff 80px,#001cff 120px,#0017ff 160px,#0016ff 169.7px,#0d12ff 200px,#200dff 240px,#3208ff 280px,#4402ff 320px,#4d00ff 338.4px,#5700ff 360px,#6a00ff 400px,#7d00ff 440px,#9000ff 480px,#a400ff 520px,#b800ff 560px,#c0f 600px,#e100ff 640px,#f500ff 680px,#f0f 698.2px,#ff00f4 720px,#ff00e2 760px,#ff00d2 800px,#ff00cf 808px)"></i><i style="left:243px;top:822px;width:803px;background:linear-gradient(90deg,#0029ff 0px,#0025ff 40px,#0020ff 80px,#001bff 120px,#0016ff 160px,#0015ff 168.2px,#0e11ff 200px,#200cff 240px,#3207ff 280px,#4502ff 320px,#4b00ff 333.1px,#5700ff 360px,#6a00ff 400px,#7d00ff 440px,#9000ff 480px,#a400ff 520px,#b800ff 560px,#c0f 600px,#e000ff 640px,#f500ff 680px,#f0f 699.7px,#ff00f5 720px,#ff00e3 760px,#ff00d3 800px,#ff00d2 803px)"></i><i style="left:245px;top:826px;width:797px;background:linear-gradient(90deg,#0029ff 0px,#0024ff 40px,#001fff 80px,#001aff 120px,#0015ff 160px,#0014ff 166.8px,#0f10ff 200px,#200bff 240px,#3306ff 280px,#4501ff 320px,#4800ff 327.8px,#5700ff 360px,#6a00ff 400px,#7d00ff 440px,#9000ff 480px,#a400ff 520px,#b700ff 560px,#cb00ff 600px,#e000ff 640px,#f400ff 680px,#f0f 701.1px,#ff00f6 720px,#ff00e3 760px,#ff00d5 797px)"></i><i style="left:248px;top:830px;width:791px;background:linear-gradient(90deg,#0028ff 0px,#0023ff 40px,#001eff 80px,#0019ff 120px,#0014ff 160px,#0014ff 164.3px,#100fff 200px,#210aff 240px,#3305ff 280px,#4600ff 320px,#5800ff 360px,#6b00ff 400px,#7e00ff 440px,#9100ff 480px,#a400ff 520px,#b800ff 560px,#cb00ff 600px,#e000ff 640px,#f400ff 680px,#f0f 701.5px,#ff00f6 720px,#ff00e4 760px,#ff00d7 791px)"></i><i style="left:250px;top:834px;width:786px;background:linear-gradient(90deg,#0027ff 0px,#02f 40px,#001dff 80px,#0018ff 120px,#0014ff 160px,#100fff 200px,#220aff 240px,#3405ff 280px,#40f 316.1px,#4600ff 320px,#5800ff 360px,#6b00ff 400px,#7e00ff 440px,#9100ff 480px,#a400ff 520px,#b700ff 560px,#cb00ff 600px,#df00ff 640px,#f300ff 680px,#f0f 702.9px,#ff00f6 720px,#ff00e4 760px,#ff00da 786px)"></i><i style="left:252px;top:838px;width:781px;background:linear-gradient(90deg,#0026ff 0px,#0021ff 40px,#001cff 80px,#0018ff 120px,#0013ff 160px,#110eff 200px,#2209ff 240px,#3404ff 280px,#4200ff 310.8px,#4600ff 320px,#5800ff 360px,#6b00ff 400px,#7e00ff 440px,#9000ff 480px,#a400ff 520px,#b700ff 560px,#cb00ff 600px,#de00ff 640px,#f300ff 680px,#f0f 704.3px,#ff00f7 720px,#ff00e5 760px,#f0d 781px)"></i><i style="left:254px;top:842px;width:775px;background:linear-gradient(90deg,#0025ff 0px,#0020ff 40px,#001cff 80px,#0017ff 120px,#0012ff 160px,#110dff 200px,#2308ff 240px,#3403ff 280px,#4000ff 305.5px,#4600ff 320px,#5900ff 360px,#6b00ff 400px,#7d00ff 440px,#9000ff 480px,#a300ff 520px,#b700ff 560px,#ca00ff 600px,#de00ff 640px,#f200ff 680px,#f0f 705.7px,#ff00f8 720px,#ff00e6 760px,#ff00e0 775px)"></i><i style="left:256px;top:846px;width:770px;background:linear-gradient(90deg,#0024ff 0px,#0020ff 40px,#001bff 80px,#0016ff 120px,#01f 158.5px,#120cff 200px,#2308ff 240px,#3503ff 280px,#3e00ff 300.1px,#4700ff 320px,#5900ff 360px,#6b00ff 400px,#7d00ff 440px,#9000ff 480px,#a300ff 520px,#b600ff 560px,#ca00ff 600px,#d0f 640px,#f100ff 680px,#f0f 707.1px,#ff00f9 720px,#ff00e7 760px,#ff00e3 770px)"></i><i style="left:258px;top:850px;width:765px;background:linear-gradient(90deg,#0023ff 0px,#001fff 40px,#001aff 80px,#0015ff 120px,#01f 157.1px,#120cff 200px,#2407ff 240px,#3502ff 280px,#3c00ff 294.8px,#4700ff 320px,#5900ff 360px,#6b00ff 400px,#7d00ff 440px,#9000ff 480px,#a300ff 520px,#b600ff 560px,#c900ff 600px,#d0f 640px,#f100ff 680px,#f0f 708.6px,#ff00f9 720px,#ff00e7 760px,#ff00e5 765px)"></i><i style="left:261px;top:854px;width:758px;background:linear-gradient(90deg,#02f 0px,#001eff 40px,#0019ff 80px,#0014ff 120px,#0010ff 154.6px,#0210ff 160px,#130bff 200px,#2506ff 240px,#3601ff 280px,#3a00ff 288.5px,#4800ff 320px,#5a00ff 360px,#6c00ff 400px,#7e00ff 440px,#9000ff 480px,#a300ff 520px,#b600ff 560px,#c900ff 600px,#d0f 640px,#f100ff 680px,#f0f 709px,#ff00fa 720px,#ff00e8 758px)"></i><i style="left:263px;top:858px;width:753px;background:linear-gradient(90deg,#02f 0px,#001dff 40px,#0018ff 80px,#0014ff 120px,#0010ff 153.2px,#030fff 160px,#140aff 200px,#2505ff 240px,#3600ff 280px,#3800ff 283.1px,#4800ff 320px,#5a00ff 360px,#6c00ff 400px,#7e00ff 440px,#9000ff 480px,#a300ff 520px,#b600ff 560px,#c900ff 600px,#dc00ff 640px,#f000ff 680px,#f0f 710.4px,#ff00fa 720px,#ff00eb 753px)"></i><i style="left:265px;top:862px;width:748px;background:linear-gradient(90deg,#0021ff 0px,#001cff 40px,#0018ff 80px,#0013ff 120px,#000fff 151.7px,#030eff 160px,#1409ff 200px,#2505ff 240px,#3600ff 277.8px,#4800ff 320px,#5a00ff 360px,#6c00ff 400px,#7e00ff 440px,#9000ff 480px,#a300ff 520px,#b600ff 560px,#c900ff 600px,#dc00ff 640px,#ef00ff 680px,#f0f 711.8px,#ff00fb 720px,#f0e 748px)"></i><i style="left:267px;top:866px;width:742px;background:linear-gradient(90deg,#0020ff 0px,#001cff 40px,#0017ff 80px,#0012ff 120px,#000fff 150.3px,#040eff 160px,#1509ff 200px,#2604ff 240px,#3400ff 272.5px,#3700ff 280px,#4800ff 320px,#5a00ff 360px,#6c00ff 400px,#7e00ff 440px,#9000ff 480px,#a300ff 520px,#b500ff 560px,#c800ff 600px,#db00ff 640px,#ef00ff 680px,#f0f 713.2px,#ff00fc 720px,#ff00f2 742px)"></i><i style="left:269px;top:870px;width:737px;background:linear-gradient(90deg,#001fff 0px,#001bff 40px,#0016ff 80px,#0012ff 120px,#000eff 148.8px,#050dff 160px,#1508ff 200px,#2603ff 240px,#3200ff 267.2px,#3700ff 280px,#4900ff 320px,#5a00ff 360px,#6c00ff 400px,#7e00ff 440px,#9000ff 480px,#a200ff 520px,#b500ff 560px,#c800ff 600px,#db00ff 640px,#e0f 680px,#f0f 714.6px,#ff00fc 720px,#ff00f4 737px)"></i><i style="left:272px;top:874px;width:731px;background:linear-gradient(90deg,#001eff 0px,#001aff 40px,#0015ff 80px,#01f 120px,#000eff 146.4px,#060cff 160px,#1607ff 200px,#2703ff 240px,#3000ff 260.8px,#3800ff 280px,#4900ff 320px,#5b00ff 360px,#6c00ff 400px,#7e00ff 440px,#9000ff 480px,#a300ff 520px,#b500ff 560px,#c800ff 600px,#db00ff 640px,#e0f 680px,#f0f 715px,#ff00fd 720px,#ff00f7 731px)"></i><i style="left:274px;top:878px;width:726px;background:linear-gradient(90deg,#001eff 0px,#0019ff 40px,#0015ff 80px,#0010ff 120px,#000dff 144.9px,#060bff 160px,#1707ff 200px,#2802ff 240px,#2e00ff 255.5px,#3800ff 280px,#4a00ff 320px,#5b00ff 360px,#6d00ff 400px,#7e00ff 440px,#9000ff 480px,#a200ff 520px,#b500ff 560px,#c700ff 600px,#da00ff 640px,#ed00ff 680px,#f0f 716.5px,#ff00fd 720px,#ff00fa 726px)"></i><i style="left:276px;top:882px;width:720px;background:linear-gradient(90deg,#001dff 0px,#0018ff 40px,#0014ff 80px,#000fff 120px,#000dff 143.5px,#070bff 160px,#1706ff 200px,#2801ff 240px,#2c00ff 250.2px,#3900ff 280px,#4a00ff 320px,#5b00ff 360px,#6d00ff 400px,#7e00ff 440px,#9000ff 480px,#a200ff 520px,#b500ff 560px,#c700ff 600px,#da00ff 640px,#ed00ff 680px,#f0f 717.9px,#ff00fe 720px)"></i><i style="left:278px;top:886px;width:715px;background:linear-gradient(90deg,#001cff 0px,#0018ff 40px,#0013ff 80px,#000fff 120px,#000cff 142px,#070aff 160px,#1805ff 200px,#2801ff 240px,#2a00ff 244.8px,#3900ff 280px,#4a00ff 320px,#5b00ff 360px,#6d00ff 400px,#7e00ff 440px,#9000ff 480px,#a200ff 520px,#b400ff 560px,#c700ff 600px,#d900ff 640px,#ec00ff 680px,#fd00ff 715px)"></i><i style="left:280px;top:890px;width:710px;background:linear-gradient(90deg,#001bff 0px,#0017ff 40px,#0012ff 80px,#000eff 120px,#000cff 140.6px,#0809ff 160px,#1805ff 200px,#2900ff 239.5px,#3900ff 280px,#4a00ff 320px,#5b00ff 360px,#6d00ff 400px,#7e00ff 440px,#9000ff 480px,#a200ff 520px,#b400ff 560px,#c600ff 600px,#d900ff 640px,#ec00ff 680px,#fa00ff 710px)"></i><i style="left:283px;top:894px;width:703px;background:linear-gradient(90deg,#001bff 0px,#0016ff 40px,#0012ff 80px,#000dff 120px,#000bff 138.1px,#0909ff 160px,#1904ff 200px,#2700ff 233.2px,#2a00ff 240px,#3a00ff 280px,#4b00ff 320px,#5c00ff 360px,#6d00ff 400px,#7f00ff 440px,#9000ff 480px,#a200ff 520px,#b400ff 560px,#c600ff 600px,#d900ff 640px,#ec00ff 680px,#f600ff 703px)"></i><i style="left:285px;top:898px;width:698px;background:linear-gradient(90deg,#001aff 0px,#0015ff 40px,#01f 80px,#000cff 120px,#000bff 136.7px,#0908ff 160px,#1a03ff 200px,#2500ff 227.8px,#2a00ff 240px,#3a00ff 280px,#4b00ff 320px,#5c00ff 360px,#6d00ff 400px,#7f00ff 440px,#9000ff 480px,#a200ff 520px,#b400ff 560px,#c600ff 600px,#d800ff 640px,#eb00ff 680px,#f300ff 698px)"></i><i style="left:287px;top:902px;width:693px;background:linear-gradient(90deg,#0019ff 0px,#0015ff 40px,#0010ff 80px,#000cff 120px,#000aff 135.2px,#0a07ff 160px,#1a03ff 200px,#2300ff 222.5px,#2a00ff 240px,#3b00ff 280px,#4b00ff 320px,#5c00ff 360px,#6d00ff 400px,#7f00ff 440px,#9000ff 480px,#a200ff 520px,#b400ff 560px,#c600ff 600px,#d800ff 640px,#ea00ff 680px,#f000ff 693px)"></i><i style="left:290px;top:906px;width:686px;background:linear-gradient(90deg,#0018ff 0px,#0014ff 40px,#000fff 80px,#000bff 120px,#000aff 132.8px,#0b06ff 160px,#1b02ff 200px,#2100ff 216.2px,#2b00ff 240px,#3c00ff 280px,#4c00ff 320px,#5d00ff 360px,#6e00ff 400px,#7f00ff 440px,#9000ff 480px,#a200ff 520px,#b400ff 560px,#c600ff 600px,#d800ff 640px,#ea00ff 680px,#ed00ff 686px)"></i><i style="left:292px;top:910px;width:681px;background:linear-gradient(90deg,#0018ff 0px,#0013ff 40px,#000fff 80px,#000aff 120px,#0009ff 131.3px,#0b06ff 160px,#1b01ff 200px,#2000ff 210.9px,#2b00ff 240px,#3c00ff 280px,#4c00ff 320px,#5d00ff 360px,#6e00ff 400px,#7f00ff 440px,#9000ff 480px,#a200ff 520px,#b400ff 560px,#c500ff 600px,#d700ff 640px,#ea00ff 680px,#ea00ff 681px)"></i><i style="left:294px;top:914px;width:676px;background:linear-gradient(90deg,#0017ff 0px,#0013ff 40px,#000eff 80px,#000aff 120px,#0009ff 129.9px,#0c05ff 160px,#1c01ff 200px,#1e00ff 205.5px,#2c00ff 240px,#3c00ff 280px,#4d00ff 320px,#5d00ff 360px,#6e00ff 400px,#7f00ff 440px,#9000ff 480px,#a200ff 520px,#b300ff 560px,#c500ff 600px,#d700ff 640px,#e700ff 676px)"></i><i style="left:297px;top:918px;width:669px;background:linear-gradient(90deg,#0016ff 0px,#0012ff 40px,#000dff 80px,#0009ff 120px,#0008ff 127.4px,#0d04ff 160px,#1c00ff 199.2px,#2d00ff 240px,#3d00ff 280px,#4d00ff 320px,#5e00ff 360px,#6f00ff 400px,#7f00ff 440px,#9100ff 480px,#a200ff 520px,#b300ff 560px,#c500ff 600px,#d700ff 640px,#e400ff 669px)"></i><i style="left:299px;top:922px;width:664px;background:linear-gradient(90deg,#0015ff 0px,#01f 40px,#000dff 80px,#0008ff 120px,#0008ff 126px,#0d04ff 160px,#1b00ff 193.9px,#1d00ff 200px,#2d00ff 240px,#3d00ff 280px,#4d00ff 320px,#5e00ff 360px,#6f00ff 400px,#7f00ff 440px,#9000ff 480px,#a200ff 520px,#b300ff 560px,#c500ff 600px,#d700ff 640px,#e100ff 664px)"></i><i style="left:301px;top:926px;width:659px;background:linear-gradient(90deg,#0015ff 0px,#0010ff 40px,#000cff 80px,#0008ff 120px,#0007ff 124.5px,#0e03ff 160px,#1900ff 188.5px,#1d00ff 200px,#2d00ff 240px,#3d00ff 280px,#4e00ff 320px,#5e00ff 360px,#6f00ff 400px,#7f00ff 440px,#9000ff 480px,#a200ff 520px,#b300ff 560px,#c400ff 600px,#d600ff 640px,#df00ff 659px)"></i><i style="left:304px;top:930px;width:653px;background:linear-gradient(90deg,#0014ff 0px,#0010ff 40px,#000bff 80px,#0007ff 120px,#0f02ff 160px,#1700ff 182.2px,#1e00ff 200px,#2e00ff 240px,#3e00ff 280px,#4e00ff 320px,#5f00ff 360px,#6f00ff 400px,#8000ff 440px,#9100ff 480px,#a200ff 520px,#b300ff 560px,#c500ff 600px,#d600ff 640px,#dc00ff 653px)"></i><i style="left:306px;top:934px;width:647px;background:linear-gradient(90deg,#0013ff 0px,#000fff 40px,#000bff 80px,#0006ff 120px,#0f02ff 160px,#1600ff 176.9px,#1f00ff 200px,#2e00ff 240px,#3e00ff 280px,#4e00ff 320px,#5f00ff 360px,#6f00ff 400px,#8000ff 440px,#9100ff 480px,#a200ff 520px,#b300ff 560px,#c400ff 600px,#d600ff 640px,#d900ff 647px)"></i><i style="left:308px;top:938px;width:642px;background:linear-gradient(90deg,#0013ff 0px,#000eff 40px,#000aff 80px,#0006ff 119.2px,#1001ff 160px,#1400ff 171.6px,#1f00ff 200px,#2f00ff 240px,#3f00ff 280px,#4f00ff 320px,#5f00ff 360px,#6f00ff 400px,#8000ff 440px,#9100ff 480px,#a100ff 520px,#b300ff 560px,#c400ff 600px,#d500ff 640px,#d600ff 642px)"></i><i style="left:311px;top:942px;width:636px;background:linear-gradient(90deg,#0012ff 0px,#000eff 40px,#0009ff 80px,#0005ff 116.7px,#0105ff 120px,#1001ff 160px,#1200ff 165.2px,#2000ff 200px,#3000ff 240px,#3f00ff 280px,#4f00ff 320px,#5f00ff 360px,#7000ff 400px,#8000ff 440px,#9100ff 480px,#a200ff 520px,#b300ff 560px,#c400ff 600px,#d400ff 636px)"></i><i style="left:313px;top:946px;width:630px;background:linear-gradient(90deg,#01f 0px,#000dff 40px,#0009ff 80px,#0005ff 115.3px,#0204ff 120px,#10f 159.9px,#2000ff 200px,#3000ff 240px,#4000ff 280px,#5000ff 320px,#6000ff 360px,#7000ff 400px,#8000ff 440px,#9100ff 480px,#a100ff 520px,#b200ff 560px,#c400ff 600px,#d100ff 630px)"></i><i style="left:316px;top:950px;width:624px;background:linear-gradient(90deg,#0010ff 0px,#000cff 40px,#0008ff 80px,#0004ff 112.8px,#0304ff 120px,#0f00ff 153.6px,#1200ff 160px,#2100ff 200px,#3100ff 240px,#4000ff 280px,#5000ff 320px,#6000ff 360px,#7000ff 400px,#8100ff 440px,#9100ff 480px,#a200ff 520px,#b300ff 560px,#c400ff 600px,#ce00ff 624px)"></i><i style="left:318px;top:954px;width:619px;background:linear-gradient(90deg,#0010ff 0px,#000cff 40px,#0007ff 80px,#0004ff 111.4px,#0303ff 120px,#0e00ff 148.2px,#1200ff 160px,#20f 200px,#3100ff 240px,#4100ff 280px,#5000ff 320px,#6000ff 360px,#7000ff 400px,#8100ff 440px,#9100ff 480px,#a200ff 520px,#b200ff 560px,#c300ff 600px,#cb00ff 619px)"></i><i style="left:320px;top:958px;width:613px;background:linear-gradient(90deg,#000fff 0px,#000bff 40px,#0007ff 80px,#0004ff 109.9px,#0402ff 120px,#0c00ff 142.9px,#1300ff 160px,#20f 200px,#3100ff 240px,#4100ff 280px,#5000ff 320px,#6000ff 360px,#7000ff 400px,#8100ff 440px,#9100ff 480px,#a100ff 520px,#b200ff 560px,#c300ff 600px,#c900ff 613px)"></i><i style="left:323px;top:962px;width:607px;background:linear-gradient(90deg,#000eff 0px,#000aff 40px,#0006ff 80px,#0003ff 107.5px,#0502ff 120px,#0b00ff 136.6px,#1400ff 160px,#2300ff 200px,#3200ff 240px,#4100ff 280px,#5100ff 320px,#6100ff 360px,#7100ff 400px,#8100ff 440px,#9100ff 480px,#a200ff 520px,#b200ff 560px,#c300ff 600px,#c600ff 607px)"></i><i style="left:325px;top:966px;width:602px;background:linear-gradient(90deg,#000eff 0px,#000aff 40px,#0005ff 80px,#0003ff 106px,#0501ff 120px,#0900ff 131.2px,#1400ff 160px,#2300ff 200px,#3200ff 240px,#4200ff 280px,#5100ff 320px,#6100ff 360px,#7100ff 400px,#8100ff 440px,#9100ff 480px,#a100ff 520px,#b200ff 560px,#c300ff 600px,#c400ff 602px)"></i><i style="left:328px;top:970px;width:596px;background:linear-gradient(90deg,#000dff 0px,#0009ff 40px,#0005ff 80px,#0002ff 103.6px,#0601ff 120px,#0800ff 124.9px,#1500ff 160px,#2400ff 200px,#30f 240px,#4200ff 280px,#5200ff 320px,#6100ff 360px,#7100ff 400px,#8100ff 440px,#9100ff 480px,#a200ff 520px,#b200ff 560px,#c100ff 596px)"></i><i style="left:330px;top:974px;width:590px;background:linear-gradient(90deg,#000cff 0px,#0008ff 40px,#0004ff 80px,#0002ff 102.1px,#0600ff 119.6px,#1500ff 160px,#2400ff 200px,#30f 240px,#4300ff 280px,#5200ff 320px,#6200ff 360px,#7100ff 400px,#8100ff 440px,#9100ff 480px,#a200ff 520px,#b200ff 560px,#be00ff 590px)"></i><i style="left:333px;top:978px;width:584px;background:linear-gradient(90deg,#000cff 0px,#0008ff 40px,#0004ff 80px,#0001ff 99.7px,#0500ff 113.3px,#0700ff 120px,#1600ff 160px,#2500ff 200px,#3400ff 240px,#4300ff 280px,#5300ff 320px,#6200ff 360px,#7200ff 400px,#8200ff 440px,#9200ff 480px,#a200ff 520px,#b200ff 560px,#bc00ff 584px)"></i><i style="left:335px;top:982px;width:579px;background:linear-gradient(90deg,#000bff 0px,#0007ff 40px,#0003ff 80px,#0001ff 98.2px,#0300ff 107.9px,#0800ff 120px,#1700ff 160px,#2500ff 200px,#3400ff 240px,#4300ff 280px,#5300ff 320px,#6200ff 360px,#7200ff 400px,#8200ff 440px,#9100ff 480px,#a200ff 520px,#b200ff 560px,#ba00ff 579px)"></i><i style="left:338px;top:986px;width:572px;background:linear-gradient(90deg,#000aff 0px,#0006ff 40px,#0002ff 80px,#0001ff 95.8px,#0200ff 101.6px,#0900ff 120px,#1700ff 160px,#2600ff 200px,#3500ff 240px,#40f 280px,#5300ff 320px,#6300ff 360px,#7200ff 400px,#8200ff 440px,#9200ff 480px,#a200ff 520px,#b200ff 560px,#b700ff 572px)"></i><i style="left:340px;top:990px;width:567px;background:linear-gradient(90deg,#000aff 0px,#0006ff 40px,#0002ff 80px,#00f 94.3px,#0900ff 120px,#1800ff 160px,#2600ff 200px,#3500ff 240px,#40f 280px,#5400ff 320px,#6300ff 360px,#7200ff 400px,#8200ff 440px,#9200ff 480px,#a200ff 520px,#b200ff 560px,#b500ff 567px)"></i><i style="left:343px;top:994px;width:561px;background:linear-gradient(90deg,#0009ff 0px,#0005ff 40px,#0001ff 80px,#00f 89.9px,#0a00ff 120px,#1900ff 160px,#2700ff 200px,#3600ff 240px,#4500ff 280px,#5400ff 320px,#6300ff 360px,#7300ff 400px,#8200ff 440px,#9200ff 480px,#a200ff 520px,#b200ff 560px,#b200ff 561px)"></i><i style="left:346px;top:998px;width:554px;background:linear-gradient(90deg,#0009ff 0px,#0004ff 40px,#00f 80px,#00f 83.6px,#00f 89.4px,#0b00ff 120px,#1900ff 160px,#2800ff 200px,#3700ff 240px,#4600ff 280px,#50f 320px,#6400ff 360px,#7300ff 400px,#8300ff 440px,#9200ff 480px,#a200ff 520px,#b000ff 554px)"></i><i style="left:348px;top:1002px;width:549px;background:linear-gradient(90deg,#0008ff 0px,#0004ff 40px,#00f 78.3px,#00f 88px,#0b00ff 120px,#1a00ff 160px,#2800ff 200px,#3700ff 240px,#4600ff 280px,#50f 320px,#6400ff 360px,#7300ff 400px,#8300ff 440px,#9200ff 480px,#a200ff 520px,#ad00ff 549px)"></i><i style="left:351px;top:1006px;width:543px;background:linear-gradient(90deg,#0007ff 0px,#0003ff 40px,#00f 72px,#00f 80px,#00f 85.5px,#0c00ff 120px,#1b00ff 160px,#2900ff 200px,#3800ff 240px,#4600ff 280px,#50f 320px,#6400ff 360px,#7400ff 400px,#8300ff 440px,#9200ff 480px,#a200ff 520px,#ab00ff 543px)"></i><i style="left:353px;top:1010px;width:538px;background:linear-gradient(90deg,#0007ff 0px,#0003ff 40px,#00f 66.6px,#00f 80px,#00f 84.1px,#0d00ff 120px,#1b00ff 160px,#2900ff 200px,#3800ff 240px,#4700ff 280px,#50f 320px,#6400ff 360px,#7400ff 400px,#8300ff 440px,#9200ff 480px,#a200ff 520px,#a900ff 538px)"></i><i style="left:356px;top:1014px;width:531px;background:linear-gradient(90deg,#0006ff 0px,#0002ff 40px,#00f 60.3px,#00f 80px,#0d00ff 120px,#1c00ff 160px,#2a00ff 200px,#3900ff 240px,#4700ff 280px,#5600ff 320px,#6500ff 360px,#7400ff 400px,#8300ff 440px,#9300ff 480px,#a200ff 520px,#a700ff 531px)"></i><i style="left:359px;top:1018px;width:525px;background:linear-gradient(90deg,#0005ff 0px,#0001ff 40px,#00f 54px,#00f 79.2px,#0e00ff 120px,#1c00ff 160px,#2b00ff 200px,#3900ff 240px,#4800ff 280px,#5700ff 320px,#6500ff 360px,#7400ff 400px,#8400ff 440px,#9300ff 480px,#a200ff 520px,#a400ff 525px)"></i><i style="left:361px;top:1022px;width:520px;background:linear-gradient(90deg,#0005ff 0px,#0001ff 40px,#00f 48.6px,#00f 77.7px,#0f00ff 120px,#1d00ff 160px,#2b00ff 200px,#3900ff 240px,#4800ff 280px,#5700ff 320px,#60f 360px,#7400ff 400px,#8400ff 440px,#9300ff 480px,#a200ff 520px)"></i><i style="left:364px;top:1026px;width:513px;background:linear-gradient(90deg,#0004ff 0px,#00f 40px,#00f 75.3px,#0200ff 80px,#1000ff 120px,#1e00ff 160px,#2c00ff 200px,#3a00ff 240px,#4900ff 280px,#5700ff 320px,#60f 360px,#7500ff 400px,#8400ff 440px,#9300ff 480px,#a000ff 513px)"></i><i style="left:367px;top:1030px;width:507px;background:linear-gradient(90deg,#0004ff 0px,#00f 36px,#00f 40px,#00f 72.8px,#0200ff 80px,#1000ff 120px,#1e00ff 160px,#2c00ff 200px,#3b00ff 240px,#4900ff 280px,#5800ff 320px,#60f 360px,#7500ff 400px,#8400ff 440px,#9300ff 480px,#9e00ff 507px)"></i><i style="left:369px;top:1034px;width:502px;background:linear-gradient(90deg,#0003ff 0px,#00f 30.6px,#00f 40px,#00f 71.4px,#0300ff 80px,#10f 120px,#1f00ff 160px,#2d00ff 200px,#3b00ff 240px,#4900ff 280px,#5800ff 320px,#6700ff 360px,#7500ff 400px,#8400ff 440px,#9300ff 480px,#9c00ff 502px)"></i><i style="left:372px;top:1038px;width:495px;background:linear-gradient(90deg,#0002ff 0px,#00f 24.3px,#00f 40px,#00f 68.9px,#0400ff 80px,#1200ff 120px,#1f00ff 160px,#2d00ff 200px,#3c00ff 240px,#4a00ff 280px,#5800ff 320px,#6700ff 360px,#7600ff 400px,#8500ff 440px,#9400ff 480px,#90f 495px)"></i><i style="left:375px;top:1042px;width:489px;background:linear-gradient(90deg,#0002ff 0px,#00f 18px,#00f 40px,#00f 66.5px,#0500ff 80px,#1200ff 120px,#2000ff 160px,#2e00ff 200px,#3c00ff 240px,#4b00ff 280px,#5900ff 320px,#6700ff 360px,#7600ff 400px,#8500ff 440px,#9400ff 480px,#9700ff 489px)"></i><i style="left:378px;top:1046px;width:483px;background:linear-gradient(90deg,#0001ff 0px,#00f 11.7px,#00f 40px,#00f 64px,#0500ff 80px,#1300ff 120px,#2100ff 160px,#2f00ff 200px,#3d00ff 240px,#4b00ff 280px,#5900ff 320px,#6800ff 360px,#70f 400px,#8500ff 440px,#9400ff 480px,#9500ff 483px)"></i><i style="left:380px;top:1050px;width:477px;background:linear-gradient(90deg,#0001ff 0px,#00f 6.3px,#00f 40px,#00f 62.6px,#0600ff 80px,#1300ff 120px,#2100ff 160px,#2f00ff 200px,#3d00ff 240px,#4b00ff 280px,#5a00ff 320px,#6800ff 360px,#70f 400px,#8500ff 440px,#9300ff 477px)"></i><i style="left:383px;top:1054px;width:471px;background:linear-gradient(90deg,#00f 0px,#00f 40px,#00f 60.1px,#0700ff 80px,#1400ff 120px,#20f 160px,#3000ff 200px,#3e00ff 240px,#4c00ff 280px,#5a00ff 320px,#6800ff 360px,#70f 400px,#8600ff 440px,#9100ff 471px)"></i><i style="left:386px;top:1058px;width:465px;background:linear-gradient(90deg,#00f 0px,#00f 40px,#00f 57.7px,#0700ff 80px,#1500ff 120px,#2300ff 160px,#3000ff 200px,#3e00ff 240px,#4c00ff 280px,#5b00ff 320px,#6900ff 360px,#70f 400px,#8600ff 440px,#8f00ff 465px)"></i><i style="left:389px;top:1062px;width:459px;background:linear-gradient(90deg,#00f 0px,#00f 40px,#00f 55.2px,#0800ff 80px,#1600ff 120px,#2300ff 160px,#3100ff 200px,#3f00ff 240px,#4d00ff 280px,#5b00ff 320px,#6900ff 360px,#7800ff 400px,#8600ff 440px,#8d00ff 459px)"></i><i style="left:392px;top:1066px;width:452px;background:linear-gradient(90deg,#00f 0px,#00f 40px,#00f 52.8px,#0900ff 80px,#1600ff 120px,#2400ff 160px,#3200ff 200px,#4000ff 240px,#4d00ff 280px,#5c00ff 320px,#6a00ff 360px,#7800ff 400px,#8700ff 440px,#8b00ff 452px)"></i><i style="left:395px;top:1070px;width:446px;background:linear-gradient(90deg,#00f 0px,#00f 40px,#00f 50.3px,#0a00ff 80px,#1700ff 120px,#2500ff 160px,#3200ff 200px,#4000ff 240px,#4e00ff 280px,#5c00ff 320px,#6a00ff 360px,#7800ff 400px,#8700ff 440px,#8900ff 446px)"></i><i style="left:397px;top:1074px;width:441px;background:linear-gradient(90deg,#00f 0px,#00f 40px,#00f 48.9px,#0a00ff 80px,#1800ff 120px,#2500ff 160px,#30f 200px,#4000ff 240px,#4e00ff 280px,#5c00ff 320px,#6a00ff 360px,#7800ff 400px,#8700ff 440px,#8700ff 441px)"></i><i style="left:400px;top:1078px;width:434px;background:linear-gradient(90deg,#00f 0px,#00f 40px,#00f 46.4px,#0b00ff 80px,#1800ff 120px,#2600ff 160px,#30f 200px,#4100ff 240px,#4f00ff 280px,#5d00ff 320px,#6b00ff 360px,#7900ff 400px,#8500ff 434px)"></i><i style="left:403px;top:1082px;width:428px;background:linear-gradient(90deg,#00f 0px,#00f 40px,#00f 44px,#0c00ff 80px,#1900ff 120px,#2600ff 160px,#3400ff 200px,#4100ff 240px,#4f00ff 280px,#5d00ff 320px,#6b00ff 360px,#7900ff 400px,#8300ff 428px)"></i><i style="left:406px;top:1086px;width:422px;background:linear-gradient(90deg,#00f 0px,#00f 40px,#0d00ff 80px,#1a00ff 120px,#2700ff 160px,#3400ff 200px,#4200ff 240px,#5000ff 280px,#5e00ff 320px,#6b00ff 360px,#7a00ff 400px,#8100ff 422px)"></i><i style="left:409px;top:1090px;width:415px;background:linear-gradient(90deg,#00f 0px,#00f 39.1px,#0d00ff 80px,#1a00ff 120px,#2800ff 160px,#3500ff 200px,#4300ff 240px,#5000ff 280px,#5e00ff 320px,#6c00ff 360px,#7a00ff 400px,#7f00ff 415px)"></i><i style="left:412px;top:1094px;width:409px;background:linear-gradient(90deg,#00f 0px,#00f 36.6px,#0100ff 40px,#0e00ff 80px,#1b00ff 120px,#2800ff 160px,#3600ff 200px,#4300ff 240px,#5100ff 280px,#5e00ff 320px,#6c00ff 360px,#7a00ff 400px,#7d00ff 409px)"></i><i style="left:415px;top:1098px;width:403px;background:linear-gradient(90deg,#00f 0px,#00f 34.2px,#0200ff 40px,#0f00ff 80px,#1c00ff 120px,#2900ff 160px,#3600ff 200px,#40f 240px,#5100ff 280px,#5f00ff 320px,#6d00ff 360px,#7b00ff 400px,#7c00ff 403px)"></i><i style="left:418px;top:1102px;width:397px;background:linear-gradient(90deg,#00f 0px,#00f 31.7px,#0300ff 40px,#1000ff 80px,#1d00ff 120px,#2a00ff 160px,#3700ff 200px,#40f 240px,#5200ff 280px,#5f00ff 320px,#6d00ff 360px,#7a00ff 397px)"></i><i style="left:422px;top:1106px;width:389px;background:linear-gradient(90deg,#00f 0px,#00f 28.3px,#0400ff 40px,#10f 80px,#1e00ff 120px,#2b00ff 160px,#3800ff 200px,#4500ff 240px,#5300ff 280px,#6000ff 320px,#6e00ff 360px,#7800ff 389px)"></i><i style="left:425px;top:1110px;width:383px;background:linear-gradient(90deg,#00f 0px,#00f 25.8px,#0400ff 40px,#10f 80px,#1e00ff 120px,#2b00ff 160px,#3800ff 200px,#4600ff 240px,#5300ff 280px,#6100ff 320px,#6e00ff 360px,#7600ff 383px)"></i><i style="left:428px;top:1114px;width:377px;background:linear-gradient(90deg,#00f 0px,#00f 23.4px,#0500ff 40px,#1200ff 80px,#1f00ff 120px,#2c00ff 160px,#3900ff 200px,#4600ff 240px,#5400ff 280px,#6100ff 320px,#6f00ff 360px,#7400ff 377px)"></i><i style="left:431px;top:1118px;width:370px;background:linear-gradient(90deg,#00f 0px,#00f 20.9px,#0600ff 40px,#1300ff 80px,#2000ff 120px,#2d00ff 160px,#3a00ff 200px,#4700ff 240px,#5400ff 280px,#6100ff 320px,#6f00ff 360px,#7200ff 370px)"></i><i style="left:434px;top:1122px;width:364px;background:linear-gradient(90deg,#00f 0px,#00f 18.5px,#0700ff 40px,#1300ff 80px,#2000ff 120px,#2d00ff 160px,#3a00ff 200px,#4700ff 240px,#50f 280px,#6200ff 320px,#6f00ff 360px,#7100ff 364px)"></i><i style="left:438px;top:1126px;width:357px;background:linear-gradient(90deg,#00f 0px,#00f 15px,#0800ff 40px,#1400ff 80px,#2100ff 120px,#2e00ff 160px,#3b00ff 200px,#4800ff 240px,#50f 280px,#6300ff 320px,#6f00ff 357px)"></i><i style="left:441px;top:1130px;width:350px;background:linear-gradient(90deg,#00f 0px,#00f 12.6px,#0900ff 40px,#1500ff 80px,#20f 120px,#2f00ff 160px,#3c00ff 200px,#4900ff 240px,#5600ff 280px,#6300ff 320px,#6d00ff 350px)"></i><i style="left:445px;top:1134px;width:343px;background:linear-gradient(90deg,#00f 0px,#00f 9.1px,#0a00ff 40px,#1600ff 80px,#2300ff 120px,#3000ff 160px,#3d00ff 200px,#4a00ff 240px,#5700ff 280px,#6400ff 320px,#6c00ff 343px)"></i><i style="left:448px;top:1138px;width:337px;background:linear-gradient(90deg,#00f 0px,#00f 6.7px,#0a00ff 40px,#1700ff 80px,#2300ff 120px,#3000ff 160px,#3d00ff 200px,#4a00ff 240px,#5700ff 280px,#6400ff 320px,#6a00ff 337px)"></i><i style="left:451px;top:1142px;width:330px;background:linear-gradient(90deg,#00f 0px,#00f 4.2px,#0b00ff 40px,#1800ff 80px,#2400ff 120px,#3100ff 160px,#3e00ff 200px,#4b00ff 240px,#5800ff 280px,#6500ff 320px,#6800ff 330px)"></i><i style="left:455px;top:1146px;width:323px;background:linear-gradient(90deg,#00f 0px,#0c00ff 40px,#1900ff 80px,#2500ff 120px,#3200ff 160px,#3e00ff 200px,#4b00ff 240px,#5800ff 280px,#6500ff 320px,#60f 323px)"></i><i style="left:459px;top:1150px;width:316px;background:linear-gradient(90deg,#0100ff 0px,#0d00ff 40px,#1900ff 80px,#2600ff 120px,#30f 160px,#3f00ff 200px,#4c00ff 240px,#5900ff 280px,#6500ff 316px)"></i><i style="left:462px;top:1154px;width:310px;background:linear-gradient(90deg,#0200ff 0px,#0e00ff 40px,#1a00ff 80px,#2700ff 120px,#30f 160px,#4000ff 200px,#4d00ff 240px,#5a00ff 280px,#6300ff 310px)"></i><i style="left:466px;top:1158px;width:302px;background:linear-gradient(90deg,#0300ff 0px,#0f00ff 40px,#1b00ff 80px,#2800ff 120px,#3400ff 160px,#4100ff 200px,#4d00ff 240px,#5a00ff 280px,#6100ff 302px)"></i><i style="left:469px;top:1162px;width:296px;background:linear-gradient(90deg,#0300ff 0px,#0f00ff 40px,#1c00ff 80px,#2800ff 120px,#3500ff 160px,#4100ff 200px,#4e00ff 240px,#5b00ff 280px,#6000ff 296px)"></i><i style="left:473px;top:1166px;width:289px;background:linear-gradient(90deg,#0400ff 0px,#1000ff 40px,#1d00ff 80px,#2900ff 120px,#3600ff 160px,#4200ff 200px,#4f00ff 240px,#5c00ff 280px,#5e00ff 289px)"></i><i style="left:477px;top:1170px;width:281px;background:linear-gradient(90deg,#0500ff 0px,#10f 40px,#1e00ff 80px,#2a00ff 120px,#3600ff 160px,#4300ff 200px,#5000ff 240px,#5c00ff 280px,#5d00ff 281px)"></i><i style="left:481px;top:1174px;width:274px;background:linear-gradient(90deg,#0600ff 0px,#1200ff 40px,#1f00ff 80px,#2b00ff 120px,#3700ff 160px,#40f 200px,#5000ff 240px,#5b00ff 274px)"></i><i style="left:484px;top:1178px;width:268px;background:linear-gradient(90deg,#0700ff 0px,#1300ff 40px,#1f00ff 80px,#2c00ff 120px,#3800ff 160px,#40f 200px,#5100ff 240px,#5a00ff 268px)"></i><i style="left:488px;top:1182px;width:260px;background:linear-gradient(90deg,#0800ff 0px,#1400ff 40px,#2000ff 80px,#2c00ff 120px,#3900ff 160px,#4500ff 200px,#5200ff 240px,#5800ff 260px)"></i><i style="left:492px;top:1186px;width:253px;background:linear-gradient(90deg,#0900ff 0px,#1500ff 40px,#2100ff 80px,#2d00ff 120px,#3a00ff 160px,#4600ff 200px,#5200ff 240px,#5600ff 253px)"></i><i style="left:496px;top:1190px;width:246px;background:linear-gradient(90deg,#0a00ff 0px,#1600ff 40px,#20f 80px,#2e00ff 120px,#3a00ff 160px,#4700ff 200px,#5300ff 240px,#50f 246px)"></i><i style="left:500px;top:1194px;width:239px;background:linear-gradient(90deg,#0b00ff 0px,#1700ff 40px,#2300ff 80px,#2f00ff 120px,#3b00ff 160px,#4800ff 200px,#5400ff 239px)"></i><i style="left:504px;top:1198px;width:231px;background:linear-gradient(90deg,#0c00ff 0px,#1800ff 40px,#2400ff 80px,#3000ff 120px,#3c00ff 160px,#4800ff 200px,#5200ff 231px)"></i><i style="left:508px;top:1202px;width:224px;background:linear-gradient(90deg,#0d00ff 0px,#1900ff 40px,#2500ff 80px,#3100ff 120px,#3d00ff 160px,#4900ff 200px,#5100ff 224px)"></i><i style="left:512px;top:1206px;width:217px;background:linear-gradient(90deg,#0e00ff 0px,#1a00ff 40px,#2600ff 80px,#3200ff 120px,#3e00ff 160px,#4a00ff 200px,#4f00ff 217px)"></i><i style="left:516px;top:1210px;width:209px;background:linear-gradient(90deg,#0f00ff 0px,#1b00ff 40px,#2700ff 80px,#30f 120px,#3f00ff 160px,#4b00ff 200px,#4d00ff 209px)"></i><i style="left:520px;top:1214px;width:202px;background:linear-gradient(90deg,#1000ff 0px,#1c00ff 40px,#2700ff 80px,#30f 120px,#3f00ff 160px,#4b00ff 200px,#4c00ff 202px)"></i><i style="left:524px;top:1218px;width:195px;background:linear-gradient(90deg,#10f 0px,#1d00ff 40px,#2800ff 80px,#3400ff 120px,#4000ff 160px,#4b00ff 195px)"></i><i style="left:528px;top:1222px;width:187px;background:linear-gradient(90deg,#1200ff 0px,#1d00ff 40px,#2900ff 80px,#3500ff 120px,#4100ff 160px,#4900ff 187px)"></i><i style="left:532px;top:1226px;width:180px;background:linear-gradient(90deg,#1300ff 0px,#1e00ff 40px,#2a00ff 80px,#3600ff 120px,#4200ff 160px,#4800ff 180px)"></i><i style="left:536px;top:1230px;width:173px;background:linear-gradient(90deg,#1400ff 0px,#1f00ff 40px,#2b00ff 80px,#3700ff 120px,#4300ff 160px,#4600ff 173px)"></i><i style="left:540px;top:1234px;width:166px;background:linear-gradient(90deg,#1500ff 0px,#2000ff 40px,#2c00ff 80px,#3800ff 120px,#4300ff 160px,#4500ff 166px)"></i><i style="left:544px;top:1238px;width:158px;background:linear-gradient(90deg,#1500ff 0px,#2100ff 40px,#2d00ff 80px,#3800ff 120px,#40f 158px)"></i><i style="left:549px;top:1242px;width:150px;background:linear-gradient(90deg,#1700ff 0px,#20f 40px,#2e00ff 80px,#3900ff 120px,#4200ff 150px)"></i><i style="left:553px;top:1246px;width:143px;background:linear-gradient(90deg,#1800ff 0px,#2300ff 40px,#2f00ff 80px,#3a00ff 120px,#4100ff 143px)"></i><i style="left:557px;top:1250px;width:135px;background:linear-gradient(90deg,#1900ff 0px,#2400ff 40px,#2f00ff 80px,#3b00ff 120px,#3f00ff 135px)"></i><i style="left:561px;top:1254px;width:128px;background:linear-gradient(90deg,#1900ff 0px,#2500ff 40px,#3000ff 80px,#3c00ff 120px,#3e00ff 128px)"></i><i style="left:565px;top:1258px;width:121px;background:linear-gradient(90deg,#1a00ff 0px,#2600ff 40px,#3100ff 80px,#3d00ff 120px,#3d00ff 121px)"></i><i style="left:569px;top:1262px;width:113px;background:linear-gradient(90deg,#1b00ff 0px,#2700ff 40px,#3200ff 80px,#3b00ff 113px)"></i><i style="left:573px;top:1266px;width:106px;background:linear-gradient(90deg,#1c00ff 0px,#2700ff 40px,#30f 80px,#3a00ff 106px)"></i><i style="left:578px;top:1270px;width:98px;background:linear-gradient(90deg,#1d00ff 0px,#2800ff 40px,#3400ff 80px,#3900ff 98px)"></i><i style="left:582px;top:1274px;width:90px;background:linear-gradient(90deg,#1e00ff 0px,#2900ff 40px,#3500ff 80px,#3700ff 90px)"></i><i style="left:586px;top:1278px;width:83px;background:linear-gradient(90deg,#1f00ff 0px,#2a00ff 40px,#3500ff 80px,#3600ff 83px)"></i><i style="left:590px;top:1282px;width:76px;background:linear-gradient(90deg,#2000ff 0px,#2b00ff 40px,#3500ff 76px)"></i><i style="left:594px;top:1286px;width:69px;background:linear-gradient(90deg,#2100ff 0px,#2c00ff 40px,#3400ff 69px)"></i><i style="left:598px;top:1290px;width:61px;background:linear-gradient(90deg,#2100ff 0px,#2d00ff 40px,#3200ff 61px)"></i><i style="left:602px;top:1294px;width:54px;background:linear-gradient(90deg,#20f 0px,#2d00ff 40px,#3100ff 54px)"></i><i style="left:606px;top:1298px;width:47px;background:linear-gradient(90deg,#2300ff 0px,#2e00ff 40px,#3000ff 47px)"></i><i style="left:610px;top:1302px;width:39px;background:linear-gradient(90deg,#2400ff 0px,#2f00ff 39px)"></i><i style="left:615px;top:1306px;width:31px;background:linear-gradient(90deg,#2500ff 0px,#2e00ff 31px)"></i><i style="left:620px;top:1310px;width:23px;background:linear-gradient(90deg,#2600ff 0px,#2c00ff 23px)"></i><i style="left:627px;top:1314px;width:11px;background:linear-gradient(90deg,#2800ff 0px,#2b00ff 11px)"></i>
</div>
<svg style="position:absolute;left:0;top:0" width="1489.2" height="1348.4"><path d="M637.1 1312.8 L637.1 1312.8 L637.0 1312.8 L637.0 1312.9 L636.9 1312.9 L636.9 1313.0 L636.8 1313.0 L636.8 1313.0 L636.7 1313.1 L636.7 1313.2 L636.6 1313.2 L636.5 1313.3 L636.5 1313.3 L636.4 1313.4 L636.3 1313.4 L636.2 1313.5 L636.1 1313.6 L636.0 1313.6 L636.0 1313.7 L635.9 1313.7 L635.8 1313.8 L635.7 1313.8 L635.5 1313.9 L635.4 1314.0 L635.3 1314.0 L635.2 1314.0 L635.1 1314.1 L635.0 1314.1 L634.8 1314.2 L634.7 1314.2 L634.6 1314.2 L634.4 1314.3 L634.3 1314.3 L634.1 1314.3 L633.9 1314.3 L633.8 1314.3 L633.6 1314.3 L633.4 1314.3 L633.3 1314.3 L633.1 1314.3 L632.9 1314.3 L632.7 1314.3 L632.5 1314.3 L632.3 1314.3 L632.1 1314.3 L631.9 1314.3 L631.7 1314.3 L631.4 1314.3 L631.2 1314.3 L631.0 1314.3 L630.7 1314.2 L630.4 1314.2 L630.2 1314.2 L629.8 1314.1 L629.5 1314.0 L629.2 1313.9 L628.8 1313.8 L628.4 1313.6 L628.0 1313.4 L627.5 1313.2 L627.0 1312.9 L626.5 1312.6 L625.9 1312.3 L625.3 1311.9 L624.6 1311.4 L623.9 1310.9 L623.2 1310.3 L622.4 1309.7 L621.6 1309.1 L620.7 1308.3 L619.8 1307.6 L618.8 1306.7 L617.7 1305.8 L616.7 1304.9 L615.5 1303.8 L614.4 1302.8 L613.1 1301.6 L611.8 1300.4 L610.5 1299.2 L609.1 1297.8 L607.7 1296.4 L606.2 1295.0 L604.6 1293.5 L603.0 1291.9 L601.3 1290.2 L599.6 1288.5 L597.8 1286.7 L595.9 1284.9 L594.0 1283.0 L592.0 1281.0 L590.0 1279.0 L587.8 1276.9 L585.7 1274.8 L583.4 1272.5 L581.1 1270.3 L578.7 1267.9 L576.2 1265.5 L573.7 1263.0 L571.0 1260.5 L568.3 1257.9 L565.5 1255.2 L562.7 1252.4 L559.7 1249.5 L556.7 1246.6 L553.5 1243.5 L550.3 1240.4 L546.9 1237.2 L543.5 1233.9 L540.0 1230.4 L536.3 1226.9 L532.6 1223.2 L528.7 1219.5 L524.8 1215.6 L520.7 1211.6 L516.6 1207.5 L512.3 1203.2 L507.9 1198.8 L503.4 1194.3 L498.9 1189.6 L494.2 1184.8 L489.4 1179.8 L484.5 1174.7 L479.5 1169.3 L474.4 1163.8 L469.2 1158.2 L463.9 1152.3 L458.5 1146.3 L453.0 1140.0 L447.3 1133.3 L441.4 1126.4 L435.3 1119.0 L428.9 1111.1 L422.3 1102.7 L415.4 1093.7 L408.2 1084.1 L400.7 1073.9 L393.0 1063.1 L385.0 1051.7 L376.7 1039.8 L368.3 1027.4 L359.7 1014.4 L350.9 1000.9 L341.9 986.9 L332.7 972.4 L323.5 957.4 L314.0 941.8 L304.5 925.7 L294.8 909.1 L284.9 891.9 L275.0 874.2 L265.0 855.9 L254.8 837.2 L244.7 818.1 L234.4 798.6 L224.2 778.8 L213.9 758.7 L203.6 738.3 L193.4 717.8 L183.2 697.2 L173.1 676.4 L163.1 655.5 L153.4 634.6 L143.8 613.7 L134.5 592.9 L125.6 572.1 L116.9 551.4 L108.6 530.9 L100.6 510.6 L92.9 490.5 L85.5 470.7 L78.5 451.2 L71.7 432.1 L65.3 413.3 L59.1 395.1 L53.3 377.2 L47.8 359.9 L42.6 343.1 L37.8 326.7 L33.3 311.0 L29.1 295.8 L25.2 281.2 L21.7 267.2 L18.5 253.8 L15.7 240.9 L13.1 228.6 L10.8 216.8 L8.8 205.5 L7.0 194.8 L5.6 184.6 L4.3 174.8 L3.3 165.5 L2.6 156.6 L2.0 148.2 L1.7 140.1 L1.7 132.4 L1.8 125.1 L2.1 118.1 L2.7 111.4 L3.5 105.0 L4.4 99.0 L5.6 93.2 L7.0 87.7 L8.5 82.6 L10.3 77.7 L12.2 73.0 L14.3 68.7 L16.6 64.6 L19.0 60.8 L21.6 57.2 L24.3 53.9 L27.2 50.9 L30.2 48.1 L33.4 45.6 L36.6 43.2 L40.0 41.1 L43.5 39.2 L47.1 37.6 L50.8 36.0 L54.5 34.7 L58.4 33.5 L62.3 32.5 L66.3 31.6 L70.4 30.9 L74.5 30.2 L78.7 29.7 L83.0 29.2 L87.3 28.8 L91.7 28.4 L96.1 28.2 L100.6 27.9 L105.1 27.7 L109.6 27.6 L114.1 27.5 L118.6 27.4 L123.2 27.4 L127.7 27.3 L132.2 27.3 L136.8 27.4 L141.3 27.4 L145.9 27.5 L150.4 27.6 L155.0 27.8 L159.6 27.9 L164.3 28.1 L168.9 28.3 L173.6 28.6 L178.4 28.8 L183.2 29.1 L188.0 29.4 L192.9 29.8 L197.8 30.1 L202.7 30.5 L207.8 30.9 L212.8 31.3 L218.0 31.7 L223.1 32.2 L228.4 32.7 L233.6 33.2 L239.0 33.7 L244.4 34.2 L249.8 34.8 L255.4 35.4 L260.9 36.0 L266.6 36.6 L272.3 37.2 L278.1 37.9 L283.9 38.5 L289.8 39.2 L295.8 39.9 L301.9 40.6 L308.0 41.4 L314.3 42.1 L320.6 42.9 L327.0 43.7 L333.5 44.5 L340.0 45.3 L346.7 46.1 L353.4 47.0 L360.3 47.9 L367.2 48.7 L374.2 49.6 L381.3 50.6 L388.5 51.5 L395.8 52.5 L403.2 53.4 L410.7 54.4 L418.3 55.4 L426.0 56.4 L433.7 57.5 L441.6 58.5 L449.6 59.6 L457.7 60.6 L465.9 61.7 L474.2 62.8 L482.7 64.0 L491.2 65.1 L499.8 66.2 L508.5 67.4 L517.4 68.6 L526.3 69.8 L535.4 71.0 L544.5 72.3 L553.8 73.5 L563.1 74.8 L572.6 76.1 L582.2 77.4 L591.9 78.7 L601.7 80.0 L611.6 81.3 L621.6 82.7 L631.7 84.1 L641.9 85.5 L652.2 86.9 L662.6 88.3 L673.1 89.7 L683.8 91.1 L694.5 92.6 L705.3 94.1 L716.2 95.5 L727.1 97.0 L738.2 98.5 L749.3 100.0 L760.5 101.5 L771.8 103.0 L783.1 104.6 L794.6 106.1 L806.1 107.7 L817.6 109.2 L829.2 110.8 L840.9 112.4 L852.6 114.0 L864.3 115.6 L876.0 117.2 L887.7 118.8 L899.3 120.3 L910.9 121.9 L922.4 123.5 L933.8 125.0 L945.1 126.6 L956.4 128.1 L967.7 129.6 L978.9 131.1 L990.1 132.7 L1001.3 134.2 L1012.5 135.7 L1023.7 137.2 L1034.9 138.7 L1046.0 140.2 L1057.0 141.7 L1067.9 143.2 L1078.7 144.6 L1089.3 146.1 L1099.8 147.5 L1110.1 148.9 L1120.2 150.2 L1130.2 151.6 L1140.1 152.9 L1149.7 154.2 L1159.3 155.5 L1168.7 156.7 L1178.0 158.0 L1187.1 159.2 L1196.1 160.5 L1204.9 161.7 L1213.6 162.8 L1222.1 164.0 L1230.4 165.1 L1238.6 166.2 L1246.6 167.3 L1254.4 168.4 L1262.0 169.4 L1269.5 170.5 L1276.8 171.4 L1283.9 172.4 L1290.9 173.4 L1297.7 174.3 L1304.3 175.2 L1310.8 176.1 L1317.2 176.9 L1323.4 177.8 L1329.4 178.6 L1335.4 179.4 L1341.2 180.2 L1346.8 180.9 L1352.4 181.7 L1357.8 182.4 L1363.2 183.1 L1368.4 183.8 L1373.5 184.5 L1378.6 185.2 L1383.5 185.9 L1388.4 186.5 L1393.2 187.2 L1397.9 187.8 L1402.5 188.5 L1407.1 189.1 L1411.5 189.7 L1415.9 190.3 L1420.1 190.9 L1424.3 191.4 L1428.3 192.0 L1432.3 192.5 L1436.2 193.0 L1440.0 193.6 L1443.7 194.1 L1447.3 194.5 L1450.7 195.0 L1454.1 195.5 L1457.4 195.9 L1460.6 196.3 L1463.7 196.8 L1466.7 197.2 L1469.6 197.5 L1472.4 197.9 L1475.2 198.3 L1477.8 198.6 L1480.4 199.0 L1482.9 199.3 L1485.3 199.7 L1487.7 200.0 L1490.0 200.3 L1492.2 200.6 L1494.3 200.9 L1496.4 201.1 L1498.4 201.4 L1500.3 201.7 L1502.2 201.9 L1504.0 202.2 L1505.7 202.4 L1507.4 202.6 L1509.0 202.8 L1510.5 203.1 L1512.0 203.3 L1513.4 203.4 L1514.8 203.6 L1516.1 203.8 L1517.3 204.0 L1518.5 204.1 L1519.6 204.3 L1520.7 204.4 L1521.7 204.6 L1522.7 204.7 L1523.6 204.8 L1524.5 205.0 L1525.3 205.1 L1526.1 205.2 L1526.9 205.3 L1527.6 205.4 L1528.3 205.5 L1529.1 205.6 L1529.7 205.7 L1530.4 205.8 L1531.1 205.9 L1531.7 205.9 L1532.4 206.0 L1533.0 206.1 L1533.6 206.2 L1534.3 206.3 L1534.9 206.4 L1535.5 206.5 L1536.1 206.5 L1536.7 206.6 L1537.3 206.7 L1537.8 206.8 L1538.4 206.8 L1539.0 206.9 L1539.5 207.0 L1540.1 207.1 L1540.6 207.1 L1541.1 207.2 L1541.6 207.3 L1542.1 207.4 L1542.6 207.4 L1543.1 207.5 L1543.6 207.6 L1544.0 207.6 L1544.5 207.7 L1544.9 207.7 L1545.3 207.8 L1545.7 207.8 L1546.0 207.9 L1546.4 207.9 L1546.7 208.0 L1547.1 208.0 L1547.4 208.1 L1547.6 208.1 L1547.9 208.1 L1548.2 208.2 L1548.4 208.2 L1548.6 208.2 L1548.7 208.3 L1548.9 208.3 L1549.0 208.3 L1549.1 208.3 L1549.2 208.3 L1549.3 208.3 L1549.3 208.3 L1549.3 208.3 L1549.3 208.3 L1549.2 208.3 Z M1119.5 171.3 L309.2 82.0 L434.6 994.2 Z" fill="rgba(0,0,0,0.39)" fill-rule="evenodd"/></svg>
</div>
<div style="position:absolute;left:2145.4px;top:548.2px;width:1496.5px;height:1355.5px;border:3.6px solid #a2a2a2;box-sizing:border-box"></div>
<b class="tk" style="left:2145.5px;top:1903.5px;width:3.2px;height:11px"></b>
<span class="tl" style="left:2087.1px;top:1919.6px;width:120px;text-align:center">0</span>
<b class="tk" style="left:2133.2px;top:1900.6px;width:12.5px;height:3.2px"></b>
<span class="tl" style="left:2012.5px;top:1888.7px;width:120px;text-align:right;transform-origin:100% 50%">0</span>
<b class="tk" style="left:2269.0px;top:1903.5px;width:3.2px;height:11px"></b>
<span class="tl" style="left:2210.6px;top:1919.6px;width:120px;text-align:center">0.05</span>
<b class="tk" style="left:2133.2px;top:1789.7px;width:12.5px;height:3.2px"></b>
<span class="tl" style="left:2012.5px;top:1774.5px;width:120px;text-align:right;transform-origin:100% 50%">0.05</span>
<b class="tk" style="left:2393.5px;top:1903.5px;width:3.2px;height:11px"></b>
<span class="tl" style="left:2335.1px;top:1919.6px;width:120px;text-align:center">0.1</span>
<b class="tk" style="left:2133.2px;top:1676.9px;width:12.5px;height:3.2px"></b>
<span class="tl" style="left:2012.5px;top:1661.7px;width:120px;text-align:right;transform-origin:100% 50%">0.1</span>
<b class="tk" style="left:2517.9px;top:1903.5px;width:3.2px;height:11px"></b>
<span class="tl" style="left:2459.5px;top:1919.6px;width:120px;text-align:center">0.15</span>
<b class="tk" style="left:2133.2px;top:1564.2px;width:12.5px;height:3.2px"></b>
<span class="tl" style="left:2012.5px;top:1549.0px;width:120px;text-align:right;transform-origin:100% 50%">0.15</span>
<b class="tk" style="left:2642.4px;top:1903.5px;width:3.2px;height:11px"></b>
<span class="tl" style="left:2584.0px;top:1919.6px;width:120px;text-align:center">0.2</span>
<b class="tk" style="left:2133.2px;top:1451.4px;width:12.5px;height:3.2px"></b>
<span class="tl" style="left:2012.5px;top:1436.2px;width:120px;text-align:right;transform-origin:100% 50%">0.2</span>
<b class="tk" style="left:2766.8px;top:1903.5px;width:3.2px;height:11px"></b>
<span class="tl" style="left:2708.4px;top:1919.6px;width:120px;text-align:center">0.25</span>
<b class="tk" style="left:2133.2px;top:1338.7px;width:12.5px;height:3.2px"></b>
<span class="tl" style="left:2012.5px;top:1323.5px;width:120px;text-align:right;transform-origin:100% 50%">0.25</span>
<b class="tk" style="left:2891.2px;top:1903.5px;width:3.2px;height:11px"></b>
<span class="tl" style="left:2832.8px;top:1919.6px;width:120px;text-align:center">0.3</span>
<b class="tk" style="left:2133.2px;top:1225.9px;width:12.5px;height:3.2px"></b>
<span class="tl" style="left:2012.5px;top:1210.7px;width:120px;text-align:right;transform-origin:100% 50%">0.3</span>
<b class="tk" style="left:3015.7px;top:1903.5px;width:3.2px;height:11px"></b>
<span class="tl" style="left:2957.3px;top:1919.6px;width:120px;text-align:center">0.35</span>
<b class="tk" style="left:2133.2px;top:1113.2px;width:12.5px;height:3.2px"></b>
<span class="tl" style="left:2012.5px;top:1098.0px;width:120px;text-align:right;transform-origin:100% 50%">0.35</span>
<b class="tk" style="left:3140.1px;top:1903.5px;width:3.2px;height:11px"></b>
<span class="tl" style="left:3081.7px;top:1919.6px;width:120px;text-align:center">0.4</span>
<b class="tk" style="left:2133.2px;top:1000.4px;width:12.5px;height:3.2px"></b>
<span class="tl" style="left:2012.5px;top:985.2px;width:120px;text-align:right;transform-origin:100% 50%">0.4</span>
<b class="tk" style="left:3264.6px;top:1903.5px;width:3.2px;height:11px"></b>
<span class="tl" style="left:3206.2px;top:1919.6px;width:120px;text-align:center">0.45</span>
<b class="tk" style="left:2133.2px;top:887.6px;width:12.5px;height:3.2px"></b>
<span class="tl" style="left:2012.5px;top:872.5px;width:120px;text-align:right;transform-origin:100% 50%">0.45</span>
<b class="tk" style="left:3389.0px;top:1903.5px;width:3.2px;height:11px"></b>
<span class="tl" style="left:3330.6px;top:1919.6px;width:120px;text-align:center">0.5</span>
<b class="tk" style="left:2133.2px;top:774.9px;width:12.5px;height:3.2px"></b>
<span class="tl" style="left:2012.5px;top:759.7px;width:120px;text-align:right;transform-origin:100% 50%">0.5</span>
<b class="tk" style="left:3513.4px;top:1903.5px;width:3.2px;height:11px"></b>
<span class="tl" style="left:3455.0px;top:1919.6px;width:120px;text-align:center">0.55</span>
<b class="tk" style="left:2133.2px;top:662.1px;width:12.5px;height:3.2px"></b>
<span class="tl" style="left:2012.5px;top:647.0px;width:120px;text-align:right;transform-origin:100% 50%">0.55</span>
<svg id="mk" style="position:absolute;left:0;top:0" width="3840" height="2160">
<g fill="none" stroke="#fff" stroke-width="2.6">
<rect x="2725.5" y="757.5" width="29" height="29"/>
<rect x="2710.1" y="778.9" width="29" height="29"/>
<rect x="2569.2" y="939.5" width="29" height="29"/>
<rect x="2583.7" y="722.7" width="29" height="29"/>
<rect x="2616.1" y="953.5" width="29" height="29"/>
<rect x="2513.5" y="810.7" width="29" height="29"/>
<rect x="2876.9" y="682.5" width="29" height="29"/>
<rect x="2575.0" y="1086.1" width="29" height="29"/>
<rect x="2920.4" y="798.5" width="29" height="29"/>
<rect x="2698.0" y="1001.2" width="29" height="29"/>
<rect x="2590.0" y="661.2" width="29" height="29"/>
<rect x="2774.2" y="670.3" width="29" height="29"/>
<rect x="2575.0" y="1223.8" width="29" height="29"/>
<rect x="2498.8" y="684.9" width="29" height="29"/>
<rect x="3064.5" y="763.9" width="29" height="29"/>
<rect x="2701.0" y="652.5" width="29" height="29"/>
<rect x="2844.9" y="924.9" width="29" height="29"/>
<rect x="2487.5" y="945.1" width="29" height="29"/>
<rect x="3251.2" y="708.3" width="29" height="29"/>
<rect x="2443.6" y="617.6" width="29" height="29"/>
<rect x="2569.2" y="1530.5" width="29" height="29"/>
<rect x="2475.3" y="860.0" width="29" height="29"/>
<rect x="2891.1" y="1141.3" width="29" height="29"/>
<rect x="2640.0" y="640.6" width="29" height="29"/>
<rect x="2832.7" y="717.1" width="29" height="29"/>
<rect x="2768.5" y="735.5" width="29" height="29"/>
<rect x="2716.2" y="752.5" width="29" height="29"/>
<rect x="2710.1" y="774.8" width="29" height="29"/>
<rect x="2778.1" y="741.7" width="29" height="29"/>
<rect x="2760.0" y="726.5" width="29" height="29"/>
<rect x="2794.2" y="708.5" width="29" height="29"/>
<rect x="2738.3" y="761.7" width="29" height="29"/>
<rect x="2876.9" y="687.8" width="29" height="29"/>
<rect x="2809.5" y="728.2" width="29" height="29"/>
<rect x="2781.1" y="746.4" width="29" height="29"/>
<rect x="2815.5" y="740.5" width="29" height="29"/>
<rect x="2742.9" y="747.6" width="29" height="29"/>
<rect x="2750.5" y="743.5" width="29" height="29"/>
<rect x="2757.3" y="739.4" width="29" height="29"/>
<rect x="2815.3" y="704.8" width="29" height="29"/>
<rect x="2795.5" y="733.5" width="29" height="29"/>
</g>
<rect x="2625.1" y="831.9" width="28.6" height="28.6" fill="none" stroke="#000" stroke-width="3.8"/>
<g stroke="#000" stroke-width="2.2">
<circle cx="2638.4" cy="872.0" r="8.8" fill="#ffffff"/>
<circle cx="2636.8" cy="873.7" r="8.8" fill="#e6e6e6"/>
<circle cx="2635.0" cy="875.5" r="8.8" fill="#d0d0d0"/>
<circle cx="2633.0" cy="877.2" r="8.8" fill="#c0c0c0"/>
<circle cx="2631.0" cy="879.0" r="8.8" fill="#a0a0a0"/>
<circle cx="2639.7" cy="992.0" r="8.8" fill="#000000"/>
<circle cx="2736.0" cy="804.9" r="8.8" fill="#745040"/>
<circle cx="2715.2" cy="822.5" r="8.8" fill="#c4967e"/>
<circle cx="2578.3" cy="986.3" r="8.8" fill="#5e7ca4"/>
<circle cx="2580.8" cy="757.6" r="8.8" fill="#5c6c42"/>
<circle cx="2627.5" cy="1000.9" r="8.8" fill="#8682b4"/>
<circle cx="2516.3" cy="854.5" r="8.8" fill="#66c0ac"/>
<circle cx="2885.9" cy="699.3" r="8.8" fill="#d87a2c"/>
<circle cx="2592.3" cy="1127.1" r="8.8" fill="#4c5ea8"/>
<circle cx="2926.2" cy="851.5" r="8.8" fill="#c45562"/>
<circle cx="2712.5" cy="1056.5" r="8.8" fill="#5e3c6c"/>
<circle cx="2587.0" cy="681.4" r="8.8" fill="#a2be45"/>
<circle cx="2783.2" cy="684.5" r="8.8" fill="#e8a234"/>
<circle cx="2601.5" cy="1258.2" r="8.8" fill="#38409a"/>
<circle cx="2487.0" cy="713.7" r="8.8" fill="#4a9a4a"/>
<circle cx="3099.6" cy="813.6" r="8.8" fill="#b0303c"/>
<circle cx="2709.4" cy="661.0" r="8.8" fill="#eec92c"/>
<circle cx="2856.3" cy="983.3" r="8.8" fill="#b85594"/>
<circle cx="2487.0" cy="998.5" r="8.8" fill="#008ca8"/>
<circle cx="3400.6" cy="728.5" r="8.8" fill="#ff0000"/>
<circle cx="2410.7" cy="614.7" r="8.8" fill="#00ff00"/>
<circle cx="2604.5" cy="1562.6" r="8.8" fill="#0000ff"/>
<circle cx="2469.2" cy="904.8" r="8.8" fill="#00ffff"/>
<circle cx="2934.9" cy="1219.0" r="8.8" fill="#ff00ff"/>
<circle cx="2648.2" cy="640.8" r="8.8" fill="#ffff00"/>
<circle cx="2835.8" cy="743.0" r="8.8" fill="#704028"/>
<circle cx="2762.7" cy="790.8" r="8.8" fill="#cc8a6a"/>
<circle cx="2724.0" cy="792.6" r="8.8" fill="#fcc49c"/>
<circle cx="2721.1" cy="816.6" r="8.8" fill="#fcc4aa"/>
<circle cx="2772.1" cy="777.9" r="8.8" fill="#f4a880"/>
<circle cx="2762.5" cy="760.6" r="8.8" fill="#c48e5e"/>
<circle cx="2794.4" cy="737.1" r="8.8" fill="#8e5c34"/>
<circle cx="2747.0" cy="788.5" r="8.8" fill="#ce9878"/>
<circle cx="2882.4" cy="705.2" r="8.8" fill="#a05a28"/>
<circle cx="2815.5" cy="766.2" r="8.8" fill="#d8845c"/>
<circle cx="2783.3" cy="787.3" r="8.8" fill="#d0886a"/>
<circle cx="2823.7" cy="781.7" r="8.8" fill="#fa9a76"/>
<circle cx="2744.0" cy="790.2" r="8.8" fill="#c8906e"/>
<circle cx="2751.0" cy="787.9" r="8.8" fill="#ca8e70"/>
<circle cx="2762.7" cy="781.4" r="8.8" fill="#cf9470"/>
<circle cx="2814.9" cy="728.3" r="8.8" fill="#7a4a28"/>
<circle cx="2800.9" cy="763.5" r="8.8" fill="#d98c5f"/>
</g></svg>
<svg style="position:absolute;left:0;top:1900px" width="1000" height="260" viewBox="0 1900 1000 260">
<g transform="translate(109 2057.7) rotate(45)">
<g transform="scale(-1 -1)" fill="#ffc90e">
<rect x="4.9" y="4.9" width="37.9" height="37.9" rx="6.5"/>
<path d="M10.6 50.3 L48.8 50.3 A1.5 1.5 0 0 0 50.3 48.8 L50.3 10.6 A6.0 6.0 0 0 1 56.3 4.6 L67.0 4.6 A6.0 6.0 0 0 1 73.0 10.6 L73.0 61.0 A12.0 12.0 0 0 1 61.0 73.0 L10.6 73.0 A6.0 6.0 0 0 1 4.6 67.0 L4.6 56.3 A6.0 6.0 0 0 1 10.6 50.3 Z"/>
</g>
<g transform="scale(1 -1)" fill="#00dc00">
<rect x="4.9" y="4.9" width="37.9" height="37.9" rx="6.5"/>
<path d="M10.6 50.3 L48.8 50.3 A1.5 1.5 0 0 0 50.3 48.8 L50.3 10.6 A6.0 6.0 0 0 1 56.3 4.6 L67.0 4.6 A6.0 6.0 0 0 1 73.0 10.6 L73.0 61.0 A12.0 12.0 0 0 1 61.0 73.0 L10.6 73.0 A6.0 6.0 0 0 1 4.6 67.0 L4.6 56.3 A6.0 6.0 0 0 1 10.6 50.3 Z"/>
</g>
<g transform="scale(-1 1)" fill="#4ac8f5">
<rect x="4.9" y="4.9" width="37.9" height="37.9" rx="6.5"/>
<path d="M10.6 50.3 L48.8 50.3 A1.5 1.5 0 0 0 50.3 48.8 L50.3 10.6 A6.0 6.0 0 0 1 56.3 4.6 L67.0 4.6 A6.0 6.0 0 0 1 73.0 10.6 L73.0 61.0 A12.0 12.0 0 0 1 61.0 73.0 L10.6 73.0 A6.0 6.0 0 0 1 4.6 67.0 L4.6 56.3 A6.0 6.0 0 0 1 10.6 50.3 Z"/>
</g>
<g transform="scale(1 1)" fill="#ee1459">
<rect x="4.9" y="4.9" width="37.9" height="37.9" rx="6.5"/>
<path d="M10.6 50.3 L48.8 50.3 A1.5 1.5 0 0 0 50.3 48.8 L50.3 10.6 A6.0 6.0 0 0 1 56.3 4.6 L67.0 4.6 A6.0 6.0 0 0 1 73.0 10.6 L73.0 61.0 A12.0 12.0 0 0 1 61.0 73.0 L10.6 73.0 A6.0 6.0 0 0 1 4.6 67.0 L4.6 56.3 A6.0 6.0 0 0 1 10.6 50.3 Z"/>
</g>
</g>
<g fill="none" stroke="#fff" stroke-width="20.4">
<path d="M322.6 2021.2 A46.8 46.8 0 1 0 322.6 2096.0"/>
<circle cx="392.1" cy="2058.6" r="46.8"/>
<circle cx="754.4" cy="2058.6" r="46.8"/>
<path stroke-width="19.7" d="M526.4 2112.7 V2047.7 A36.9 36.9 0 0 1 600.1 2047.7 V2112.7"/>
<path stroke-width="19.7" d="M600.0 2112.7 V2047.7 A36.9 36.9 0 0 1 673.8 2047.7 V2112.7"/>
<path stroke-width="19.7" d="M844.1 2112.7 V2056.5 A45.6 45.6 0 0 1 935.4 2056.5 V2112.7"/>
</g>
<g fill="#fff">
<rect x="432" y="2004.8" width="17.2" height="107.8"/>
<rect x="794.4" y="2004.8" width="17.4" height="107.8"/>
<rect x="472" y="1944" width="21.6" height="168.6"/>
<rect x="516.6" y="2004.5" width="19.7" height="108.2"/>
<rect x="834.5" y="2004.8" width="19.5" height="107.9"/>
</g>
</svg>
</body></html>
